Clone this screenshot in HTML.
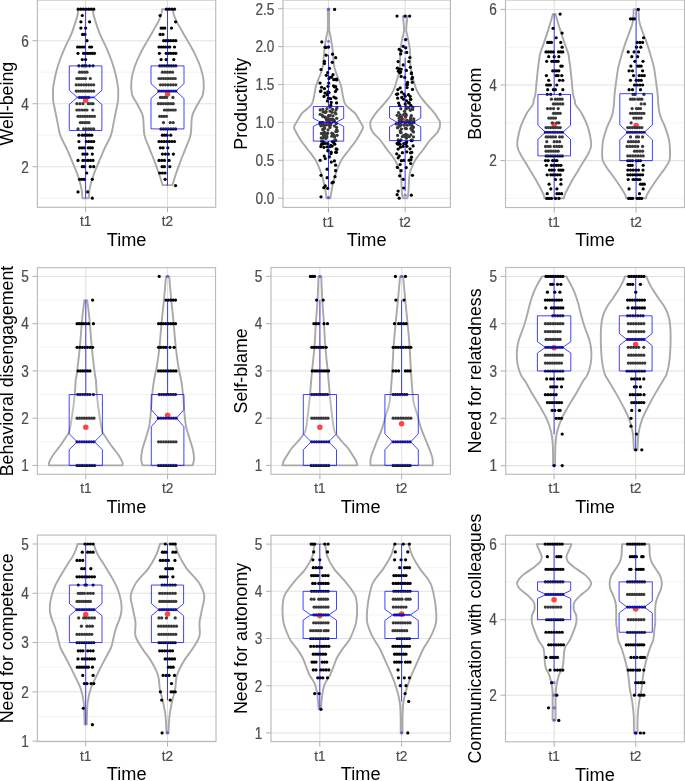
<!DOCTYPE html><html><head><meta charset="utf-8"><style>html,body{margin:0;padding:0;background:#fff;}svg{display:block;will-change:transform;}text{font-family:"Liberation Sans", sans-serif;}</style></head><body>
<svg width="685" height="781" viewBox="0 0 685 781">
<line x1="37.4" x2="215.7" y1="198.2" y2="198.2" stroke="#EBEBEB" stroke-width="0.6"/>
<line x1="37.4" x2="215.7" y1="135.2" y2="135.2" stroke="#EBEBEB" stroke-width="0.6"/>
<line x1="37.4" x2="215.7" y1="72.2" y2="72.2" stroke="#EBEBEB" stroke-width="0.6"/>
<line x1="37.4" x2="215.7" y1="9.2" y2="9.2" stroke="#EBEBEB" stroke-width="0.6"/>
<line x1="37.4" x2="215.7" y1="166.7" y2="166.7" stroke="#E2E2E2" stroke-width="1.05"/>
<line x1="37.4" x2="215.7" y1="103.7" y2="103.7" stroke="#E2E2E2" stroke-width="1.05"/>
<line x1="37.4" x2="215.7" y1="40.7" y2="40.7" stroke="#E2E2E2" stroke-width="1.05"/>
<line x1="85.6" x2="85.6" y1="0" y2="207.3" stroke="#DEDEDE" stroke-width="1.05"/>
<line x1="167.5" x2="167.5" y1="0" y2="207.3" stroke="#DEDEDE" stroke-width="1.05"/>
<path d="M93.30,9.20 C93.30,9.92 93.00,11.67 93.30,13.50 C93.60,15.33 94.03,16.85 95.10,20.20 C96.17,23.55 97.87,29.12 99.70,33.60 C101.53,38.08 104.13,42.62 106.10,47.10 C108.07,51.58 109.93,56.02 111.50,60.50 C113.07,64.98 114.42,69.52 115.50,74.00 C116.58,78.48 117.55,83.90 118.00,87.40 C118.45,90.90 118.20,92.73 118.20,95.00 C118.20,97.27 118.28,98.75 118.00,101.00 C117.72,103.25 117.20,105.02 116.50,108.50 C115.80,111.98 114.73,117.42 113.80,121.90 C112.87,126.38 112.47,130.92 110.90,135.40 C109.33,139.88 106.43,144.32 104.40,148.80 C102.37,153.28 100.55,157.82 98.70,162.30 C96.85,166.78 94.82,171.22 93.30,175.70 C91.78,180.18 90.33,185.45 89.60,189.20 C88.87,192.95 89.02,196.70 88.90,198.20 L82.30,198.20 C82.18,196.70 82.33,192.95 81.60,189.20 C80.87,185.45 79.42,180.18 77.90,175.70 C76.38,171.22 74.35,166.78 72.50,162.30 C70.65,157.82 68.83,153.28 66.80,148.80 C64.77,144.32 61.87,139.88 60.30,135.40 C58.73,130.92 58.33,126.38 57.40,121.90 C56.47,117.42 55.40,111.98 54.70,108.50 C54.00,105.02 53.48,103.25 53.20,101.00 C52.92,98.75 53.00,97.27 53.00,95.00 C53.00,92.73 52.75,90.90 53.20,87.40 C53.65,83.90 54.62,78.48 55.70,74.00 C56.78,69.52 58.13,64.98 59.70,60.50 C61.27,56.02 63.13,51.58 65.10,47.10 C67.07,42.62 69.67,38.08 71.50,33.60 C73.33,29.12 75.03,23.55 76.10,20.20 C77.17,16.85 77.60,15.33 77.90,13.50 C78.20,11.67 77.90,9.92 77.90,9.20 Z" fill="none" stroke="#A9A9A9" stroke-width="1.9" stroke-linejoin="round"/>
<path d="M172.90,9.20 C173.00,9.92 173.00,11.67 173.50,13.50 C174.00,15.33 174.88,17.97 175.90,20.20 C176.92,22.43 177.68,23.53 179.60,26.90 C181.52,30.27 184.87,35.92 187.40,40.40 C189.93,44.88 192.62,49.32 194.80,53.80 C196.98,58.28 199.03,62.82 200.50,67.30 C201.97,71.78 203.18,76.22 203.60,80.70 C204.02,85.18 203.68,90.82 203.00,94.20 C202.32,97.58 200.77,98.62 199.50,101.00 C198.23,103.38 196.58,106.13 195.40,108.50 C194.22,110.87 193.05,112.97 192.40,115.20 C191.75,117.43 191.82,118.53 191.50,121.90 C191.18,125.27 191.52,130.92 190.50,135.40 C189.48,139.88 187.13,144.32 185.40,148.80 C183.67,153.28 181.78,157.82 180.10,162.30 C178.42,166.78 176.57,171.90 175.30,175.70 C174.03,179.50 172.97,183.53 172.50,185.10 L162.50,185.10 C162.03,183.53 160.97,179.50 159.70,175.70 C158.43,171.90 156.58,166.78 154.90,162.30 C153.22,157.82 151.33,153.28 149.60,148.80 C147.87,144.32 145.52,139.88 144.50,135.40 C143.48,130.92 143.82,125.27 143.50,121.90 C143.18,118.53 143.25,117.43 142.60,115.20 C141.95,112.97 140.78,110.87 139.60,108.50 C138.42,106.13 136.77,103.38 135.50,101.00 C134.23,98.62 132.68,97.58 132.00,94.20 C131.32,90.82 130.98,85.18 131.40,80.70 C131.82,76.22 133.03,71.78 134.50,67.30 C135.97,62.82 138.02,58.28 140.20,53.80 C142.38,49.32 145.07,44.88 147.60,40.40 C150.13,35.92 153.48,30.27 155.40,26.90 C157.32,23.53 158.08,22.43 159.10,20.20 C160.12,17.97 161.00,15.33 161.50,13.50 C162.00,11.67 162.00,9.92 162.10,9.20 Z" fill="none" stroke="#A9A9A9" stroke-width="1.9" stroke-linejoin="round"/>
<circle cx="85.60" cy="100.23" r="2.75" fill="#FF1010"/>
<g fill="#000"><circle cx="78.20" cy="9.20" r="1.62"/><circle cx="80.78" cy="9.20" r="1.62"/><circle cx="83.37" cy="9.20" r="1.62"/><circle cx="85.95" cy="9.20" r="1.62"/><circle cx="88.53" cy="9.20" r="1.62"/><circle cx="91.12" cy="9.20" r="1.62"/><circle cx="93.70" cy="9.20" r="1.62"/><circle cx="82.30" cy="15.50" r="1.62"/><circle cx="80.90" cy="21.80" r="1.62"/><circle cx="89.60" cy="21.80" r="1.62"/><circle cx="80.90" cy="28.10" r="1.62"/><circle cx="85.60" cy="28.10" r="1.62"/><circle cx="82.60" cy="34.40" r="1.62"/><circle cx="84.90" cy="34.40" r="1.62"/><circle cx="87.00" cy="40.70" r="1.62"/><circle cx="77.60" cy="47.00" r="1.62"/><circle cx="79.83" cy="47.00" r="1.62"/><circle cx="82.07" cy="47.00" r="1.62"/><circle cx="84.30" cy="47.00" r="1.62"/><circle cx="89.60" cy="47.00" r="1.62"/><circle cx="91.60" cy="47.00" r="1.62"/><circle cx="78.00" cy="53.30" r="1.62"/><circle cx="83.60" cy="53.30" r="1.62"/><circle cx="85.76" cy="53.30" r="1.62"/><circle cx="87.92" cy="53.30" r="1.62"/><circle cx="90.08" cy="53.30" r="1.62"/><circle cx="92.24" cy="53.30" r="1.62"/><circle cx="94.40" cy="53.30" r="1.62"/><circle cx="82.30" cy="59.60" r="1.62"/><circle cx="85.60" cy="59.60" r="1.62"/><circle cx="78.90" cy="65.90" r="1.62"/><circle cx="82.30" cy="65.90" r="1.62"/><circle cx="84.30" cy="65.90" r="1.62"/><circle cx="86.30" cy="65.90" r="1.62"/><circle cx="89.60" cy="65.90" r="1.62"/><circle cx="93.00" cy="65.90" r="1.62"/><circle cx="79.60" cy="72.20" r="1.62"/><circle cx="82.07" cy="72.20" r="1.62"/><circle cx="84.53" cy="72.20" r="1.62"/><circle cx="87.00" cy="72.20" r="1.62"/><circle cx="76.90" cy="78.50" r="1.62"/><circle cx="79.07" cy="78.50" r="1.62"/><circle cx="81.25" cy="78.50" r="1.62"/><circle cx="83.42" cy="78.50" r="1.62"/><circle cx="85.60" cy="78.50" r="1.62"/><circle cx="90.30" cy="78.50" r="1.62"/><circle cx="76.20" cy="84.80" r="1.62"/><circle cx="78.70" cy="84.80" r="1.62"/><circle cx="81.20" cy="84.80" r="1.62"/><circle cx="83.70" cy="84.80" r="1.62"/><circle cx="86.20" cy="84.80" r="1.62"/><circle cx="88.70" cy="84.80" r="1.62"/><circle cx="91.20" cy="84.80" r="1.62"/><circle cx="93.70" cy="84.80" r="1.62"/><circle cx="76.20" cy="91.10" r="1.62"/><circle cx="78.36" cy="91.10" r="1.62"/><circle cx="80.52" cy="91.10" r="1.62"/><circle cx="82.68" cy="91.10" r="1.62"/><circle cx="84.84" cy="91.10" r="1.62"/><circle cx="87.00" cy="91.10" r="1.62"/><circle cx="89.00" cy="91.10" r="1.62"/><circle cx="91.35" cy="91.10" r="1.62"/><circle cx="93.70" cy="91.10" r="1.62"/><circle cx="79.60" cy="97.40" r="1.62"/><circle cx="81.85" cy="97.40" r="1.62"/><circle cx="84.10" cy="97.40" r="1.62"/><circle cx="86.35" cy="97.40" r="1.62"/><circle cx="88.60" cy="97.40" r="1.62"/><circle cx="76.90" cy="103.70" r="1.62"/><circle cx="79.90" cy="103.70" r="1.62"/><circle cx="82.90" cy="103.70" r="1.62"/><circle cx="88.30" cy="103.70" r="1.62"/><circle cx="90.65" cy="103.70" r="1.62"/><circle cx="93.00" cy="103.70" r="1.62"/><circle cx="76.90" cy="110.00" r="1.62"/><circle cx="79.42" cy="110.00" r="1.62"/><circle cx="81.95" cy="110.00" r="1.62"/><circle cx="84.47" cy="110.00" r="1.62"/><circle cx="87.00" cy="110.00" r="1.62"/><circle cx="92.80" cy="110.00" r="1.62"/><circle cx="78.00" cy="116.30" r="1.62"/><circle cx="80.34" cy="116.30" r="1.62"/><circle cx="82.69" cy="116.30" r="1.62"/><circle cx="85.03" cy="116.30" r="1.62"/><circle cx="87.37" cy="116.30" r="1.62"/><circle cx="89.71" cy="116.30" r="1.62"/><circle cx="92.06" cy="116.30" r="1.62"/><circle cx="94.40" cy="116.30" r="1.62"/><circle cx="80.30" cy="122.60" r="1.62"/><circle cx="82.47" cy="122.60" r="1.62"/><circle cx="84.65" cy="122.60" r="1.62"/><circle cx="86.82" cy="122.60" r="1.62"/><circle cx="89.00" cy="122.60" r="1.62"/><circle cx="78.00" cy="128.90" r="1.62"/><circle cx="83.60" cy="128.90" r="1.62"/><circle cx="86.12" cy="128.90" r="1.62"/><circle cx="88.65" cy="128.90" r="1.62"/><circle cx="91.17" cy="128.90" r="1.62"/><circle cx="93.70" cy="128.90" r="1.62"/><circle cx="78.90" cy="135.20" r="1.62"/><circle cx="82.30" cy="135.20" r="1.62"/><circle cx="84.65" cy="135.20" r="1.62"/><circle cx="87.00" cy="135.20" r="1.62"/><circle cx="89.35" cy="135.20" r="1.62"/><circle cx="91.70" cy="135.20" r="1.62"/><circle cx="78.90" cy="141.50" r="1.62"/><circle cx="86.30" cy="141.50" r="1.62"/><circle cx="88.77" cy="141.50" r="1.62"/><circle cx="91.23" cy="141.50" r="1.62"/><circle cx="93.70" cy="141.50" r="1.62"/><circle cx="79.60" cy="147.80" r="1.62"/><circle cx="81.95" cy="147.80" r="1.62"/><circle cx="84.30" cy="147.80" r="1.62"/><circle cx="88.30" cy="147.80" r="1.62"/><circle cx="90.30" cy="147.80" r="1.62"/><circle cx="92.30" cy="147.80" r="1.62"/><circle cx="82.90" cy="154.10" r="1.62"/><circle cx="84.95" cy="154.10" r="1.62"/><circle cx="87.00" cy="154.10" r="1.62"/><circle cx="92.30" cy="154.10" r="1.62"/><circle cx="78.00" cy="160.40" r="1.62"/><circle cx="82.90" cy="160.40" r="1.62"/><circle cx="85.42" cy="160.40" r="1.62"/><circle cx="87.95" cy="160.40" r="1.62"/><circle cx="90.47" cy="160.40" r="1.62"/><circle cx="93.00" cy="160.40" r="1.62"/><circle cx="82.30" cy="166.70" r="1.62"/><circle cx="84.30" cy="166.70" r="1.62"/><circle cx="90.30" cy="166.70" r="1.62"/><circle cx="93.70" cy="166.70" r="1.62"/><circle cx="86.70" cy="173.00" r="1.62"/><circle cx="79.60" cy="179.30" r="1.62"/><circle cx="81.95" cy="179.30" r="1.62"/><circle cx="84.30" cy="179.30" r="1.62"/><circle cx="92.30" cy="179.30" r="1.62"/><circle cx="78.00" cy="191.90" r="1.62"/><circle cx="87.60" cy="191.90" r="1.62"/><circle cx="92.30" cy="198.20" r="1.62"/></g>
<circle cx="167.50" cy="94.25" r="2.75" fill="#FF1010"/>
<g fill="#000"><circle cx="166.50" cy="9.20" r="1.62"/><circle cx="169.17" cy="9.20" r="1.62"/><circle cx="171.83" cy="9.20" r="1.62"/><circle cx="174.50" cy="9.20" r="1.62"/><circle cx="160.10" cy="15.50" r="1.62"/><circle cx="175.60" cy="21.80" r="1.62"/><circle cx="161.10" cy="28.10" r="1.62"/><circle cx="162.95" cy="28.10" r="1.62"/><circle cx="164.80" cy="28.10" r="1.62"/><circle cx="171.50" cy="28.10" r="1.62"/><circle cx="160.10" cy="34.40" r="1.62"/><circle cx="162.90" cy="34.40" r="1.62"/><circle cx="163.70" cy="40.70" r="1.62"/><circle cx="166.12" cy="40.70" r="1.62"/><circle cx="168.54" cy="40.70" r="1.62"/><circle cx="170.96" cy="40.70" r="1.62"/><circle cx="173.38" cy="40.70" r="1.62"/><circle cx="175.80" cy="40.70" r="1.62"/><circle cx="159.00" cy="47.00" r="1.62"/><circle cx="161.16" cy="47.00" r="1.62"/><circle cx="163.32" cy="47.00" r="1.62"/><circle cx="165.48" cy="47.00" r="1.62"/><circle cx="167.64" cy="47.00" r="1.62"/><circle cx="169.80" cy="47.00" r="1.62"/><circle cx="174.50" cy="47.00" r="1.62"/><circle cx="159.40" cy="53.30" r="1.62"/><circle cx="166.20" cy="53.30" r="1.62"/><circle cx="168.60" cy="53.30" r="1.62"/><circle cx="171.00" cy="53.30" r="1.62"/><circle cx="173.40" cy="53.30" r="1.62"/><circle cx="175.80" cy="53.30" r="1.62"/><circle cx="161.10" cy="59.60" r="1.62"/><circle cx="166.20" cy="59.60" r="1.62"/><circle cx="173.80" cy="59.60" r="1.62"/><circle cx="159.70" cy="65.90" r="1.62"/><circle cx="162.00" cy="65.90" r="1.62"/><circle cx="164.30" cy="65.90" r="1.62"/><circle cx="166.60" cy="65.90" r="1.62"/><circle cx="168.90" cy="65.90" r="1.62"/><circle cx="171.20" cy="65.90" r="1.62"/><circle cx="173.50" cy="65.90" r="1.62"/><circle cx="175.80" cy="65.90" r="1.62"/><circle cx="162.40" cy="72.20" r="1.62"/><circle cx="164.93" cy="72.20" r="1.62"/><circle cx="167.45" cy="72.20" r="1.62"/><circle cx="169.97" cy="72.20" r="1.62"/><circle cx="172.50" cy="72.20" r="1.62"/><circle cx="159.00" cy="78.50" r="1.62"/><circle cx="161.31" cy="78.50" r="1.62"/><circle cx="163.63" cy="78.50" r="1.62"/><circle cx="165.94" cy="78.50" r="1.62"/><circle cx="168.26" cy="78.50" r="1.62"/><circle cx="170.57" cy="78.50" r="1.62"/><circle cx="172.89" cy="78.50" r="1.62"/><circle cx="175.20" cy="78.50" r="1.62"/><circle cx="160.40" cy="84.80" r="1.62"/><circle cx="162.97" cy="84.80" r="1.62"/><circle cx="165.53" cy="84.80" r="1.62"/><circle cx="168.10" cy="84.80" r="1.62"/><circle cx="170.67" cy="84.80" r="1.62"/><circle cx="173.23" cy="84.80" r="1.62"/><circle cx="175.80" cy="84.80" r="1.62"/><circle cx="159.00" cy="91.10" r="1.62"/><circle cx="161.40" cy="91.10" r="1.62"/><circle cx="163.80" cy="91.10" r="1.62"/><circle cx="166.20" cy="91.10" r="1.62"/><circle cx="168.60" cy="91.10" r="1.62"/><circle cx="171.00" cy="91.10" r="1.62"/><circle cx="173.40" cy="91.10" r="1.62"/><circle cx="175.80" cy="91.10" r="1.62"/><circle cx="160.40" cy="97.40" r="1.62"/><circle cx="162.43" cy="97.40" r="1.62"/><circle cx="164.47" cy="97.40" r="1.62"/><circle cx="166.50" cy="97.40" r="1.62"/><circle cx="172.90" cy="97.40" r="1.62"/><circle cx="158.40" cy="103.70" r="1.62"/><circle cx="160.87" cy="103.70" r="1.62"/><circle cx="163.33" cy="103.70" r="1.62"/><circle cx="165.80" cy="103.70" r="1.62"/><circle cx="168.27" cy="103.70" r="1.62"/><circle cx="170.73" cy="103.70" r="1.62"/><circle cx="173.20" cy="103.70" r="1.62"/><circle cx="164.40" cy="110.00" r="1.62"/><circle cx="166.56" cy="110.00" r="1.62"/><circle cx="168.72" cy="110.00" r="1.62"/><circle cx="170.88" cy="110.00" r="1.62"/><circle cx="173.04" cy="110.00" r="1.62"/><circle cx="175.20" cy="110.00" r="1.62"/><circle cx="159.70" cy="116.30" r="1.62"/><circle cx="161.93" cy="116.30" r="1.62"/><circle cx="164.17" cy="116.30" r="1.62"/><circle cx="166.40" cy="116.30" r="1.62"/><circle cx="163.50" cy="122.60" r="1.62"/><circle cx="170.20" cy="122.60" r="1.62"/><circle cx="173.20" cy="122.60" r="1.62"/><circle cx="161.00" cy="128.90" r="1.62"/><circle cx="163.43" cy="128.90" r="1.62"/><circle cx="165.87" cy="128.90" r="1.62"/><circle cx="168.30" cy="128.90" r="1.62"/><circle cx="170.73" cy="128.90" r="1.62"/><circle cx="173.17" cy="128.90" r="1.62"/><circle cx="175.60" cy="128.90" r="1.62"/><circle cx="162.40" cy="135.20" r="1.62"/><circle cx="164.75" cy="135.20" r="1.62"/><circle cx="167.10" cy="135.20" r="1.62"/><circle cx="170.70" cy="135.20" r="1.62"/><circle cx="159.00" cy="141.50" r="1.62"/><circle cx="161.58" cy="141.50" r="1.62"/><circle cx="164.17" cy="141.50" r="1.62"/><circle cx="166.75" cy="141.50" r="1.62"/><circle cx="169.33" cy="141.50" r="1.62"/><circle cx="171.92" cy="141.50" r="1.62"/><circle cx="174.50" cy="141.50" r="1.62"/><circle cx="160.40" cy="147.80" r="1.62"/><circle cx="163.10" cy="147.80" r="1.62"/><circle cx="167.80" cy="147.80" r="1.62"/><circle cx="162.40" cy="154.10" r="1.62"/><circle cx="165.40" cy="154.10" r="1.62"/><circle cx="168.40" cy="154.10" r="1.62"/><circle cx="173.40" cy="154.10" r="1.62"/><circle cx="159.00" cy="160.40" r="1.62"/><circle cx="161.70" cy="160.40" r="1.62"/><circle cx="164.40" cy="160.40" r="1.62"/><circle cx="169.10" cy="160.40" r="1.62"/><circle cx="162.10" cy="166.70" r="1.62"/><circle cx="164.40" cy="166.70" r="1.62"/><circle cx="169.80" cy="166.70" r="1.62"/><circle cx="159.70" cy="173.00" r="1.62"/><circle cx="162.40" cy="173.00" r="1.62"/><circle cx="165.10" cy="173.00" r="1.62"/><circle cx="165.10" cy="179.30" r="1.62"/><circle cx="175.60" cy="185.60" r="1.62"/></g>
<line x1="85.60" x2="85.60" y1="9.20" y2="65.90" stroke="#0000FF" stroke-opacity="0.78" stroke-width="0.95"/>
<line x1="85.60" x2="85.60" y1="130.47" y2="198.20" stroke="#0000FF" stroke-opacity="0.78" stroke-width="0.95"/>
<path d="M69.30,65.90 L101.90,65.90 L101.90,90.25 L94.00,97.40 L101.90,104.55 L101.90,130.47 L69.30,130.47 L69.30,104.55 L77.20,97.40 L69.30,90.25 Z" fill="#fff" fill-opacity="0.22" stroke="#0000FF" stroke-opacity="0.78" stroke-width="0.95" stroke-linejoin="miter"/>
<line x1="77.20" x2="94.00" y1="97.40" y2="97.40" stroke="#0000FF" stroke-opacity="0.85" stroke-width="1.7"/>
<line x1="167.50" x2="167.50" y1="9.20" y2="65.90" stroke="#0000FF" stroke-opacity="0.78" stroke-width="0.95"/>
<line x1="167.50" x2="167.50" y1="128.90" y2="185.60" stroke="#0000FF" stroke-opacity="0.78" stroke-width="0.95"/>
<path d="M151.00,65.90 L184.00,65.90 L184.00,83.70 L175.90,91.10 L184.00,98.50 L184.00,128.90 L151.00,128.90 L151.00,98.50 L159.10,91.10 L151.00,83.70 Z" fill="#fff" fill-opacity="0.22" stroke="#0000FF" stroke-opacity="0.78" stroke-width="0.95" stroke-linejoin="miter"/>
<line x1="159.10" x2="175.90" y1="91.10" y2="91.10" stroke="#0000FF" stroke-opacity="0.85" stroke-width="1.7"/>
<rect x="37.4" y="0" width="178.3" height="207.3" fill="none" stroke="#BBBBBB" stroke-width="1.15"/>
<line x1="32.4" x2="37.4" y1="166.7" y2="166.7" stroke="#B3B3B3" stroke-width="1.05"/>
<text transform="translate(28.8 172.5) scale(1 1.17)" font-size="13.6" fill="#4D4D4D" stroke="#4D4D4D" stroke-width="0.2" text-anchor="end">2</text>
<line x1="32.4" x2="37.4" y1="103.7" y2="103.7" stroke="#B3B3B3" stroke-width="1.05"/>
<text transform="translate(28.8 109.5) scale(1 1.17)" font-size="13.6" fill="#4D4D4D" stroke="#4D4D4D" stroke-width="0.2" text-anchor="end">4</text>
<line x1="32.4" x2="37.4" y1="40.7" y2="40.7" stroke="#B3B3B3" stroke-width="1.05"/>
<text transform="translate(28.8 46.5) scale(1 1.17)" font-size="13.6" fill="#4D4D4D" stroke="#4D4D4D" stroke-width="0.2" text-anchor="end">6</text>
<line x1="85.6" x2="85.6" y1="207.3" y2="212.3" stroke="#B3B3B3" stroke-width="1.05"/>
<text transform="translate(85.6 226.4) scale(1 1.12)" font-size="13.6" fill="#4D4D4D" stroke="#4D4D4D" stroke-width="0.2" text-anchor="middle">t1</text>
<line x1="167.5" x2="167.5" y1="207.3" y2="212.3" stroke="#B3B3B3" stroke-width="1.05"/>
<text transform="translate(167.5 226.4) scale(1 1.12)" font-size="13.6" fill="#4D4D4D" stroke="#4D4D4D" stroke-width="0.2" text-anchor="middle">t2</text>
<text transform="translate(126.55 246) scale(1.02 1.08)" font-size="17.8" fill="#000" text-anchor="middle">Time</text>
<text x="13" y="103.65" font-size="17.8" fill="#000" text-anchor="middle" transform="rotate(-90 13 103.65)">Well-being</text>
<line x1="283" x2="450.4" y1="179.25" y2="179.25" stroke="#EBEBEB" stroke-width="0.6"/>
<line x1="283" x2="450.4" y1="141.35" y2="141.35" stroke="#EBEBEB" stroke-width="0.6"/>
<line x1="283" x2="450.4" y1="103.45" y2="103.45" stroke="#EBEBEB" stroke-width="0.6"/>
<line x1="283" x2="450.4" y1="65.55" y2="65.55" stroke="#EBEBEB" stroke-width="0.6"/>
<line x1="283" x2="450.4" y1="27.65" y2="27.65" stroke="#EBEBEB" stroke-width="0.6"/>
<line x1="283" x2="450.4" y1="198.2" y2="198.2" stroke="#E2E2E2" stroke-width="1.05"/>
<line x1="283" x2="450.4" y1="160.3" y2="160.3" stroke="#E2E2E2" stroke-width="1.05"/>
<line x1="283" x2="450.4" y1="122.4" y2="122.4" stroke="#E2E2E2" stroke-width="1.05"/>
<line x1="283" x2="450.4" y1="84.5" y2="84.5" stroke="#E2E2E2" stroke-width="1.05"/>
<line x1="283" x2="450.4" y1="46.6" y2="46.6" stroke="#E2E2E2" stroke-width="1.05"/>
<line x1="283" x2="450.4" y1="8.7" y2="8.7" stroke="#E2E2E2" stroke-width="1.05"/>
<line x1="328.5" x2="328.5" y1="0" y2="207.4" stroke="#DEDEDE" stroke-width="1.05"/>
<line x1="405.15" x2="405.15" y1="0" y2="207.4" stroke="#DEDEDE" stroke-width="1.05"/>
<path d="M329.20,8.70 C329.18,9.75 329.12,12.28 329.10,15.00 C329.08,17.72 329.07,22.38 329.10,25.00 C329.13,27.62 329.08,28.90 329.30,30.70 C329.52,32.50 330.07,34.10 330.40,35.80 C330.73,37.50 331.02,39.20 331.30,40.90 C331.58,42.60 331.87,44.30 332.10,46.00 C332.33,47.70 332.52,49.40 332.70,51.10 C332.88,52.80 333.05,54.50 333.20,56.20 C333.35,57.90 333.43,59.60 333.60,61.30 C333.77,63.00 333.91,64.83 334.20,66.40 C334.49,67.97 334.85,69.13 335.35,70.70 C335.85,72.27 336.56,74.10 337.20,75.80 C337.84,77.50 338.56,79.20 339.20,80.90 C339.84,82.60 340.57,84.30 341.05,86.00 C341.53,87.70 341.73,89.40 342.05,91.10 C342.37,92.80 342.61,94.50 342.95,96.20 C343.29,97.90 343.62,99.83 344.10,101.30 C344.58,102.77 344.82,103.72 345.80,105.00 C346.78,106.28 348.38,107.53 350.00,109.00 C351.62,110.47 353.70,111.50 355.50,113.80 C357.30,116.10 359.55,120.55 360.80,122.80 C362.05,125.05 362.93,125.82 363.00,127.30 C363.07,128.78 362.38,129.47 361.20,131.70 C360.02,133.93 357.92,137.70 355.90,140.70 C353.88,143.70 351.35,146.72 349.10,149.70 C346.85,152.68 344.27,155.62 342.40,158.60 C340.53,161.58 339.17,164.60 337.90,167.60 C336.63,170.60 335.70,173.62 334.80,176.60 C333.90,179.58 333.18,182.22 332.50,185.50 C331.82,188.78 331.03,194.18 330.70,196.30 C330.37,198.42 330.53,197.88 330.50,198.20 L326.50,198.20 C326.47,197.88 326.63,198.42 326.30,196.30 C325.97,194.18 325.18,188.78 324.50,185.50 C323.82,182.22 323.10,179.58 322.20,176.60 C321.30,173.62 320.37,170.60 319.10,167.60 C317.83,164.60 316.47,161.58 314.60,158.60 C312.73,155.62 310.15,152.68 307.90,149.70 C305.65,146.72 303.12,143.70 301.10,140.70 C299.08,137.70 296.98,133.93 295.80,131.70 C294.62,129.47 293.93,128.78 294.00,127.30 C294.07,125.82 294.95,125.05 296.20,122.80 C297.45,120.55 299.70,116.10 301.50,113.80 C303.30,111.50 305.38,110.47 307.00,109.00 C308.62,107.53 310.22,106.28 311.20,105.00 C312.18,103.72 312.42,102.77 312.90,101.30 C313.38,99.83 313.71,97.90 314.05,96.20 C314.39,94.50 314.63,92.80 314.95,91.10 C315.27,89.40 315.47,87.70 315.95,86.00 C316.43,84.30 317.16,82.60 317.80,80.90 C318.44,79.20 319.16,77.50 319.80,75.80 C320.44,74.10 321.15,72.27 321.65,70.70 C322.15,69.13 322.51,67.97 322.80,66.40 C323.09,64.83 323.23,63.00 323.40,61.30 C323.57,59.60 323.65,57.90 323.80,56.20 C323.95,54.50 324.12,52.80 324.30,51.10 C324.48,49.40 324.67,47.70 324.90,46.00 C325.13,44.30 325.42,42.60 325.70,40.90 C325.98,39.20 326.27,37.50 326.60,35.80 C326.93,34.10 327.48,32.50 327.70,30.70 C327.92,28.90 327.87,27.62 327.90,25.00 C327.93,22.38 327.92,17.72 327.90,15.00 C327.88,12.28 327.82,9.75 327.80,8.70 Z" fill="none" stroke="#A9A9A9" stroke-width="1.9" stroke-linejoin="round"/>
<path d="M407.45,16.10 C407.37,16.83 407.11,18.97 406.95,20.50 C406.79,22.03 406.62,23.65 406.50,25.30 C406.38,26.95 406.12,28.70 406.25,30.40 C406.38,32.10 406.94,33.80 407.30,35.50 C407.66,37.20 408.06,38.88 408.40,40.60 C408.74,42.32 409.07,44.08 409.35,45.80 C409.62,47.52 409.90,49.20 410.05,50.90 C410.20,52.60 410.22,54.30 410.25,56.00 C410.28,57.70 410.21,59.40 410.25,61.10 C410.29,62.80 410.33,64.50 410.50,66.20 C410.67,67.90 410.95,69.60 411.25,71.30 C411.55,73.00 411.95,74.95 412.30,76.40 C412.65,77.85 412.79,78.15 413.35,80.00 C413.91,81.85 414.82,85.27 415.65,87.50 C416.48,89.73 417.23,91.45 418.35,93.40 C419.47,95.35 420.85,97.27 422.35,99.20 C423.85,101.13 425.63,103.05 427.35,105.00 C429.07,106.95 431.05,108.95 432.65,110.90 C434.25,112.85 435.70,114.68 436.95,116.70 C438.20,118.72 440.00,120.50 440.15,123.00 C440.30,125.50 439.52,128.87 437.85,131.70 C436.18,134.53 432.67,136.92 430.15,140.00 C427.63,143.08 424.67,147.65 422.75,150.20 C420.83,152.75 419.92,153.60 418.65,155.30 C417.38,157.00 416.17,158.70 415.15,160.40 C414.13,162.10 413.33,163.78 412.55,165.50 C411.77,167.22 410.97,168.98 410.45,170.70 C409.93,172.42 409.70,174.10 409.45,175.80 C409.20,177.50 409.07,179.20 408.95,180.90 C408.83,182.60 408.83,184.30 408.75,186.00 C408.67,187.70 408.57,189.52 408.45,191.10 C408.33,192.68 408.23,194.32 408.05,195.50 C407.87,196.68 407.47,197.75 407.35,198.20 L402.95,198.20 C402.83,197.75 402.43,196.68 402.25,195.50 C402.07,194.32 401.97,192.68 401.85,191.10 C401.73,189.52 401.63,187.70 401.55,186.00 C401.47,184.30 401.47,182.60 401.35,180.90 C401.23,179.20 401.10,177.50 400.85,175.80 C400.60,174.10 400.37,172.42 399.85,170.70 C399.33,168.98 398.53,167.22 397.75,165.50 C396.97,163.78 396.17,162.10 395.15,160.40 C394.13,158.70 392.92,157.00 391.65,155.30 C390.38,153.60 389.47,152.75 387.55,150.20 C385.63,147.65 382.67,143.08 380.15,140.00 C377.63,136.92 374.12,134.53 372.45,131.70 C370.78,128.87 370.00,125.50 370.15,123.00 C370.30,120.50 372.10,118.72 373.35,116.70 C374.60,114.68 376.05,112.85 377.65,110.90 C379.25,108.95 381.23,106.95 382.95,105.00 C384.67,103.05 386.45,101.13 387.95,99.20 C389.45,97.27 390.83,95.35 391.95,93.40 C393.07,91.45 393.82,89.73 394.65,87.50 C395.48,85.27 396.39,81.85 396.95,80.00 C397.51,78.15 397.65,77.85 398.00,76.40 C398.35,74.95 398.75,73.00 399.05,71.30 C399.35,69.60 399.63,67.90 399.80,66.20 C399.97,64.50 400.01,62.80 400.05,61.10 C400.09,59.40 400.02,57.70 400.05,56.00 C400.08,54.30 400.10,52.60 400.25,50.90 C400.40,49.20 400.68,47.52 400.95,45.80 C401.22,44.08 401.56,42.32 401.90,40.60 C402.24,38.88 402.64,37.20 403.00,35.50 C403.36,33.80 403.92,32.10 404.05,30.40 C404.18,28.70 403.92,26.95 403.80,25.30 C403.68,23.65 403.51,22.03 403.35,20.50 C403.19,18.97 402.93,16.83 402.85,16.10 Z" fill="none" stroke="#A9A9A9" stroke-width="1.9" stroke-linejoin="round"/>
<circle cx="328.50" cy="122.40" r="2.75" fill="#FF1010"/>
<g fill="#000"><circle cx="335.97" cy="109.90" r="1.62"/><circle cx="330.04" cy="111.05" r="1.62"/><circle cx="321.36" cy="125.17" r="1.62"/><circle cx="333.95" cy="97.09" r="1.62"/><circle cx="336.99" cy="130.64" r="1.62"/><circle cx="319.96" cy="123.94" r="1.62"/><circle cx="323.05" cy="116.44" r="1.62"/><circle cx="327.87" cy="91.81" r="1.62"/><circle cx="328.50" cy="115.64" r="1.62"/><circle cx="324.60" cy="127.97" r="1.62"/><circle cx="325.25" cy="143.26" r="1.62"/><circle cx="320.94" cy="90.75" r="1.62"/><circle cx="334.60" cy="136.90" r="1.62"/><circle cx="323.39" cy="143.87" r="1.62"/><circle cx="336.95" cy="149.28" r="1.62"/><circle cx="330.78" cy="105.18" r="1.62"/><circle cx="321.23" cy="137.95" r="1.62"/><circle cx="324.04" cy="136.19" r="1.62"/><circle cx="333.73" cy="79.69" r="1.62"/><circle cx="332.58" cy="109.48" r="1.62"/><circle cx="336.79" cy="89.31" r="1.62"/><circle cx="335.27" cy="140.09" r="1.62"/><circle cx="321.47" cy="144.48" r="1.62"/><circle cx="324.25" cy="156.08" r="1.62"/><circle cx="324.92" cy="137.45" r="1.62"/><circle cx="329.96" cy="77.31" r="1.62"/><circle cx="336.58" cy="102.97" r="1.62"/><circle cx="334.95" cy="112.60" r="1.62"/><circle cx="335.69" cy="86.72" r="1.62"/><circle cx="323.04" cy="141.33" r="1.62"/><circle cx="327.12" cy="146.87" r="1.62"/><circle cx="336.64" cy="79.93" r="1.62"/><circle cx="322.79" cy="122.30" r="1.62"/><circle cx="323.72" cy="132.95" r="1.62"/><circle cx="330.51" cy="119.11" r="1.62"/><circle cx="324.44" cy="88.54" r="1.62"/><circle cx="322.80" cy="109.33" r="1.62"/><circle cx="329.99" cy="127.50" r="1.62"/><circle cx="320.01" cy="83.07" r="1.62"/><circle cx="330.90" cy="153.80" r="1.62"/><circle cx="325.31" cy="112.47" r="1.62"/><circle cx="329.31" cy="156.94" r="1.62"/><circle cx="332.67" cy="134.38" r="1.62"/><circle cx="335.80" cy="131.52" r="1.62"/><circle cx="330.70" cy="145.26" r="1.62"/><circle cx="330.95" cy="123.36" r="1.62"/><circle cx="332.64" cy="133.63" r="1.62"/><circle cx="334.46" cy="120.96" r="1.62"/><circle cx="331.99" cy="112.36" r="1.62"/><circle cx="335.90" cy="113.76" r="1.62"/><circle cx="325.00" cy="93.00" r="1.62"/><circle cx="322.69" cy="129.32" r="1.62"/><circle cx="329.96" cy="146.70" r="1.62"/><circle cx="328.44" cy="98.22" r="1.62"/><circle cx="327.63" cy="94.80" r="1.62"/><circle cx="326.99" cy="94.66" r="1.62"/><circle cx="325.25" cy="124.81" r="1.62"/><circle cx="320.25" cy="109.91" r="1.62"/><circle cx="332.17" cy="146.06" r="1.62"/><circle cx="333.63" cy="120.07" r="1.62"/><circle cx="327.71" cy="72.64" r="1.62"/><circle cx="320.53" cy="91.42" r="1.62"/><circle cx="330.79" cy="125.11" r="1.62"/><circle cx="336.57" cy="127.33" r="1.62"/><circle cx="328.06" cy="129.87" r="1.62"/><circle cx="328.01" cy="86.37" r="1.62"/><circle cx="324.49" cy="132.42" r="1.62"/><circle cx="333.01" cy="115.76" r="1.62"/><circle cx="336.11" cy="148.94" r="1.62"/><circle cx="327.68" cy="133.12" r="1.62"/><circle cx="326.33" cy="124.80" r="1.62"/><circle cx="333.72" cy="119.92" r="1.62"/><circle cx="331.16" cy="152.21" r="1.62"/><circle cx="332.33" cy="141.38" r="1.62"/><circle cx="325.34" cy="117.18" r="1.62"/><circle cx="327.46" cy="100.97" r="1.62"/><circle cx="328.28" cy="118.33" r="1.62"/><circle cx="333.57" cy="85.87" r="1.62"/><circle cx="328.79" cy="83.08" r="1.62"/><circle cx="331.83" cy="133.23" r="1.62"/><circle cx="336.41" cy="152.33" r="1.62"/><circle cx="328.97" cy="78.40" r="1.62"/><circle cx="334.55" cy="125.94" r="1.62"/><circle cx="326.41" cy="119.16" r="1.62"/><circle cx="329.13" cy="120.28" r="1.62"/><circle cx="320.19" cy="114.27" r="1.62"/><circle cx="331.86" cy="119.41" r="1.62"/><circle cx="328.03" cy="150.41" r="1.62"/><circle cx="323.07" cy="111.98" r="1.62"/><circle cx="321.98" cy="124.14" r="1.62"/><circle cx="323.12" cy="138.02" r="1.62"/><circle cx="330.61" cy="98.70" r="1.62"/><circle cx="329.03" cy="92.55" r="1.62"/><circle cx="326.98" cy="108.56" r="1.62"/><circle cx="323.30" cy="116.52" r="1.62"/><circle cx="329.02" cy="125.29" r="1.62"/><circle cx="334.78" cy="144.21" r="1.62"/><circle cx="335.94" cy="98.17" r="1.62"/><circle cx="323.91" cy="147.33" r="1.62"/><circle cx="321.41" cy="133.49" r="1.62"/><circle cx="333.60" cy="142.57" r="1.62"/><circle cx="323.24" cy="129.93" r="1.62"/><circle cx="336.74" cy="129.68" r="1.62"/><circle cx="331.77" cy="136.20" r="1.62"/><circle cx="321.57" cy="87.25" r="1.62"/><circle cx="322.28" cy="115.27" r="1.62"/><circle cx="334.49" cy="86.87" r="1.62"/><circle cx="336.45" cy="79.19" r="1.62"/><circle cx="330.28" cy="115.31" r="1.62"/><circle cx="327.69" cy="143.61" r="1.62"/><circle cx="323.13" cy="134.58" r="1.62"/><circle cx="334.85" cy="139.95" r="1.62"/><circle cx="330.25" cy="125.13" r="1.62"/><circle cx="335.74" cy="140.21" r="1.62"/><circle cx="334.04" cy="135.02" r="1.62"/><circle cx="326.84" cy="136.99" r="1.62"/><circle cx="325.71" cy="133.15" r="1.62"/><circle cx="325.96" cy="111.32" r="1.62"/><circle cx="323.79" cy="125.93" r="1.62"/><circle cx="326.56" cy="119.98" r="1.62"/><circle cx="336.95" cy="131.31" r="1.62"/><circle cx="326.77" cy="134.54" r="1.62"/><circle cx="326.31" cy="75.34" r="1.62"/><circle cx="335.64" cy="79.47" r="1.62"/><circle cx="336.72" cy="118.30" r="1.62"/><circle cx="321.04" cy="125.87" r="1.62"/><circle cx="320.49" cy="122.39" r="1.62"/><circle cx="328.00" cy="150.99" r="1.62"/><circle cx="336.34" cy="123.56" r="1.62"/><circle cx="330.22" cy="107.18" r="1.62"/><circle cx="331.23" cy="102.44" r="1.62"/><circle cx="332.31" cy="119.22" r="1.62"/><circle cx="324.01" cy="96.46" r="1.62"/><circle cx="332.98" cy="74.68" r="1.62"/><circle cx="337.10" cy="135.36" r="1.62"/><circle cx="335.64" cy="152.22" r="1.62"/><circle cx="336.83" cy="107.94" r="1.62"/><circle cx="321.73" cy="141.24" r="1.62"/><circle cx="323.28" cy="124.69" r="1.62"/><circle cx="324.31" cy="128.44" r="1.62"/><circle cx="333.39" cy="121.07" r="1.62"/><circle cx="335.41" cy="91.50" r="1.62"/><circle cx="326.02" cy="138.45" r="1.62"/><circle cx="330.84" cy="119.58" r="1.62"/><circle cx="324.08" cy="135.79" r="1.62"/><circle cx="320.77" cy="146.57" r="1.62"/><circle cx="329.23" cy="124.61" r="1.62"/><circle cx="331.60" cy="77.23" r="1.62"/><circle cx="326.27" cy="118.35" r="1.62"/><circle cx="325.75" cy="112.16" r="1.62"/><circle cx="321.00" cy="196.80" r="1.62"/><circle cx="323.80" cy="187.70" r="1.62"/><circle cx="325.30" cy="185.90" r="1.62"/><circle cx="327.70" cy="188.30" r="1.62"/><circle cx="332.00" cy="182.80" r="1.62"/><circle cx="333.20" cy="182.20" r="1.62"/><circle cx="335.00" cy="176.70" r="1.62"/><circle cx="335.60" cy="170.70" r="1.62"/><circle cx="321.00" cy="175.30" r="1.62"/><circle cx="327.10" cy="177.70" r="1.62"/><circle cx="327.10" cy="169.20" r="1.62"/><circle cx="320.20" cy="160.30" r="1.62"/><circle cx="325.30" cy="158.50" r="1.62"/><circle cx="331.30" cy="162.10" r="1.62"/><circle cx="335.60" cy="165.20" r="1.62"/><circle cx="334.40" cy="160.90" r="1.62"/><circle cx="334.60" cy="9.40" r="1.62"/><circle cx="321.80" cy="41.90" r="1.62"/><circle cx="325.10" cy="47.20" r="1.62"/><circle cx="325.90" cy="47.40" r="1.62"/><circle cx="328.50" cy="47.10" r="1.62"/><circle cx="326.10" cy="55.20" r="1.62"/><circle cx="332.60" cy="54.20" r="1.62"/><circle cx="335.70" cy="57.70" r="1.62"/><circle cx="324.40" cy="61.30" r="1.62"/><circle cx="324.40" cy="63.60" r="1.62"/><circle cx="332.30" cy="62.30" r="1.62"/><circle cx="321.00" cy="69.50" r="1.62"/><circle cx="329.50" cy="68.30" r="1.62"/></g>
<circle cx="405.15" cy="120.88" r="2.75" fill="#FF1010"/>
<g fill="#000"><circle cx="406.77" cy="151.81" r="1.62"/><circle cx="398.64" cy="103.07" r="1.62"/><circle cx="408.85" cy="61.58" r="1.62"/><circle cx="409.27" cy="102.81" r="1.62"/><circle cx="410.13" cy="96.34" r="1.62"/><circle cx="407.28" cy="120.27" r="1.62"/><circle cx="406.42" cy="138.02" r="1.62"/><circle cx="397.86" cy="127.70" r="1.62"/><circle cx="406.74" cy="108.30" r="1.62"/><circle cx="399.55" cy="105.53" r="1.62"/><circle cx="398.36" cy="143.85" r="1.62"/><circle cx="401.20" cy="69.25" r="1.62"/><circle cx="402.17" cy="118.57" r="1.62"/><circle cx="401.71" cy="97.44" r="1.62"/><circle cx="400.90" cy="139.87" r="1.62"/><circle cx="400.54" cy="132.54" r="1.62"/><circle cx="399.29" cy="120.64" r="1.62"/><circle cx="403.68" cy="160.40" r="1.62"/><circle cx="413.50" cy="136.90" r="1.62"/><circle cx="397.69" cy="98.21" r="1.62"/><circle cx="412.78" cy="107.46" r="1.62"/><circle cx="398.17" cy="157.85" r="1.62"/><circle cx="405.92" cy="114.01" r="1.62"/><circle cx="403.77" cy="143.54" r="1.62"/><circle cx="402.38" cy="152.69" r="1.62"/><circle cx="410.90" cy="116.94" r="1.62"/><circle cx="413.10" cy="145.88" r="1.62"/><circle cx="406.22" cy="115.35" r="1.62"/><circle cx="408.99" cy="107.96" r="1.62"/><circle cx="411.62" cy="140.70" r="1.62"/><circle cx="408.66" cy="102.95" r="1.62"/><circle cx="405.84" cy="108.94" r="1.62"/><circle cx="401.59" cy="116.81" r="1.62"/><circle cx="411.78" cy="152.47" r="1.62"/><circle cx="410.02" cy="148.80" r="1.62"/><circle cx="401.48" cy="129.03" r="1.62"/><circle cx="401.67" cy="92.24" r="1.62"/><circle cx="410.72" cy="99.31" r="1.62"/><circle cx="400.85" cy="108.69" r="1.62"/><circle cx="400.17" cy="87.92" r="1.62"/><circle cx="404.49" cy="111.26" r="1.62"/><circle cx="410.56" cy="124.95" r="1.62"/><circle cx="412.46" cy="89.48" r="1.62"/><circle cx="413.53" cy="127.09" r="1.62"/><circle cx="396.69" cy="153.83" r="1.62"/><circle cx="409.23" cy="122.54" r="1.62"/><circle cx="410.81" cy="118.26" r="1.62"/><circle cx="402.10" cy="121.70" r="1.62"/><circle cx="411.43" cy="72.95" r="1.62"/><circle cx="404.02" cy="114.47" r="1.62"/><circle cx="405.77" cy="134.31" r="1.62"/><circle cx="400.68" cy="120.29" r="1.62"/><circle cx="410.81" cy="105.33" r="1.62"/><circle cx="403.88" cy="114.78" r="1.62"/><circle cx="413.62" cy="122.26" r="1.62"/><circle cx="397.45" cy="127.74" r="1.62"/><circle cx="403.08" cy="146.38" r="1.62"/><circle cx="403.22" cy="64.94" r="1.62"/><circle cx="401.15" cy="132.72" r="1.62"/><circle cx="398.49" cy="112.51" r="1.62"/><circle cx="405.71" cy="137.02" r="1.62"/><circle cx="401.35" cy="160.71" r="1.62"/><circle cx="410.27" cy="110.30" r="1.62"/><circle cx="399.04" cy="118.25" r="1.62"/><circle cx="412.56" cy="128.37" r="1.62"/><circle cx="410.91" cy="159.84" r="1.62"/><circle cx="410.35" cy="67.25" r="1.62"/><circle cx="401.14" cy="124.72" r="1.62"/><circle cx="399.83" cy="126.25" r="1.62"/><circle cx="397.60" cy="135.44" r="1.62"/><circle cx="400.18" cy="144.30" r="1.62"/><circle cx="406.42" cy="137.95" r="1.62"/><circle cx="398.80" cy="141.99" r="1.62"/><circle cx="406.62" cy="141.87" r="1.62"/><circle cx="411.00" cy="128.74" r="1.62"/><circle cx="398.81" cy="141.74" r="1.62"/><circle cx="405.27" cy="122.83" r="1.62"/><circle cx="405.80" cy="143.19" r="1.62"/><circle cx="410.44" cy="120.70" r="1.62"/><circle cx="406.91" cy="146.27" r="1.62"/><circle cx="405.16" cy="96.21" r="1.62"/><circle cx="406.03" cy="106.79" r="1.62"/><circle cx="406.78" cy="84.71" r="1.62"/><circle cx="406.24" cy="135.57" r="1.62"/><circle cx="404.21" cy="125.24" r="1.62"/><circle cx="403.88" cy="94.12" r="1.62"/><circle cx="411.46" cy="157.22" r="1.62"/><circle cx="398.21" cy="139.92" r="1.62"/><circle cx="407.37" cy="135.22" r="1.62"/><circle cx="398.88" cy="124.89" r="1.62"/><circle cx="407.28" cy="125.14" r="1.62"/><circle cx="403.43" cy="135.90" r="1.62"/><circle cx="396.54" cy="94.26" r="1.62"/><circle cx="397.78" cy="93.94" r="1.62"/><circle cx="412.65" cy="109.49" r="1.62"/><circle cx="411.26" cy="140.17" r="1.62"/><circle cx="407.08" cy="87.57" r="1.62"/><circle cx="407.39" cy="84.56" r="1.62"/><circle cx="412.66" cy="131.06" r="1.62"/><circle cx="402.33" cy="136.58" r="1.62"/><circle cx="411.31" cy="115.51" r="1.62"/><circle cx="398.38" cy="71.13" r="1.62"/><circle cx="398.13" cy="149.03" r="1.62"/><circle cx="406.40" cy="128.68" r="1.62"/><circle cx="409.26" cy="136.75" r="1.62"/><circle cx="409.77" cy="123.43" r="1.62"/><circle cx="410.86" cy="134.96" r="1.62"/><circle cx="397.12" cy="115.27" r="1.62"/><circle cx="412.43" cy="108.66" r="1.62"/><circle cx="400.39" cy="147.23" r="1.62"/><circle cx="411.80" cy="78.93" r="1.62"/><circle cx="413.77" cy="118.98" r="1.62"/><circle cx="410.54" cy="120.07" r="1.62"/><circle cx="403.51" cy="99.25" r="1.62"/><circle cx="407.57" cy="82.41" r="1.62"/><circle cx="397.86" cy="89.59" r="1.62"/><circle cx="412.40" cy="77.38" r="1.62"/><circle cx="403.59" cy="135.72" r="1.62"/><circle cx="411.59" cy="124.38" r="1.62"/><circle cx="399.76" cy="72.82" r="1.62"/><circle cx="411.34" cy="73.51" r="1.62"/><circle cx="405.30" cy="113.96" r="1.62"/><circle cx="397.15" cy="143.29" r="1.62"/><circle cx="405.25" cy="128.28" r="1.62"/><circle cx="396.36" cy="123.99" r="1.62"/><circle cx="406.56" cy="100.80" r="1.62"/><circle cx="411.20" cy="128.29" r="1.62"/><circle cx="397.89" cy="144.21" r="1.62"/><circle cx="413.51" cy="131.90" r="1.62"/><circle cx="410.19" cy="123.78" r="1.62"/><circle cx="412.28" cy="82.31" r="1.62"/><circle cx="400.22" cy="130.86" r="1.62"/><circle cx="406.34" cy="70.46" r="1.62"/><circle cx="410.53" cy="99.37" r="1.62"/><circle cx="410.55" cy="152.76" r="1.62"/><circle cx="399.26" cy="155.98" r="1.62"/><circle cx="412.22" cy="140.14" r="1.62"/><circle cx="409.16" cy="160.16" r="1.62"/><circle cx="400.19" cy="114.79" r="1.62"/><circle cx="399.67" cy="116.83" r="1.62"/><circle cx="405.89" cy="143.69" r="1.62"/><circle cx="412.12" cy="125.95" r="1.62"/><circle cx="411.72" cy="129.78" r="1.62"/><circle cx="399.26" cy="123.60" r="1.62"/><circle cx="400.29" cy="140.46" r="1.62"/><circle cx="405.62" cy="116.98" r="1.62"/><circle cx="408.51" cy="94.73" r="1.62"/><circle cx="405.20" cy="103.93" r="1.62"/><circle cx="407.19" cy="121.71" r="1.62"/><circle cx="413.72" cy="120.96" r="1.62"/><circle cx="399.15" cy="198.20" r="1.62"/><circle cx="397.15" cy="194.70" r="1.62"/><circle cx="398.15" cy="191.10" r="1.62"/><circle cx="411.35" cy="195.20" r="1.62"/><circle cx="403.75" cy="188.00" r="1.62"/><circle cx="403.25" cy="179.30" r="1.62"/><circle cx="399.65" cy="175.80" r="1.62"/><circle cx="412.45" cy="175.30" r="1.62"/><circle cx="401.15" cy="170.70" r="1.62"/><circle cx="406.25" cy="167.60" r="1.62"/><circle cx="397.35" cy="167.40" r="1.62"/><circle cx="400.15" cy="164.50" r="1.62"/><circle cx="410.65" cy="163.50" r="1.62"/><circle cx="397.05" cy="16.10" r="1.62"/><circle cx="409.65" cy="16.10" r="1.62"/><circle cx="405.15" cy="16.10" r="1.62"/><circle cx="405.75" cy="39.60" r="1.62"/><circle cx="403.25" cy="46.30" r="1.62"/><circle cx="405.75" cy="47.80" r="1.62"/><circle cx="399.15" cy="49.30" r="1.62"/><circle cx="401.15" cy="50.90" r="1.62"/><circle cx="400.65" cy="53.90" r="1.62"/><circle cx="406.75" cy="52.40" r="1.62"/><circle cx="409.85" cy="57.50" r="1.62"/><circle cx="398.15" cy="61.60" r="1.62"/><circle cx="397.35" cy="68.20" r="1.62"/><circle cx="399.65" cy="69.00" r="1.62"/><circle cx="400.65" cy="72.10" r="1.62"/><circle cx="401.15" cy="76.40" r="1.62"/><circle cx="404.75" cy="77.40" r="1.62"/></g>
<line x1="328.50" x2="328.50" y1="54.71" y2="106.48" stroke="#0000FF" stroke-opacity="0.78" stroke-width="0.95"/>
<line x1="328.50" x2="328.50" y1="141.12" y2="188.35" stroke="#0000FF" stroke-opacity="0.78" stroke-width="0.95"/>
<path d="M313.30,106.48 L343.70,106.48 L343.70,118.40 L335.90,122.40 L343.70,126.40 L343.70,141.12 L313.30,141.12 L313.30,126.40 L321.10,122.40 L313.30,118.40 Z" fill="#fff" fill-opacity="0.22" stroke="#0000FF" stroke-opacity="0.78" stroke-width="0.95" stroke-linejoin="miter"/>
<line x1="321.10" x2="335.90" y1="122.40" y2="122.40" stroke="#0000FF" stroke-opacity="0.85" stroke-width="1.7"/>
<circle cx="328.50" cy="9.46" r="1.62" fill="#0000FF" fill-opacity="0.45"/>
<circle cx="328.50" cy="41.29" r="1.62" fill="#0000FF" fill-opacity="0.45"/>
<circle cx="328.50" cy="46.98" r="1.62" fill="#0000FF" fill-opacity="0.45"/>
<circle cx="328.50" cy="197.44" r="1.62" fill="#0000FF" fill-opacity="0.45"/>
<line x1="405.15" x2="405.15" y1="57.52" y2="106.48" stroke="#0000FF" stroke-opacity="0.78" stroke-width="0.95"/>
<line x1="405.15" x2="405.15" y1="140.59" y2="191.00" stroke="#0000FF" stroke-opacity="0.78" stroke-width="0.95"/>
<path d="M389.55,106.48 L420.75,106.48 L420.75,118.00 L413.05,122.40 L420.75,126.80 L420.75,140.59 L389.55,140.59 L389.55,126.80 L397.25,122.40 L389.55,118.00 Z" fill="#fff" fill-opacity="0.22" stroke="#0000FF" stroke-opacity="0.78" stroke-width="0.95" stroke-linejoin="miter"/>
<line x1="397.25" x2="413.05" y1="122.40" y2="122.40" stroke="#0000FF" stroke-opacity="0.85" stroke-width="1.7"/>
<circle cx="405.15" cy="16.28" r="1.62" fill="#0000FF" fill-opacity="0.45"/>
<circle cx="405.15" cy="39.78" r="1.62" fill="#0000FF" fill-opacity="0.45"/>
<circle cx="405.15" cy="47.36" r="1.62" fill="#0000FF" fill-opacity="0.45"/>
<circle cx="405.15" cy="52.66" r="1.62" fill="#0000FF" fill-opacity="0.45"/>
<circle cx="405.15" cy="195.17" r="1.62" fill="#0000FF" fill-opacity="0.45"/>
<rect x="283" y="0" width="167.4" height="207.4" fill="none" stroke="#BBBBBB" stroke-width="1.15"/>
<line x1="278" x2="283" y1="198.2" y2="198.2" stroke="#B3B3B3" stroke-width="1.05"/>
<text transform="translate(274.4 204) scale(1 1.17)" font-size="13.6" fill="#4D4D4D" stroke="#4D4D4D" stroke-width="0.2" text-anchor="end">0.0</text>
<line x1="278" x2="283" y1="160.3" y2="160.3" stroke="#B3B3B3" stroke-width="1.05"/>
<text transform="translate(274.4 166.1) scale(1 1.17)" font-size="13.6" fill="#4D4D4D" stroke="#4D4D4D" stroke-width="0.2" text-anchor="end">0.5</text>
<line x1="278" x2="283" y1="122.4" y2="122.4" stroke="#B3B3B3" stroke-width="1.05"/>
<text transform="translate(274.4 128.2) scale(1 1.17)" font-size="13.6" fill="#4D4D4D" stroke="#4D4D4D" stroke-width="0.2" text-anchor="end">1.0</text>
<line x1="278" x2="283" y1="84.5" y2="84.5" stroke="#B3B3B3" stroke-width="1.05"/>
<text transform="translate(274.4 90.3) scale(1 1.17)" font-size="13.6" fill="#4D4D4D" stroke="#4D4D4D" stroke-width="0.2" text-anchor="end">1.5</text>
<line x1="278" x2="283" y1="46.6" y2="46.6" stroke="#B3B3B3" stroke-width="1.05"/>
<text transform="translate(274.4 52.4) scale(1 1.17)" font-size="13.6" fill="#4D4D4D" stroke="#4D4D4D" stroke-width="0.2" text-anchor="end">2.0</text>
<line x1="278" x2="283" y1="8.7" y2="8.7" stroke="#B3B3B3" stroke-width="1.05"/>
<text transform="translate(274.4 14.5) scale(1 1.17)" font-size="13.6" fill="#4D4D4D" stroke="#4D4D4D" stroke-width="0.2" text-anchor="end">2.5</text>
<line x1="328.5" x2="328.5" y1="207.4" y2="212.4" stroke="#B3B3B3" stroke-width="1.05"/>
<text transform="translate(328.5 226.5) scale(1 1.12)" font-size="13.6" fill="#4D4D4D" stroke="#4D4D4D" stroke-width="0.2" text-anchor="middle">t1</text>
<line x1="405.15" x2="405.15" y1="207.4" y2="212.4" stroke="#B3B3B3" stroke-width="1.05"/>
<text transform="translate(405.15 226.5) scale(1 1.12)" font-size="13.6" fill="#4D4D4D" stroke="#4D4D4D" stroke-width="0.2" text-anchor="middle">t2</text>
<text transform="translate(366.7 246.1) scale(1.02 1.08)" font-size="17.8" fill="#000" text-anchor="middle">Time</text>
<text x="246.9" y="103.7" font-size="17.8" fill="#000" text-anchor="middle" transform="rotate(-90 246.9 103.7)">Productivity</text>
<line x1="505.5" x2="684.5" y1="198.4" y2="198.4" stroke="#EBEBEB" stroke-width="0.6"/>
<line x1="505.5" x2="684.5" y1="122.8" y2="122.8" stroke="#EBEBEB" stroke-width="0.6"/>
<line x1="505.5" x2="684.5" y1="47.2" y2="47.2" stroke="#EBEBEB" stroke-width="0.6"/>
<line x1="505.5" x2="684.5" y1="160.6" y2="160.6" stroke="#E2E2E2" stroke-width="1.05"/>
<line x1="505.5" x2="684.5" y1="85" y2="85" stroke="#E2E2E2" stroke-width="1.05"/>
<line x1="505.5" x2="684.5" y1="9.4" y2="9.4" stroke="#E2E2E2" stroke-width="1.05"/>
<line x1="554.2" x2="554.2" y1="0" y2="207.5" stroke="#DEDEDE" stroke-width="1.05"/>
<line x1="636.1" x2="636.1" y1="0" y2="207.5" stroke="#DEDEDE" stroke-width="1.05"/>
<path d="M555.50,13.90 C555.78,14.95 556.58,18.03 557.20,20.20 C557.82,22.37 558.13,23.53 559.20,26.90 C560.27,30.27 562.08,35.92 563.60,40.40 C565.12,44.88 567.35,50.45 568.30,53.80 C569.25,57.15 568.97,58.25 569.30,60.50 C569.63,62.75 569.90,63.93 570.30,67.30 C570.70,70.67 571.25,76.22 571.70,80.70 C572.15,85.18 572.50,90.98 573.00,94.20 C573.50,97.42 574.25,98.22 574.70,100.00 C575.15,101.78 574.52,102.65 575.70,104.90 C576.88,107.15 579.78,109.83 581.80,113.50 C583.82,117.17 586.28,122.42 587.80,126.90 C589.32,131.38 590.38,137.03 590.90,140.40 C591.42,143.77 591.35,144.87 590.90,147.10 C590.45,149.33 590.00,150.43 588.20,153.80 C586.40,157.17 582.80,162.82 580.10,167.30 C577.40,171.78 574.52,176.22 572.00,180.70 C569.48,185.18 566.33,191.28 565.00,194.20 C563.67,197.12 564.17,197.53 564.00,198.20 L544.40,198.20 C544.23,197.53 544.73,197.12 543.40,194.20 C542.07,191.28 538.92,185.18 536.40,180.70 C533.88,176.22 531.00,171.78 528.30,167.30 C525.60,162.82 522.00,157.17 520.20,153.80 C518.40,150.43 517.95,149.33 517.50,147.10 C517.05,144.87 516.98,143.77 517.50,140.40 C518.02,137.03 519.08,131.38 520.60,126.90 C522.12,122.42 524.58,117.17 526.60,113.50 C528.62,109.83 531.52,107.15 532.70,104.90 C533.88,102.65 533.25,101.78 533.70,100.00 C534.15,98.22 534.90,97.42 535.40,94.20 C535.90,90.98 536.25,85.18 536.70,80.70 C537.15,76.22 537.70,70.67 538.10,67.30 C538.50,63.93 538.77,62.75 539.10,60.50 C539.43,58.25 539.15,57.15 540.10,53.80 C541.05,50.45 543.28,44.88 544.80,40.40 C546.32,35.92 548.13,30.27 549.20,26.90 C550.27,23.53 550.58,22.37 551.20,20.20 C551.82,18.03 552.62,14.95 552.90,13.90 Z" fill="none" stroke="#A9A9A9" stroke-width="1.9" stroke-linejoin="round"/>
<path d="M638.50,9.10 C638.60,10.95 638.72,17.23 639.10,20.20 C639.48,23.17 639.67,23.53 640.80,26.90 C641.93,30.27 644.33,35.92 645.90,40.40 C647.47,44.88 648.87,49.32 650.20,53.80 C651.53,58.28 652.95,62.82 653.90,67.30 C654.85,71.78 655.28,76.22 655.90,80.70 C656.52,85.18 657.20,90.17 657.60,94.20 C658.00,98.23 657.97,101.68 658.30,104.90 C658.63,108.12 658.98,110.95 659.60,113.50 C660.22,116.05 661.10,117.97 662.00,120.20 C662.90,122.43 663.82,123.53 665.00,126.90 C666.18,130.27 668.25,135.92 669.10,140.40 C669.95,144.88 670.05,150.45 670.10,153.80 C670.15,157.15 670.13,158.25 669.40,160.50 C668.67,162.75 667.95,163.93 665.70,167.30 C663.45,170.67 658.98,176.22 655.90,180.70 C652.82,185.18 648.82,191.28 647.20,194.20 C645.58,197.12 646.37,197.53 646.20,198.20 L626.00,198.20 C625.83,197.53 626.62,197.12 625.00,194.20 C623.38,191.28 619.38,185.18 616.30,180.70 C613.22,176.22 608.75,170.67 606.50,167.30 C604.25,163.93 603.53,162.75 602.80,160.50 C602.07,158.25 602.05,157.15 602.10,153.80 C602.15,150.45 602.25,144.88 603.10,140.40 C603.95,135.92 606.02,130.27 607.20,126.90 C608.38,123.53 609.30,122.43 610.20,120.20 C611.10,117.97 611.98,116.05 612.60,113.50 C613.22,110.95 613.57,108.12 613.90,104.90 C614.23,101.68 614.20,98.23 614.60,94.20 C615.00,90.17 615.68,85.18 616.30,80.70 C616.92,76.22 617.35,71.78 618.30,67.30 C619.25,62.82 620.67,58.28 622.00,53.80 C623.33,49.32 624.73,44.88 626.30,40.40 C627.87,35.92 630.27,30.27 631.40,26.90 C632.53,23.53 632.72,23.17 633.10,20.20 C633.48,17.23 633.60,10.95 633.70,9.10 Z" fill="none" stroke="#A9A9A9" stroke-width="1.9" stroke-linejoin="round"/>
<circle cx="554.20" cy="124.69" r="2.75" fill="#FF1010"/>
<g fill="#000"><circle cx="560.10" cy="14.12" r="1.62"/><circle cx="553.10" cy="28.30" r="1.62"/><circle cx="562.10" cy="33.02" r="1.62"/><circle cx="556.10" cy="37.75" r="1.62"/><circle cx="547.70" cy="42.47" r="1.62"/><circle cx="549.55" cy="42.47" r="1.62"/><circle cx="551.40" cy="42.47" r="1.62"/><circle cx="560.80" cy="42.47" r="1.62"/><circle cx="562.10" cy="47.20" r="1.62"/><circle cx="546.00" cy="51.92" r="1.62"/><circle cx="548.47" cy="51.92" r="1.62"/><circle cx="550.93" cy="51.92" r="1.62"/><circle cx="553.40" cy="51.92" r="1.62"/><circle cx="558.50" cy="51.92" r="1.62"/><circle cx="560.65" cy="51.92" r="1.62"/><circle cx="562.80" cy="51.92" r="1.62"/><circle cx="548.70" cy="56.65" r="1.62"/><circle cx="554.20" cy="56.65" r="1.62"/><circle cx="558.80" cy="56.65" r="1.62"/><circle cx="546.70" cy="61.37" r="1.62"/><circle cx="551.80" cy="61.37" r="1.62"/><circle cx="553.90" cy="61.37" r="1.62"/><circle cx="556.00" cy="61.37" r="1.62"/><circle cx="558.10" cy="61.37" r="1.62"/><circle cx="560.80" cy="66.10" r="1.62"/><circle cx="562.20" cy="66.10" r="1.62"/><circle cx="552.70" cy="70.83" r="1.62"/><circle cx="554.73" cy="70.83" r="1.62"/><circle cx="556.77" cy="70.83" r="1.62"/><circle cx="558.80" cy="70.83" r="1.62"/><circle cx="546.40" cy="75.55" r="1.62"/><circle cx="556.10" cy="75.55" r="1.62"/><circle cx="558.10" cy="75.55" r="1.62"/><circle cx="561.80" cy="75.55" r="1.62"/><circle cx="548.70" cy="80.28" r="1.62"/><circle cx="559.50" cy="80.28" r="1.62"/><circle cx="562.80" cy="80.28" r="1.62"/><circle cx="546.70" cy="85.00" r="1.62"/><circle cx="548.55" cy="85.00" r="1.62"/><circle cx="550.40" cy="85.00" r="1.62"/><circle cx="556.80" cy="85.00" r="1.62"/><circle cx="547.70" cy="89.72" r="1.62"/><circle cx="553.40" cy="89.72" r="1.62"/><circle cx="555.40" cy="89.72" r="1.62"/><circle cx="562.80" cy="89.72" r="1.62"/><circle cx="547.30" cy="94.45" r="1.62"/><circle cx="550.70" cy="94.45" r="1.62"/><circle cx="560.10" cy="94.45" r="1.62"/><circle cx="551.40" cy="99.17" r="1.62"/><circle cx="555.40" cy="99.17" r="1.62"/><circle cx="557.63" cy="99.17" r="1.62"/><circle cx="559.87" cy="99.17" r="1.62"/><circle cx="562.10" cy="99.17" r="1.62"/><circle cx="553.40" cy="103.90" r="1.62"/><circle cx="555.75" cy="103.90" r="1.62"/><circle cx="558.10" cy="103.90" r="1.62"/><circle cx="560.45" cy="103.90" r="1.62"/><circle cx="562.80" cy="103.90" r="1.62"/><circle cx="547.50" cy="108.62" r="1.62"/><circle cx="550.50" cy="108.62" r="1.62"/><circle cx="553.50" cy="108.62" r="1.62"/><circle cx="558.20" cy="108.62" r="1.62"/><circle cx="553.50" cy="113.35" r="1.62"/><circle cx="555.73" cy="113.35" r="1.62"/><circle cx="557.97" cy="113.35" r="1.62"/><circle cx="560.20" cy="113.35" r="1.62"/><circle cx="548.80" cy="118.08" r="1.62"/><circle cx="551.03" cy="118.08" r="1.62"/><circle cx="553.27" cy="118.08" r="1.62"/><circle cx="555.50" cy="118.08" r="1.62"/><circle cx="552.20" cy="122.80" r="1.62"/><circle cx="556.90" cy="122.80" r="1.62"/><circle cx="558.90" cy="122.80" r="1.62"/><circle cx="546.10" cy="127.52" r="1.62"/><circle cx="548.45" cy="127.52" r="1.62"/><circle cx="550.80" cy="127.52" r="1.62"/><circle cx="553.15" cy="127.52" r="1.62"/><circle cx="555.50" cy="127.52" r="1.62"/><circle cx="557.85" cy="127.52" r="1.62"/><circle cx="560.20" cy="127.52" r="1.62"/><circle cx="545.50" cy="132.25" r="1.62"/><circle cx="547.90" cy="132.25" r="1.62"/><circle cx="550.30" cy="132.25" r="1.62"/><circle cx="552.70" cy="132.25" r="1.62"/><circle cx="555.10" cy="132.25" r="1.62"/><circle cx="557.50" cy="132.25" r="1.62"/><circle cx="559.90" cy="132.25" r="1.62"/><circle cx="562.30" cy="132.25" r="1.62"/><circle cx="546.10" cy="136.97" r="1.62"/><circle cx="548.37" cy="136.97" r="1.62"/><circle cx="550.63" cy="136.97" r="1.62"/><circle cx="552.90" cy="136.97" r="1.62"/><circle cx="555.50" cy="136.97" r="1.62"/><circle cx="559.60" cy="136.97" r="1.62"/><circle cx="562.30" cy="136.97" r="1.62"/><circle cx="546.80" cy="141.70" r="1.62"/><circle cx="554.20" cy="141.70" r="1.62"/><circle cx="556.90" cy="141.70" r="1.62"/><circle cx="559.60" cy="141.70" r="1.62"/><circle cx="545.50" cy="146.42" r="1.62"/><circle cx="547.85" cy="146.42" r="1.62"/><circle cx="550.20" cy="146.42" r="1.62"/><circle cx="554.20" cy="146.42" r="1.62"/><circle cx="556.67" cy="146.42" r="1.62"/><circle cx="559.13" cy="146.42" r="1.62"/><circle cx="561.60" cy="146.42" r="1.62"/><circle cx="546.10" cy="151.15" r="1.62"/><circle cx="548.52" cy="151.15" r="1.62"/><circle cx="550.94" cy="151.15" r="1.62"/><circle cx="553.36" cy="151.15" r="1.62"/><circle cx="555.78" cy="151.15" r="1.62"/><circle cx="558.20" cy="151.15" r="1.62"/><circle cx="546.10" cy="155.88" r="1.62"/><circle cx="548.41" cy="155.88" r="1.62"/><circle cx="550.73" cy="155.88" r="1.62"/><circle cx="553.04" cy="155.88" r="1.62"/><circle cx="555.36" cy="155.88" r="1.62"/><circle cx="557.67" cy="155.88" r="1.62"/><circle cx="559.99" cy="155.88" r="1.62"/><circle cx="562.30" cy="155.88" r="1.62"/><circle cx="545.50" cy="160.60" r="1.62"/><circle cx="548.20" cy="160.60" r="1.62"/><circle cx="552.60" cy="160.60" r="1.62"/><circle cx="554.75" cy="160.60" r="1.62"/><circle cx="556.90" cy="160.60" r="1.62"/><circle cx="546.40" cy="165.32" r="1.62"/><circle cx="551.50" cy="165.32" r="1.62"/><circle cx="553.85" cy="165.32" r="1.62"/><circle cx="556.20" cy="165.32" r="1.62"/><circle cx="558.55" cy="165.32" r="1.62"/><circle cx="560.90" cy="165.32" r="1.62"/><circle cx="549.50" cy="170.05" r="1.62"/><circle cx="551.85" cy="170.05" r="1.62"/><circle cx="554.20" cy="170.05" r="1.62"/><circle cx="558.90" cy="170.05" r="1.62"/><circle cx="560.90" cy="170.05" r="1.62"/><circle cx="562.90" cy="170.05" r="1.62"/><circle cx="547.20" cy="174.78" r="1.62"/><circle cx="550.80" cy="174.78" r="1.62"/><circle cx="553.07" cy="174.78" r="1.62"/><circle cx="555.33" cy="174.78" r="1.62"/><circle cx="557.60" cy="174.78" r="1.62"/><circle cx="560.20" cy="174.78" r="1.62"/><circle cx="555.50" cy="179.50" r="1.62"/><circle cx="560.90" cy="179.50" r="1.62"/><circle cx="549.10" cy="184.22" r="1.62"/><circle cx="560.90" cy="184.22" r="1.62"/><circle cx="550.80" cy="188.95" r="1.62"/><circle cx="556.90" cy="188.95" r="1.62"/><circle cx="547.20" cy="193.67" r="1.62"/><circle cx="556.90" cy="193.67" r="1.62"/><circle cx="559.25" cy="193.67" r="1.62"/><circle cx="561.60" cy="193.67" r="1.62"/><circle cx="546.80" cy="198.40" r="1.62"/><circle cx="549.15" cy="198.40" r="1.62"/><circle cx="551.50" cy="198.40" r="1.62"/><circle cx="555.50" cy="198.40" r="1.62"/><circle cx="558.90" cy="198.40" r="1.62"/></g>
<circle cx="636.10" cy="125.45" r="2.75" fill="#FF1010"/>
<g fill="#000"><circle cx="638.30" cy="9.40" r="1.62"/><circle cx="630.50" cy="18.85" r="1.62"/><circle cx="632.50" cy="18.85" r="1.62"/><circle cx="634.50" cy="18.85" r="1.62"/><circle cx="643.60" cy="37.75" r="1.62"/><circle cx="637.20" cy="42.47" r="1.62"/><circle cx="639.90" cy="42.47" r="1.62"/><circle cx="642.60" cy="42.47" r="1.62"/><circle cx="636.50" cy="47.20" r="1.62"/><circle cx="640.80" cy="47.20" r="1.62"/><circle cx="628.20" cy="51.92" r="1.62"/><circle cx="634.10" cy="51.92" r="1.62"/><circle cx="638.50" cy="51.92" r="1.62"/><circle cx="631.80" cy="56.65" r="1.62"/><circle cx="637.60" cy="56.65" r="1.62"/><circle cx="634.90" cy="61.37" r="1.62"/><circle cx="643.00" cy="61.37" r="1.62"/><circle cx="630.90" cy="66.10" r="1.62"/><circle cx="637.60" cy="66.10" r="1.62"/><circle cx="639.40" cy="66.10" r="1.62"/><circle cx="641.20" cy="66.10" r="1.62"/><circle cx="629.10" cy="70.83" r="1.62"/><circle cx="632.50" cy="70.83" r="1.62"/><circle cx="642.60" cy="70.83" r="1.62"/><circle cx="633.50" cy="75.55" r="1.62"/><circle cx="639.20" cy="75.55" r="1.62"/><circle cx="641.75" cy="75.55" r="1.62"/><circle cx="644.30" cy="75.55" r="1.62"/><circle cx="630.50" cy="80.28" r="1.62"/><circle cx="636.20" cy="80.28" r="1.62"/><circle cx="638.70" cy="80.28" r="1.62"/><circle cx="641.20" cy="80.28" r="1.62"/><circle cx="634.50" cy="85.00" r="1.62"/><circle cx="637.20" cy="85.00" r="1.62"/><circle cx="639.90" cy="85.00" r="1.62"/><circle cx="642.60" cy="85.00" r="1.62"/><circle cx="629.10" cy="89.72" r="1.62"/><circle cx="632.50" cy="89.72" r="1.62"/><circle cx="640.50" cy="89.72" r="1.62"/><circle cx="633.10" cy="94.45" r="1.62"/><circle cx="635.10" cy="94.45" r="1.62"/><circle cx="643.90" cy="94.45" r="1.62"/><circle cx="630.50" cy="99.17" r="1.62"/><circle cx="632.50" cy="99.17" r="1.62"/><circle cx="634.50" cy="99.17" r="1.62"/><circle cx="637.80" cy="99.17" r="1.62"/><circle cx="639.85" cy="99.17" r="1.62"/><circle cx="641.90" cy="99.17" r="1.62"/><circle cx="641.20" cy="103.90" r="1.62"/><circle cx="644.60" cy="103.90" r="1.62"/><circle cx="632.10" cy="108.62" r="1.62"/><circle cx="636.50" cy="108.62" r="1.62"/><circle cx="638.50" cy="108.62" r="1.62"/><circle cx="640.50" cy="108.62" r="1.62"/><circle cx="630.50" cy="113.35" r="1.62"/><circle cx="632.73" cy="113.35" r="1.62"/><circle cx="634.97" cy="113.35" r="1.62"/><circle cx="637.20" cy="113.35" r="1.62"/><circle cx="639.43" cy="113.35" r="1.62"/><circle cx="641.67" cy="113.35" r="1.62"/><circle cx="643.90" cy="113.35" r="1.62"/><circle cx="633.80" cy="118.08" r="1.62"/><circle cx="636.27" cy="118.08" r="1.62"/><circle cx="638.73" cy="118.08" r="1.62"/><circle cx="641.20" cy="118.08" r="1.62"/><circle cx="631.10" cy="122.80" r="1.62"/><circle cx="627.80" cy="127.52" r="1.62"/><circle cx="630.15" cy="127.52" r="1.62"/><circle cx="632.50" cy="127.52" r="1.62"/><circle cx="634.85" cy="127.52" r="1.62"/><circle cx="637.20" cy="127.52" r="1.62"/><circle cx="639.55" cy="127.52" r="1.62"/><circle cx="641.90" cy="127.52" r="1.62"/><circle cx="627.80" cy="132.25" r="1.62"/><circle cx="630.10" cy="132.25" r="1.62"/><circle cx="632.40" cy="132.25" r="1.62"/><circle cx="634.70" cy="132.25" r="1.62"/><circle cx="637.00" cy="132.25" r="1.62"/><circle cx="639.30" cy="132.25" r="1.62"/><circle cx="641.60" cy="132.25" r="1.62"/><circle cx="643.90" cy="132.25" r="1.62"/><circle cx="630.50" cy="136.97" r="1.62"/><circle cx="636.50" cy="136.97" r="1.62"/><circle cx="638.50" cy="136.97" r="1.62"/><circle cx="642.60" cy="136.97" r="1.62"/><circle cx="628.40" cy="141.70" r="1.62"/><circle cx="630.93" cy="141.70" r="1.62"/><circle cx="633.45" cy="141.70" r="1.62"/><circle cx="635.98" cy="141.70" r="1.62"/><circle cx="638.50" cy="141.70" r="1.62"/><circle cx="627.10" cy="146.42" r="1.62"/><circle cx="629.77" cy="146.42" r="1.62"/><circle cx="632.45" cy="146.42" r="1.62"/><circle cx="635.12" cy="146.42" r="1.62"/><circle cx="637.80" cy="146.42" r="1.62"/><circle cx="642.60" cy="146.42" r="1.62"/><circle cx="634.50" cy="151.15" r="1.62"/><circle cx="637.20" cy="151.15" r="1.62"/><circle cx="639.90" cy="151.15" r="1.62"/><circle cx="642.60" cy="151.15" r="1.62"/><circle cx="627.80" cy="155.88" r="1.62"/><circle cx="630.37" cy="155.88" r="1.62"/><circle cx="632.93" cy="155.88" r="1.62"/><circle cx="635.50" cy="155.88" r="1.62"/><circle cx="638.07" cy="155.88" r="1.62"/><circle cx="640.63" cy="155.88" r="1.62"/><circle cx="643.20" cy="155.88" r="1.62"/><circle cx="627.80" cy="160.60" r="1.62"/><circle cx="630.15" cy="160.60" r="1.62"/><circle cx="632.50" cy="160.60" r="1.62"/><circle cx="636.10" cy="160.60" r="1.62"/><circle cx="638.30" cy="160.60" r="1.62"/><circle cx="640.50" cy="160.60" r="1.62"/><circle cx="628.40" cy="165.32" r="1.62"/><circle cx="630.30" cy="165.32" r="1.62"/><circle cx="632.20" cy="165.32" r="1.62"/><circle cx="643.20" cy="165.32" r="1.62"/><circle cx="627.80" cy="170.05" r="1.62"/><circle cx="630.48" cy="170.05" r="1.62"/><circle cx="633.15" cy="170.05" r="1.62"/><circle cx="635.83" cy="170.05" r="1.62"/><circle cx="638.50" cy="170.05" r="1.62"/><circle cx="643.00" cy="170.05" r="1.62"/><circle cx="627.80" cy="174.78" r="1.62"/><circle cx="630.27" cy="174.78" r="1.62"/><circle cx="632.73" cy="174.78" r="1.62"/><circle cx="635.20" cy="174.78" r="1.62"/><circle cx="637.67" cy="174.78" r="1.62"/><circle cx="640.13" cy="174.78" r="1.62"/><circle cx="642.60" cy="174.78" r="1.62"/><circle cx="628.20" cy="179.50" r="1.62"/><circle cx="633.10" cy="179.50" r="1.62"/><circle cx="635.37" cy="179.50" r="1.62"/><circle cx="637.63" cy="179.50" r="1.62"/><circle cx="639.90" cy="179.50" r="1.62"/><circle cx="640.50" cy="184.22" r="1.62"/><circle cx="642.40" cy="184.22" r="1.62"/><circle cx="644.30" cy="184.22" r="1.62"/><circle cx="629.10" cy="188.95" r="1.62"/><circle cx="643.20" cy="188.95" r="1.62"/><circle cx="639.50" cy="193.67" r="1.62"/><circle cx="628.70" cy="198.40" r="1.62"/><circle cx="630.60" cy="198.40" r="1.62"/><circle cx="632.50" cy="198.40" r="1.62"/><circle cx="637.20" cy="198.40" r="1.62"/><circle cx="639.40" cy="198.40" r="1.62"/><circle cx="641.60" cy="198.40" r="1.62"/></g>
<line x1="554.20" x2="554.20" y1="14.12" y2="94.45" stroke="#0000FF" stroke-opacity="0.78" stroke-width="0.95"/>
<line x1="554.20" x2="554.20" y1="155.88" y2="198.40" stroke="#0000FF" stroke-opacity="0.78" stroke-width="0.95"/>
<path d="M537.90,94.45 L570.50,94.45 L570.50,125.25 L562.90,132.25 L570.50,139.25 L570.50,155.88 L537.90,155.88 L537.90,139.25 L545.50,132.25 L537.90,125.25 Z" fill="#fff" fill-opacity="0.22" stroke="#0000FF" stroke-opacity="0.78" stroke-width="0.95" stroke-linejoin="miter"/>
<line x1="545.50" x2="562.90" y1="132.25" y2="132.25" stroke="#0000FF" stroke-opacity="0.85" stroke-width="1.7"/>
<line x1="636.10" x2="636.10" y1="9.40" y2="93.69" stroke="#0000FF" stroke-opacity="0.78" stroke-width="0.95"/>
<line x1="636.10" x2="636.10" y1="160.60" y2="198.40" stroke="#0000FF" stroke-opacity="0.78" stroke-width="0.95"/>
<path d="M619.80,93.69 L652.40,93.69 L652.40,124.75 L644.40,132.25 L652.40,139.75 L652.40,160.60 L619.80,160.60 L619.80,139.75 L627.80,132.25 L619.80,124.75 Z" fill="#fff" fill-opacity="0.22" stroke="#0000FF" stroke-opacity="0.78" stroke-width="0.95" stroke-linejoin="miter"/>
<line x1="627.80" x2="644.40" y1="132.25" y2="132.25" stroke="#0000FF" stroke-opacity="0.85" stroke-width="1.7"/>
<rect x="505.5" y="0" width="179" height="207.5" fill="none" stroke="#BBBBBB" stroke-width="1.15"/>
<line x1="500.5" x2="505.5" y1="160.6" y2="160.6" stroke="#B3B3B3" stroke-width="1.05"/>
<text transform="translate(496.9 166.4) scale(1 1.17)" font-size="13.6" fill="#4D4D4D" stroke="#4D4D4D" stroke-width="0.2" text-anchor="end">2</text>
<line x1="500.5" x2="505.5" y1="85" y2="85" stroke="#B3B3B3" stroke-width="1.05"/>
<text transform="translate(496.9 90.8) scale(1 1.17)" font-size="13.6" fill="#4D4D4D" stroke="#4D4D4D" stroke-width="0.2" text-anchor="end">4</text>
<line x1="500.5" x2="505.5" y1="9.4" y2="9.4" stroke="#B3B3B3" stroke-width="1.05"/>
<text transform="translate(496.9 15.2) scale(1 1.17)" font-size="13.6" fill="#4D4D4D" stroke="#4D4D4D" stroke-width="0.2" text-anchor="end">6</text>
<line x1="554.2" x2="554.2" y1="207.5" y2="212.5" stroke="#B3B3B3" stroke-width="1.05"/>
<text transform="translate(554.2 226.6) scale(1 1.12)" font-size="13.6" fill="#4D4D4D" stroke="#4D4D4D" stroke-width="0.2" text-anchor="middle">t1</text>
<line x1="636.1" x2="636.1" y1="207.5" y2="212.5" stroke="#B3B3B3" stroke-width="1.05"/>
<text transform="translate(636.1 226.6) scale(1 1.12)" font-size="13.6" fill="#4D4D4D" stroke="#4D4D4D" stroke-width="0.2" text-anchor="middle">t2</text>
<text transform="translate(595 246.2) scale(1.02 1.08)" font-size="17.8" fill="#000" text-anchor="middle">Time</text>
<text x="481.1" y="103.75" font-size="17.8" fill="#000" text-anchor="middle" transform="rotate(-90 481.1 103.75)">Boredom</text>
<line x1="37.4" x2="215.5" y1="441.77" y2="441.77" stroke="#EBEBEB" stroke-width="0.6"/>
<line x1="37.4" x2="215.5" y1="394.52" y2="394.52" stroke="#EBEBEB" stroke-width="0.6"/>
<line x1="37.4" x2="215.5" y1="347.27" y2="347.27" stroke="#EBEBEB" stroke-width="0.6"/>
<line x1="37.4" x2="215.5" y1="300.02" y2="300.02" stroke="#EBEBEB" stroke-width="0.6"/>
<line x1="37.4" x2="215.5" y1="465.4" y2="465.4" stroke="#E2E2E2" stroke-width="1.05"/>
<line x1="37.4" x2="215.5" y1="418.15" y2="418.15" stroke="#E2E2E2" stroke-width="1.05"/>
<line x1="37.4" x2="215.5" y1="370.9" y2="370.9" stroke="#E2E2E2" stroke-width="1.05"/>
<line x1="37.4" x2="215.5" y1="323.65" y2="323.65" stroke="#E2E2E2" stroke-width="1.05"/>
<line x1="37.4" x2="215.5" y1="276.4" y2="276.4" stroke="#E2E2E2" stroke-width="1.05"/>
<line x1="85.8" x2="85.8" y1="267.7" y2="474.3" stroke="#DEDEDE" stroke-width="1.05"/>
<line x1="167.6" x2="167.6" y1="267.7" y2="474.3" stroke="#DEDEDE" stroke-width="1.05"/>
<path d="M87.20,300.30 C87.58,303.47 88.75,311.60 89.50,319.30 C90.25,327.00 90.82,337.45 91.70,346.50 C92.58,355.55 94.10,368.02 94.80,373.60 C95.50,379.18 95.60,376.98 95.90,380.00 C96.20,383.02 96.28,387.80 96.60,391.70 C96.92,395.60 97.33,399.52 97.80,403.40 C98.27,407.28 98.82,411.12 99.40,415.00 C99.98,418.88 100.75,423.77 101.30,426.70 C101.85,429.63 101.83,430.65 102.70,432.60 C103.57,434.55 105.23,436.47 106.50,438.40 C107.77,440.33 108.93,442.27 110.30,444.20 C111.67,446.13 113.23,448.05 114.70,450.00 C116.17,451.95 117.83,453.93 119.10,455.90 C120.37,457.87 121.72,460.22 122.30,461.80 C122.88,463.38 122.55,464.80 122.60,465.40 L49.00,465.40 C49.05,464.80 48.72,463.38 49.30,461.80 C49.88,460.22 51.23,457.87 52.50,455.90 C53.77,453.93 55.43,451.95 56.90,450.00 C58.37,448.05 59.93,446.13 61.30,444.20 C62.67,442.27 63.83,440.33 65.10,438.40 C66.37,436.47 68.03,434.55 68.90,432.60 C69.77,430.65 69.75,429.63 70.30,426.70 C70.85,423.77 71.62,418.88 72.20,415.00 C72.78,411.12 73.33,407.28 73.80,403.40 C74.27,399.52 74.68,395.60 75.00,391.70 C75.32,387.80 75.40,383.02 75.70,380.00 C76.00,376.98 76.10,379.18 76.80,373.60 C77.50,368.02 79.02,355.55 79.90,346.50 C80.78,337.45 81.35,327.00 82.10,319.30 C82.85,311.60 84.02,303.47 84.40,300.30 Z" fill="none" stroke="#A9A9A9" stroke-width="1.9" stroke-linejoin="round"/>
<path d="M169.20,276.40 C169.55,280.38 170.62,293.15 171.30,300.30 C171.98,307.45 172.57,311.60 173.30,319.30 C174.03,327.00 174.90,338.88 175.70,346.50 C176.50,354.12 177.20,359.42 178.10,365.00 C179.00,370.58 180.33,375.55 181.10,380.00 C181.87,384.45 182.27,387.80 182.70,391.70 C183.13,395.60 183.38,399.52 183.70,403.40 C184.02,407.28 184.20,411.12 184.60,415.00 C185.00,418.88 185.28,422.80 186.10,426.70 C186.92,430.60 188.35,434.52 189.50,438.40 C190.65,442.28 192.25,446.50 193.00,450.00 C193.75,453.50 194.07,456.83 194.00,459.40 C193.93,461.97 192.83,464.40 192.60,465.40 L142.60,465.40 C142.37,464.40 141.27,461.97 141.20,459.40 C141.13,456.83 141.45,453.50 142.20,450.00 C142.95,446.50 144.55,442.28 145.70,438.40 C146.85,434.52 148.28,430.60 149.10,426.70 C149.92,422.80 150.20,418.88 150.60,415.00 C151.00,411.12 151.18,407.28 151.50,403.40 C151.82,399.52 152.07,395.60 152.50,391.70 C152.93,387.80 153.33,384.45 154.10,380.00 C154.87,375.55 156.20,370.58 157.10,365.00 C158.00,359.42 158.70,354.12 159.50,346.50 C160.30,338.88 161.17,327.00 161.90,319.30 C162.63,311.60 163.22,307.45 163.90,300.30 C164.58,293.15 165.65,280.38 166.00,276.40 Z" fill="none" stroke="#A9A9A9" stroke-width="1.9" stroke-linejoin="round"/>
<circle cx="85.80" cy="427.13" r="2.75" fill="#FF1010"/>
<g fill="#000"><circle cx="92.60" cy="300.02" r="1.62"/><circle cx="77.10" cy="323.65" r="1.62"/><circle cx="79.27" cy="323.65" r="1.62"/><circle cx="81.45" cy="323.65" r="1.62"/><circle cx="83.62" cy="323.65" r="1.62"/><circle cx="85.80" cy="323.65" r="1.62"/><circle cx="88.50" cy="323.65" r="1.62"/><circle cx="93.40" cy="323.65" r="1.62"/><circle cx="77.10" cy="347.27" r="1.62"/><circle cx="79.68" cy="347.27" r="1.62"/><circle cx="82.27" cy="347.27" r="1.62"/><circle cx="84.85" cy="347.27" r="1.62"/><circle cx="87.43" cy="347.27" r="1.62"/><circle cx="90.02" cy="347.27" r="1.62"/><circle cx="92.60" cy="347.27" r="1.62"/><circle cx="78.20" cy="370.90" r="1.62"/><circle cx="80.54" cy="370.90" r="1.62"/><circle cx="82.88" cy="370.90" r="1.62"/><circle cx="85.22" cy="370.90" r="1.62"/><circle cx="87.56" cy="370.90" r="1.62"/><circle cx="89.90" cy="370.90" r="1.62"/><circle cx="77.70" cy="394.52" r="1.62"/><circle cx="80.14" cy="394.52" r="1.62"/><circle cx="82.58" cy="394.52" r="1.62"/><circle cx="85.02" cy="394.52" r="1.62"/><circle cx="87.46" cy="394.52" r="1.62"/><circle cx="89.90" cy="394.52" r="1.62"/><circle cx="93.40" cy="394.52" r="1.62"/><circle cx="77.10" cy="418.15" r="1.62"/><circle cx="79.50" cy="418.15" r="1.62"/><circle cx="81.90" cy="418.15" r="1.62"/><circle cx="84.30" cy="418.15" r="1.62"/><circle cx="86.70" cy="418.15" r="1.62"/><circle cx="89.10" cy="418.15" r="1.62"/><circle cx="91.50" cy="418.15" r="1.62"/><circle cx="93.90" cy="418.15" r="1.62"/><circle cx="77.10" cy="441.77" r="1.62"/><circle cx="79.50" cy="441.77" r="1.62"/><circle cx="81.90" cy="441.77" r="1.62"/><circle cx="84.30" cy="441.77" r="1.62"/><circle cx="86.70" cy="441.77" r="1.62"/><circle cx="89.10" cy="441.77" r="1.62"/><circle cx="91.50" cy="441.77" r="1.62"/><circle cx="93.90" cy="441.77" r="1.62"/><circle cx="77.10" cy="465.40" r="1.62"/><circle cx="79.59" cy="465.40" r="1.62"/><circle cx="82.07" cy="465.40" r="1.62"/><circle cx="84.56" cy="465.40" r="1.62"/><circle cx="87.04" cy="465.40" r="1.62"/><circle cx="89.53" cy="465.40" r="1.62"/><circle cx="92.01" cy="465.40" r="1.62"/><circle cx="94.50" cy="465.40" r="1.62"/></g>
<circle cx="167.60" cy="415.31" r="2.75" fill="#FF1010"/>
<g fill="#000"><circle cx="159.20" cy="276.40" r="1.62"/><circle cx="166.00" cy="300.02" r="1.62"/><circle cx="168.38" cy="300.02" r="1.62"/><circle cx="170.75" cy="300.02" r="1.62"/><circle cx="173.12" cy="300.02" r="1.62"/><circle cx="175.50" cy="300.02" r="1.62"/><circle cx="158.60" cy="323.65" r="1.62"/><circle cx="161.01" cy="323.65" r="1.62"/><circle cx="163.43" cy="323.65" r="1.62"/><circle cx="165.84" cy="323.65" r="1.62"/><circle cx="168.26" cy="323.65" r="1.62"/><circle cx="170.67" cy="323.65" r="1.62"/><circle cx="173.09" cy="323.65" r="1.62"/><circle cx="175.50" cy="323.65" r="1.62"/><circle cx="158.60" cy="347.27" r="1.62"/><circle cx="161.07" cy="347.27" r="1.62"/><circle cx="163.53" cy="347.27" r="1.62"/><circle cx="166.00" cy="347.27" r="1.62"/><circle cx="170.00" cy="347.27" r="1.62"/><circle cx="174.10" cy="347.27" r="1.62"/><circle cx="158.60" cy="370.90" r="1.62"/><circle cx="161.09" cy="370.90" r="1.62"/><circle cx="163.57" cy="370.90" r="1.62"/><circle cx="166.06" cy="370.90" r="1.62"/><circle cx="168.54" cy="370.90" r="1.62"/><circle cx="171.03" cy="370.90" r="1.62"/><circle cx="173.51" cy="370.90" r="1.62"/><circle cx="176.00" cy="370.90" r="1.62"/><circle cx="159.20" cy="394.52" r="1.62"/><circle cx="161.53" cy="394.52" r="1.62"/><circle cx="163.86" cy="394.52" r="1.62"/><circle cx="166.19" cy="394.52" r="1.62"/><circle cx="168.51" cy="394.52" r="1.62"/><circle cx="170.84" cy="394.52" r="1.62"/><circle cx="173.17" cy="394.52" r="1.62"/><circle cx="175.50" cy="394.52" r="1.62"/><circle cx="158.60" cy="418.15" r="1.62"/><circle cx="161.09" cy="418.15" r="1.62"/><circle cx="163.57" cy="418.15" r="1.62"/><circle cx="166.06" cy="418.15" r="1.62"/><circle cx="168.54" cy="418.15" r="1.62"/><circle cx="171.03" cy="418.15" r="1.62"/><circle cx="173.51" cy="418.15" r="1.62"/><circle cx="176.00" cy="418.15" r="1.62"/><circle cx="158.60" cy="441.77" r="1.62"/><circle cx="161.09" cy="441.77" r="1.62"/><circle cx="163.57" cy="441.77" r="1.62"/><circle cx="166.06" cy="441.77" r="1.62"/><circle cx="168.54" cy="441.77" r="1.62"/><circle cx="171.03" cy="441.77" r="1.62"/><circle cx="173.51" cy="441.77" r="1.62"/><circle cx="176.00" cy="441.77" r="1.62"/><circle cx="158.60" cy="465.40" r="1.62"/><circle cx="161.09" cy="465.40" r="1.62"/><circle cx="163.57" cy="465.40" r="1.62"/><circle cx="166.06" cy="465.40" r="1.62"/><circle cx="168.54" cy="465.40" r="1.62"/><circle cx="171.03" cy="465.40" r="1.62"/><circle cx="173.51" cy="465.40" r="1.62"/><circle cx="176.00" cy="465.40" r="1.62"/></g>
<line x1="85.80" x2="85.80" y1="300.02" y2="394.52" stroke="#0000FF" stroke-opacity="0.78" stroke-width="0.95"/>
<line x1="85.80" x2="85.80" y1="465.40" y2="465.40" stroke="#0000FF" stroke-opacity="0.78" stroke-width="0.95"/>
<path d="M69.20,394.52 L102.40,394.52 L102.40,433.77 L94.50,441.77 L102.40,449.77 L102.40,465.40 L69.20,465.40 L69.20,449.77 L77.10,441.77 L69.20,433.77 Z" fill="#fff" fill-opacity="0.22" stroke="#0000FF" stroke-opacity="0.78" stroke-width="0.95" stroke-linejoin="miter"/>
<line x1="77.10" x2="94.50" y1="441.77" y2="441.77" stroke="#0000FF" stroke-opacity="0.85" stroke-width="1.7"/>
<line x1="167.60" x2="167.60" y1="300.02" y2="394.52" stroke="#0000FF" stroke-opacity="0.78" stroke-width="0.95"/>
<line x1="167.60" x2="167.60" y1="465.40" y2="465.40" stroke="#0000FF" stroke-opacity="0.78" stroke-width="0.95"/>
<path d="M151.30,394.52 L183.90,394.52 L183.90,409.65 L176.40,418.15 L183.90,426.65 L183.90,465.40 L151.30,465.40 L151.30,426.65 L158.80,418.15 L151.30,409.65 Z" fill="#fff" fill-opacity="0.22" stroke="#0000FF" stroke-opacity="0.78" stroke-width="0.95" stroke-linejoin="miter"/>
<line x1="158.80" x2="176.40" y1="418.15" y2="418.15" stroke="#0000FF" stroke-opacity="0.85" stroke-width="1.7"/>
<circle cx="167.60" cy="276.40" r="1.62" fill="#0000FF" fill-opacity="0.45"/>
<rect x="37.4" y="267.7" width="178.1" height="206.6" fill="none" stroke="#BBBBBB" stroke-width="1.15"/>
<line x1="32.4" x2="37.4" y1="465.4" y2="465.4" stroke="#B3B3B3" stroke-width="1.05"/>
<text transform="translate(28.8 471.2) scale(1 1.17)" font-size="13.6" fill="#4D4D4D" stroke="#4D4D4D" stroke-width="0.2" text-anchor="end">1</text>
<line x1="32.4" x2="37.4" y1="418.15" y2="418.15" stroke="#B3B3B3" stroke-width="1.05"/>
<text transform="translate(28.8 423.95) scale(1 1.17)" font-size="13.6" fill="#4D4D4D" stroke="#4D4D4D" stroke-width="0.2" text-anchor="end">2</text>
<line x1="32.4" x2="37.4" y1="370.9" y2="370.9" stroke="#B3B3B3" stroke-width="1.05"/>
<text transform="translate(28.8 376.7) scale(1 1.17)" font-size="13.6" fill="#4D4D4D" stroke="#4D4D4D" stroke-width="0.2" text-anchor="end">3</text>
<line x1="32.4" x2="37.4" y1="323.65" y2="323.65" stroke="#B3B3B3" stroke-width="1.05"/>
<text transform="translate(28.8 329.45) scale(1 1.17)" font-size="13.6" fill="#4D4D4D" stroke="#4D4D4D" stroke-width="0.2" text-anchor="end">4</text>
<line x1="32.4" x2="37.4" y1="276.4" y2="276.4" stroke="#B3B3B3" stroke-width="1.05"/>
<text transform="translate(28.8 282.2) scale(1 1.17)" font-size="13.6" fill="#4D4D4D" stroke="#4D4D4D" stroke-width="0.2" text-anchor="end">5</text>
<line x1="85.8" x2="85.8" y1="474.3" y2="479.3" stroke="#B3B3B3" stroke-width="1.05"/>
<text transform="translate(85.8 493.4) scale(1 1.12)" font-size="13.6" fill="#4D4D4D" stroke="#4D4D4D" stroke-width="0.2" text-anchor="middle">t1</text>
<line x1="167.6" x2="167.6" y1="474.3" y2="479.3" stroke="#B3B3B3" stroke-width="1.05"/>
<text transform="translate(167.6 493.4) scale(1 1.12)" font-size="13.6" fill="#4D4D4D" stroke="#4D4D4D" stroke-width="0.2" text-anchor="middle">t2</text>
<text transform="translate(126.45 513) scale(1.02 1.08)" font-size="17.8" fill="#000" text-anchor="middle">Time</text>
<text x="13" y="371" font-size="17.8" fill="#000" text-anchor="middle" transform="rotate(-90 13 371)">Behavioral disengagement</text>
<line x1="271" x2="450.4" y1="441.77" y2="441.77" stroke="#EBEBEB" stroke-width="0.6"/>
<line x1="271" x2="450.4" y1="394.52" y2="394.52" stroke="#EBEBEB" stroke-width="0.6"/>
<line x1="271" x2="450.4" y1="347.27" y2="347.27" stroke="#EBEBEB" stroke-width="0.6"/>
<line x1="271" x2="450.4" y1="300.02" y2="300.02" stroke="#EBEBEB" stroke-width="0.6"/>
<line x1="271" x2="450.4" y1="465.4" y2="465.4" stroke="#E2E2E2" stroke-width="1.05"/>
<line x1="271" x2="450.4" y1="418.15" y2="418.15" stroke="#E2E2E2" stroke-width="1.05"/>
<line x1="271" x2="450.4" y1="370.9" y2="370.9" stroke="#E2E2E2" stroke-width="1.05"/>
<line x1="271" x2="450.4" y1="323.65" y2="323.65" stroke="#E2E2E2" stroke-width="1.05"/>
<line x1="271" x2="450.4" y1="276.4" y2="276.4" stroke="#E2E2E2" stroke-width="1.05"/>
<line x1="319.9" x2="319.9" y1="267.5" y2="474.3" stroke="#DEDEDE" stroke-width="1.05"/>
<line x1="401.6" x2="401.6" y1="267.5" y2="474.3" stroke="#DEDEDE" stroke-width="1.05"/>
<path d="M321.30,276.40 C321.47,280.38 321.85,292.43 322.30,300.30 C322.75,308.17 323.50,315.90 324.00,323.60 C324.50,331.30 324.63,338.17 325.30,346.50 C325.97,354.83 327.15,364.55 328.00,373.60 C328.85,382.65 329.45,391.75 330.40,400.80 C331.35,409.85 332.70,422.27 333.70,427.90 C334.70,433.53 335.03,432.33 336.40,434.60 C337.77,436.87 339.98,439.27 341.90,441.50 C343.82,443.73 346.13,445.75 347.90,448.00 C349.67,450.25 351.17,452.92 352.50,455.00 C353.83,457.08 355.08,458.77 355.90,460.50 C356.72,462.23 357.15,464.58 357.40,465.40 L282.40,465.40 C282.65,464.58 283.08,462.23 283.90,460.50 C284.72,458.77 285.97,457.08 287.30,455.00 C288.63,452.92 290.13,450.25 291.90,448.00 C293.67,445.75 295.98,443.73 297.90,441.50 C299.82,439.27 302.03,436.87 303.40,434.60 C304.77,432.33 305.10,433.53 306.10,427.90 C307.10,422.27 308.45,409.85 309.40,400.80 C310.35,391.75 310.95,382.65 311.80,373.60 C312.65,364.55 313.83,354.83 314.50,346.50 C315.17,338.17 315.30,331.30 315.80,323.60 C316.30,315.90 317.05,308.17 317.50,300.30 C317.95,292.43 318.33,280.38 318.50,276.40 Z" fill="none" stroke="#A9A9A9" stroke-width="1.9" stroke-linejoin="round"/>
<path d="M403.10,276.40 C403.47,280.38 404.55,292.43 405.30,300.30 C406.05,308.17 406.88,315.90 407.60,323.60 C408.32,331.30 409.02,338.17 409.60,346.50 C410.18,354.83 410.47,364.55 411.10,373.60 C411.73,382.65 412.40,394.02 413.40,400.80 C414.40,407.58 415.85,409.78 417.10,414.30 C418.35,418.82 419.35,423.37 420.90,427.90 C422.45,432.43 424.62,436.98 426.40,441.50 C428.18,446.02 430.53,451.75 431.60,455.00 C432.67,458.25 432.63,459.27 432.80,461.00 C432.97,462.73 432.63,464.67 432.60,465.40 L370.60,465.40 C370.57,464.67 370.23,462.73 370.40,461.00 C370.57,459.27 370.53,458.25 371.60,455.00 C372.67,451.75 375.02,446.02 376.80,441.50 C378.58,436.98 380.75,432.43 382.30,427.90 C383.85,423.37 384.85,418.82 386.10,414.30 C387.35,409.78 388.80,407.58 389.80,400.80 C390.80,394.02 391.47,382.65 392.10,373.60 C392.73,364.55 393.02,354.83 393.60,346.50 C394.18,338.17 394.88,331.30 395.60,323.60 C396.32,315.90 397.15,308.17 397.90,300.30 C398.65,292.43 399.73,280.38 400.10,276.40 Z" fill="none" stroke="#A9A9A9" stroke-width="1.9" stroke-linejoin="round"/>
<circle cx="319.90" cy="427.13" r="2.75" fill="#FF1010"/>
<g fill="#000"><circle cx="310.40" cy="276.40" r="1.62"/><circle cx="312.45" cy="276.40" r="1.62"/><circle cx="314.50" cy="276.40" r="1.62"/><circle cx="316.60" cy="300.02" r="1.62"/><circle cx="323.20" cy="300.02" r="1.62"/><circle cx="313.90" cy="323.65" r="1.62"/><circle cx="316.20" cy="323.65" r="1.62"/><circle cx="318.50" cy="323.65" r="1.62"/><circle cx="324.00" cy="323.65" r="1.62"/><circle cx="327.50" cy="323.65" r="1.62"/><circle cx="311.80" cy="347.27" r="1.62"/><circle cx="314.08" cy="347.27" r="1.62"/><circle cx="316.36" cy="347.27" r="1.62"/><circle cx="318.64" cy="347.27" r="1.62"/><circle cx="320.92" cy="347.27" r="1.62"/><circle cx="323.20" cy="347.27" r="1.62"/><circle cx="326.10" cy="347.27" r="1.62"/><circle cx="312.30" cy="370.90" r="1.62"/><circle cx="314.63" cy="370.90" r="1.62"/><circle cx="316.96" cy="370.90" r="1.62"/><circle cx="319.29" cy="370.90" r="1.62"/><circle cx="321.61" cy="370.90" r="1.62"/><circle cx="323.94" cy="370.90" r="1.62"/><circle cx="326.27" cy="370.90" r="1.62"/><circle cx="328.60" cy="370.90" r="1.62"/><circle cx="311.80" cy="394.52" r="1.62"/><circle cx="314.04" cy="394.52" r="1.62"/><circle cx="316.29" cy="394.52" r="1.62"/><circle cx="318.53" cy="394.52" r="1.62"/><circle cx="320.77" cy="394.52" r="1.62"/><circle cx="323.01" cy="394.52" r="1.62"/><circle cx="325.26" cy="394.52" r="1.62"/><circle cx="327.50" cy="394.52" r="1.62"/><circle cx="311.80" cy="418.15" r="1.62"/><circle cx="314.11" cy="418.15" r="1.62"/><circle cx="316.43" cy="418.15" r="1.62"/><circle cx="318.74" cy="418.15" r="1.62"/><circle cx="321.06" cy="418.15" r="1.62"/><circle cx="323.37" cy="418.15" r="1.62"/><circle cx="325.69" cy="418.15" r="1.62"/><circle cx="328.00" cy="418.15" r="1.62"/><circle cx="311.80" cy="441.77" r="1.62"/><circle cx="314.20" cy="441.77" r="1.62"/><circle cx="316.60" cy="441.77" r="1.62"/><circle cx="319.00" cy="441.77" r="1.62"/><circle cx="321.40" cy="441.77" r="1.62"/><circle cx="323.80" cy="441.77" r="1.62"/><circle cx="326.20" cy="441.77" r="1.62"/><circle cx="328.60" cy="441.77" r="1.62"/><circle cx="311.20" cy="465.40" r="1.62"/><circle cx="313.69" cy="465.40" r="1.62"/><circle cx="316.17" cy="465.40" r="1.62"/><circle cx="318.66" cy="465.40" r="1.62"/><circle cx="321.14" cy="465.40" r="1.62"/><circle cx="323.63" cy="465.40" r="1.62"/><circle cx="326.11" cy="465.40" r="1.62"/><circle cx="328.60" cy="465.40" r="1.62"/></g>
<circle cx="401.60" cy="423.82" r="2.75" fill="#FF1010"/>
<g fill="#000"><circle cx="395.40" cy="276.40" r="1.62"/><circle cx="405.40" cy="276.40" r="1.62"/><circle cx="395.90" cy="300.02" r="1.62"/><circle cx="404.00" cy="300.02" r="1.62"/><circle cx="394.50" cy="323.65" r="1.62"/><circle cx="398.60" cy="323.65" r="1.62"/><circle cx="401.13" cy="323.65" r="1.62"/><circle cx="403.67" cy="323.65" r="1.62"/><circle cx="406.20" cy="323.65" r="1.62"/><circle cx="393.20" cy="347.27" r="1.62"/><circle cx="395.71" cy="347.27" r="1.62"/><circle cx="398.23" cy="347.27" r="1.62"/><circle cx="400.74" cy="347.27" r="1.62"/><circle cx="403.26" cy="347.27" r="1.62"/><circle cx="405.77" cy="347.27" r="1.62"/><circle cx="408.29" cy="347.27" r="1.62"/><circle cx="410.80" cy="347.27" r="1.62"/><circle cx="393.20" cy="370.90" r="1.62"/><circle cx="395.90" cy="370.90" r="1.62"/><circle cx="398.60" cy="370.90" r="1.62"/><circle cx="405.40" cy="370.90" r="1.62"/><circle cx="407.70" cy="370.90" r="1.62"/><circle cx="410.00" cy="370.90" r="1.62"/><circle cx="393.20" cy="394.52" r="1.62"/><circle cx="395.47" cy="394.52" r="1.62"/><circle cx="397.73" cy="394.52" r="1.62"/><circle cx="400.00" cy="394.52" r="1.62"/><circle cx="402.27" cy="394.52" r="1.62"/><circle cx="404.53" cy="394.52" r="1.62"/><circle cx="406.80" cy="394.52" r="1.62"/><circle cx="393.20" cy="418.15" r="1.62"/><circle cx="395.71" cy="418.15" r="1.62"/><circle cx="398.23" cy="418.15" r="1.62"/><circle cx="400.74" cy="418.15" r="1.62"/><circle cx="403.26" cy="418.15" r="1.62"/><circle cx="405.77" cy="418.15" r="1.62"/><circle cx="408.29" cy="418.15" r="1.62"/><circle cx="410.80" cy="418.15" r="1.62"/><circle cx="393.20" cy="441.77" r="1.62"/><circle cx="395.60" cy="441.77" r="1.62"/><circle cx="398.00" cy="441.77" r="1.62"/><circle cx="400.40" cy="441.77" r="1.62"/><circle cx="402.80" cy="441.77" r="1.62"/><circle cx="405.20" cy="441.77" r="1.62"/><circle cx="407.60" cy="441.77" r="1.62"/><circle cx="410.00" cy="441.77" r="1.62"/><circle cx="393.20" cy="465.40" r="1.62"/><circle cx="395.60" cy="465.40" r="1.62"/><circle cx="398.00" cy="465.40" r="1.62"/><circle cx="400.40" cy="465.40" r="1.62"/><circle cx="402.80" cy="465.40" r="1.62"/><circle cx="405.20" cy="465.40" r="1.62"/><circle cx="407.60" cy="465.40" r="1.62"/><circle cx="410.00" cy="465.40" r="1.62"/></g>
<line x1="319.90" x2="319.90" y1="300.02" y2="394.52" stroke="#0000FF" stroke-opacity="0.78" stroke-width="0.95"/>
<line x1="319.90" x2="319.90" y1="465.40" y2="465.40" stroke="#0000FF" stroke-opacity="0.78" stroke-width="0.95"/>
<path d="M303.30,394.52 L336.50,394.52 L336.50,433.77 L328.60,441.77 L336.50,449.77 L336.50,465.40 L303.30,465.40 L303.30,449.77 L311.20,441.77 L303.30,433.77 Z" fill="#fff" fill-opacity="0.22" stroke="#0000FF" stroke-opacity="0.78" stroke-width="0.95" stroke-linejoin="miter"/>
<line x1="311.20" x2="328.60" y1="441.77" y2="441.77" stroke="#0000FF" stroke-opacity="0.85" stroke-width="1.7"/>
<circle cx="319.90" cy="276.40" r="1.62" fill="#0000FF" fill-opacity="0.45"/>
<line x1="401.60" x2="401.60" y1="300.02" y2="394.52" stroke="#0000FF" stroke-opacity="0.78" stroke-width="0.95"/>
<line x1="401.60" x2="401.60" y1="465.40" y2="465.40" stroke="#0000FF" stroke-opacity="0.78" stroke-width="0.95"/>
<path d="M384.90,394.52 L418.30,394.52 L418.30,433.77 L410.70,441.77 L418.30,449.77 L418.30,465.40 L384.90,465.40 L384.90,449.77 L392.50,441.77 L384.90,433.77 Z" fill="#fff" fill-opacity="0.22" stroke="#0000FF" stroke-opacity="0.78" stroke-width="0.95" stroke-linejoin="miter"/>
<line x1="392.50" x2="410.70" y1="441.77" y2="441.77" stroke="#0000FF" stroke-opacity="0.85" stroke-width="1.7"/>
<circle cx="401.60" cy="276.40" r="1.62" fill="#0000FF" fill-opacity="0.45"/>
<rect x="271" y="267.5" width="179.4" height="206.8" fill="none" stroke="#BBBBBB" stroke-width="1.15"/>
<line x1="266" x2="271" y1="465.4" y2="465.4" stroke="#B3B3B3" stroke-width="1.05"/>
<text transform="translate(262.4 471.2) scale(1 1.17)" font-size="13.6" fill="#4D4D4D" stroke="#4D4D4D" stroke-width="0.2" text-anchor="end">1</text>
<line x1="266" x2="271" y1="418.15" y2="418.15" stroke="#B3B3B3" stroke-width="1.05"/>
<text transform="translate(262.4 423.95) scale(1 1.17)" font-size="13.6" fill="#4D4D4D" stroke="#4D4D4D" stroke-width="0.2" text-anchor="end">2</text>
<line x1="266" x2="271" y1="370.9" y2="370.9" stroke="#B3B3B3" stroke-width="1.05"/>
<text transform="translate(262.4 376.7) scale(1 1.17)" font-size="13.6" fill="#4D4D4D" stroke="#4D4D4D" stroke-width="0.2" text-anchor="end">3</text>
<line x1="266" x2="271" y1="323.65" y2="323.65" stroke="#B3B3B3" stroke-width="1.05"/>
<text transform="translate(262.4 329.45) scale(1 1.17)" font-size="13.6" fill="#4D4D4D" stroke="#4D4D4D" stroke-width="0.2" text-anchor="end">4</text>
<line x1="266" x2="271" y1="276.4" y2="276.4" stroke="#B3B3B3" stroke-width="1.05"/>
<text transform="translate(262.4 282.2) scale(1 1.17)" font-size="13.6" fill="#4D4D4D" stroke="#4D4D4D" stroke-width="0.2" text-anchor="end">5</text>
<line x1="319.9" x2="319.9" y1="474.3" y2="479.3" stroke="#B3B3B3" stroke-width="1.05"/>
<text transform="translate(319.9 493.4) scale(1 1.12)" font-size="13.6" fill="#4D4D4D" stroke="#4D4D4D" stroke-width="0.2" text-anchor="middle">t1</text>
<line x1="401.6" x2="401.6" y1="474.3" y2="479.3" stroke="#B3B3B3" stroke-width="1.05"/>
<text transform="translate(401.6 493.4) scale(1 1.12)" font-size="13.6" fill="#4D4D4D" stroke="#4D4D4D" stroke-width="0.2" text-anchor="middle">t2</text>
<text transform="translate(360.7 513) scale(1.02 1.08)" font-size="17.8" fill="#000" text-anchor="middle">Time</text>
<text x="246.6" y="370.9" font-size="17.8" fill="#000" text-anchor="middle" transform="rotate(-90 246.6 370.9)">Self-blame</text>
<line x1="505.7" x2="684.5" y1="441.95" y2="441.95" stroke="#EBEBEB" stroke-width="0.6"/>
<line x1="505.7" x2="684.5" y1="394.65" y2="394.65" stroke="#EBEBEB" stroke-width="0.6"/>
<line x1="505.7" x2="684.5" y1="347.35" y2="347.35" stroke="#EBEBEB" stroke-width="0.6"/>
<line x1="505.7" x2="684.5" y1="300.05" y2="300.05" stroke="#EBEBEB" stroke-width="0.6"/>
<line x1="505.7" x2="684.5" y1="465.6" y2="465.6" stroke="#E2E2E2" stroke-width="1.05"/>
<line x1="505.7" x2="684.5" y1="418.3" y2="418.3" stroke="#E2E2E2" stroke-width="1.05"/>
<line x1="505.7" x2="684.5" y1="371" y2="371" stroke="#E2E2E2" stroke-width="1.05"/>
<line x1="505.7" x2="684.5" y1="323.7" y2="323.7" stroke="#E2E2E2" stroke-width="1.05"/>
<line x1="505.7" x2="684.5" y1="276.4" y2="276.4" stroke="#E2E2E2" stroke-width="1.05"/>
<line x1="554.1" x2="554.1" y1="267.5" y2="474.3" stroke="#DEDEDE" stroke-width="1.05"/>
<line x1="635.7" x2="635.7" y1="267.5" y2="474.3" stroke="#DEDEDE" stroke-width="1.05"/>
<path d="M566.20,276.40 C566.93,277.68 569.30,281.65 570.60,284.10 C571.90,286.55 573.00,288.75 574.00,291.10 C575.00,293.45 575.82,295.85 576.60,298.20 C577.38,300.55 578.07,302.85 578.70,305.20 C579.33,307.55 579.80,309.95 580.40,312.30 C581.00,314.65 581.63,316.97 582.30,319.30 C582.97,321.63 583.62,323.95 584.40,326.30 C585.18,328.65 586.15,331.05 587.00,333.40 C587.85,335.75 588.85,338.05 589.50,340.40 C590.15,342.75 590.58,345.15 590.90,347.50 C591.22,349.85 591.38,352.17 591.40,354.50 C591.42,356.83 591.30,359.15 591.00,361.50 C590.70,363.85 590.27,366.25 589.60,368.60 C588.93,370.95 588.08,373.53 587.00,375.60 C585.92,377.67 584.77,378.28 583.10,381.00 C581.43,383.72 579.37,387.83 577.00,391.90 C574.63,395.97 571.48,400.92 568.90,405.40 C566.32,409.88 563.48,414.32 561.50,418.80 C559.52,423.28 558.02,427.82 557.00,432.30 C555.98,436.78 555.72,440.15 555.40,445.70 C555.08,451.25 555.15,462.28 555.10,465.60 L553.10,465.60 C553.05,462.28 553.12,451.25 552.80,445.70 C552.48,440.15 552.22,436.78 551.20,432.30 C550.18,427.82 548.68,423.28 546.70,418.80 C544.72,414.32 541.88,409.88 539.30,405.40 C536.72,400.92 533.57,395.97 531.20,391.90 C528.83,387.83 526.77,383.72 525.10,381.00 C523.43,378.28 522.28,377.67 521.20,375.60 C520.12,373.53 519.27,370.95 518.60,368.60 C517.93,366.25 517.50,363.85 517.20,361.50 C516.90,359.15 516.78,356.83 516.80,354.50 C516.82,352.17 516.98,349.85 517.30,347.50 C517.62,345.15 518.05,342.75 518.70,340.40 C519.35,338.05 520.35,335.75 521.20,333.40 C522.05,331.05 523.02,328.65 523.80,326.30 C524.58,323.95 525.23,321.63 525.90,319.30 C526.57,316.97 527.20,314.65 527.80,312.30 C528.40,309.95 528.87,307.55 529.50,305.20 C530.13,302.85 530.82,300.55 531.60,298.20 C532.38,295.85 533.20,293.45 534.20,291.10 C535.20,288.75 536.30,286.55 537.60,284.10 C538.90,281.65 541.27,277.68 542.00,276.40 Z" fill="none" stroke="#A9A9A9" stroke-width="1.9" stroke-linejoin="round"/>
<path d="M646.30,276.40 C646.87,277.68 648.47,281.65 649.70,284.10 C650.93,286.55 652.23,288.75 653.70,291.10 C655.17,293.45 656.87,295.85 658.50,298.20 C660.13,300.55 662.05,302.85 663.50,305.20 C664.95,307.55 666.23,309.95 667.20,312.30 C668.17,314.65 668.80,316.97 669.30,319.30 C669.80,321.63 669.98,323.95 670.20,326.30 C670.42,328.65 670.53,331.05 670.60,333.40 C670.67,335.75 670.63,338.05 670.60,340.40 C670.57,342.75 670.50,345.15 670.40,347.50 C670.30,349.85 670.18,352.17 670.00,354.50 C669.82,356.83 669.62,359.15 669.30,361.50 C668.98,363.85 668.65,366.25 668.10,368.60 C667.55,370.95 666.65,373.95 666.00,375.60 C665.35,377.25 665.83,375.78 664.20,378.50 C662.57,381.22 658.77,387.42 656.20,391.90 C653.63,396.38 651.12,400.92 648.80,405.40 C646.48,409.88 643.98,414.32 642.30,418.80 C640.62,423.28 639.47,427.82 638.70,432.30 C637.93,436.78 637.90,442.78 637.70,445.70 C637.50,448.62 637.53,449.12 637.50,449.80 L633.90,449.80 C633.87,449.12 633.90,448.62 633.70,445.70 C633.50,442.78 633.47,436.78 632.70,432.30 C631.93,427.82 630.78,423.28 629.10,418.80 C627.42,414.32 624.92,409.88 622.60,405.40 C620.28,400.92 617.77,396.38 615.20,391.90 C612.63,387.42 608.83,381.22 607.20,378.50 C605.57,375.78 606.05,377.25 605.40,375.60 C604.75,373.95 603.85,370.95 603.30,368.60 C602.75,366.25 602.42,363.85 602.10,361.50 C601.78,359.15 601.58,356.83 601.40,354.50 C601.22,352.17 601.10,349.85 601.00,347.50 C600.90,345.15 600.83,342.75 600.80,340.40 C600.77,338.05 600.73,335.75 600.80,333.40 C600.87,331.05 600.98,328.65 601.20,326.30 C601.42,323.95 601.60,321.63 602.10,319.30 C602.60,316.97 603.23,314.65 604.20,312.30 C605.17,309.95 606.45,307.55 607.90,305.20 C609.35,302.85 611.27,300.55 612.90,298.20 C614.53,295.85 616.23,293.45 617.70,291.10 C619.17,288.75 620.47,286.55 621.70,284.10 C622.93,281.65 624.53,277.68 625.10,276.40 Z" fill="none" stroke="#A9A9A9" stroke-width="1.9" stroke-linejoin="round"/>
<circle cx="554.10" cy="347.82" r="2.75" fill="#FF1010"/>
<g fill="#000"><circle cx="546.00" cy="276.40" r="1.62"/><circle cx="548.40" cy="276.40" r="1.62"/><circle cx="550.80" cy="276.40" r="1.62"/><circle cx="553.20" cy="276.40" r="1.62"/><circle cx="555.60" cy="276.40" r="1.62"/><circle cx="558.00" cy="276.40" r="1.62"/><circle cx="560.40" cy="276.40" r="1.62"/><circle cx="562.80" cy="276.40" r="1.62"/><circle cx="550.70" cy="284.28" r="1.62"/><circle cx="552.80" cy="284.28" r="1.62"/><circle cx="557.50" cy="284.28" r="1.62"/><circle cx="560.80" cy="284.28" r="1.62"/><circle cx="547.40" cy="292.17" r="1.62"/><circle cx="554.80" cy="292.17" r="1.62"/><circle cx="559.90" cy="292.17" r="1.62"/><circle cx="545.40" cy="300.05" r="1.62"/><circle cx="547.70" cy="300.05" r="1.62"/><circle cx="550.00" cy="300.05" r="1.62"/><circle cx="552.30" cy="300.05" r="1.62"/><circle cx="554.60" cy="300.05" r="1.62"/><circle cx="556.90" cy="300.05" r="1.62"/><circle cx="559.20" cy="300.05" r="1.62"/><circle cx="561.50" cy="300.05" r="1.62"/><circle cx="545.80" cy="307.93" r="1.62"/><circle cx="551.40" cy="307.93" r="1.62"/><circle cx="553.68" cy="307.93" r="1.62"/><circle cx="555.96" cy="307.93" r="1.62"/><circle cx="558.24" cy="307.93" r="1.62"/><circle cx="560.52" cy="307.93" r="1.62"/><circle cx="562.80" cy="307.93" r="1.62"/><circle cx="552.80" cy="315.82" r="1.62"/><circle cx="555.30" cy="315.82" r="1.62"/><circle cx="557.80" cy="315.82" r="1.62"/><circle cx="560.30" cy="315.82" r="1.62"/><circle cx="562.80" cy="315.82" r="1.62"/><circle cx="545.40" cy="323.70" r="1.62"/><circle cx="547.89" cy="323.70" r="1.62"/><circle cx="550.37" cy="323.70" r="1.62"/><circle cx="552.86" cy="323.70" r="1.62"/><circle cx="555.34" cy="323.70" r="1.62"/><circle cx="557.83" cy="323.70" r="1.62"/><circle cx="560.31" cy="323.70" r="1.62"/><circle cx="562.80" cy="323.70" r="1.62"/><circle cx="545.40" cy="331.58" r="1.62"/><circle cx="547.85" cy="331.58" r="1.62"/><circle cx="550.30" cy="331.58" r="1.62"/><circle cx="552.75" cy="331.58" r="1.62"/><circle cx="555.20" cy="331.58" r="1.62"/><circle cx="557.65" cy="331.58" r="1.62"/><circle cx="560.10" cy="331.58" r="1.62"/><circle cx="546.00" cy="339.47" r="1.62"/><circle cx="548.35" cy="339.47" r="1.62"/><circle cx="550.70" cy="339.47" r="1.62"/><circle cx="553.05" cy="339.47" r="1.62"/><circle cx="555.40" cy="339.47" r="1.62"/><circle cx="557.75" cy="339.47" r="1.62"/><circle cx="560.10" cy="339.47" r="1.62"/><circle cx="546.00" cy="347.35" r="1.62"/><circle cx="548.31" cy="347.35" r="1.62"/><circle cx="550.63" cy="347.35" r="1.62"/><circle cx="552.94" cy="347.35" r="1.62"/><circle cx="555.26" cy="347.35" r="1.62"/><circle cx="557.57" cy="347.35" r="1.62"/><circle cx="559.89" cy="347.35" r="1.62"/><circle cx="562.20" cy="347.35" r="1.62"/><circle cx="545.40" cy="355.23" r="1.62"/><circle cx="547.80" cy="355.23" r="1.62"/><circle cx="550.20" cy="355.23" r="1.62"/><circle cx="552.60" cy="355.23" r="1.62"/><circle cx="555.00" cy="355.23" r="1.62"/><circle cx="557.40" cy="355.23" r="1.62"/><circle cx="559.80" cy="355.23" r="1.62"/><circle cx="562.20" cy="355.23" r="1.62"/><circle cx="545.40" cy="363.12" r="1.62"/><circle cx="547.70" cy="363.12" r="1.62"/><circle cx="550.00" cy="363.12" r="1.62"/><circle cx="552.30" cy="363.12" r="1.62"/><circle cx="554.60" cy="363.12" r="1.62"/><circle cx="556.90" cy="363.12" r="1.62"/><circle cx="559.20" cy="363.12" r="1.62"/><circle cx="561.50" cy="363.12" r="1.62"/><circle cx="545.40" cy="371.00" r="1.62"/><circle cx="547.89" cy="371.00" r="1.62"/><circle cx="550.37" cy="371.00" r="1.62"/><circle cx="552.86" cy="371.00" r="1.62"/><circle cx="555.34" cy="371.00" r="1.62"/><circle cx="557.83" cy="371.00" r="1.62"/><circle cx="560.31" cy="371.00" r="1.62"/><circle cx="562.80" cy="371.00" r="1.62"/><circle cx="546.70" cy="378.88" r="1.62"/><circle cx="550.70" cy="378.88" r="1.62"/><circle cx="553.40" cy="378.88" r="1.62"/><circle cx="557.50" cy="378.88" r="1.62"/><circle cx="560.15" cy="378.88" r="1.62"/><circle cx="562.80" cy="378.88" r="1.62"/><circle cx="550.70" cy="386.77" r="1.62"/><circle cx="552.73" cy="386.77" r="1.62"/><circle cx="554.77" cy="386.77" r="1.62"/><circle cx="556.80" cy="386.77" r="1.62"/><circle cx="561.50" cy="386.77" r="1.62"/><circle cx="545.40" cy="394.65" r="1.62"/><circle cx="548.08" cy="394.65" r="1.62"/><circle cx="550.75" cy="394.65" r="1.62"/><circle cx="553.43" cy="394.65" r="1.62"/><circle cx="556.10" cy="394.65" r="1.62"/><circle cx="547.40" cy="402.53" r="1.62"/><circle cx="549.75" cy="402.53" r="1.62"/><circle cx="552.10" cy="402.53" r="1.62"/><circle cx="554.45" cy="402.53" r="1.62"/><circle cx="556.80" cy="402.53" r="1.62"/><circle cx="559.15" cy="402.53" r="1.62"/><circle cx="561.50" cy="402.53" r="1.62"/><circle cx="552.10" cy="410.42" r="1.62"/><circle cx="554.80" cy="410.42" r="1.62"/><circle cx="558.80" cy="410.42" r="1.62"/><circle cx="560.10" cy="410.42" r="1.62"/><circle cx="556.10" cy="418.30" r="1.62"/><circle cx="558.80" cy="418.30" r="1.62"/><circle cx="561.50" cy="418.30" r="1.62"/><circle cx="562.20" cy="434.07" r="1.62"/><circle cx="554.10" cy="465.60" r="1.62"/><circle cx="562.20" cy="465.60" r="1.62"/></g>
<circle cx="635.70" cy="344.51" r="2.75" fill="#FF1010"/>
<g fill="#000"><circle cx="629.00" cy="276.40" r="1.62"/><circle cx="631.47" cy="276.40" r="1.62"/><circle cx="633.93" cy="276.40" r="1.62"/><circle cx="636.40" cy="276.40" r="1.62"/><circle cx="638.87" cy="276.40" r="1.62"/><circle cx="641.33" cy="276.40" r="1.62"/><circle cx="643.80" cy="276.40" r="1.62"/><circle cx="628.00" cy="284.28" r="1.62"/><circle cx="630.35" cy="284.28" r="1.62"/><circle cx="632.70" cy="284.28" r="1.62"/><circle cx="640.40" cy="284.28" r="1.62"/><circle cx="635.70" cy="292.17" r="1.62"/><circle cx="627.60" cy="300.05" r="1.62"/><circle cx="630.00" cy="300.05" r="1.62"/><circle cx="632.40" cy="300.05" r="1.62"/><circle cx="634.80" cy="300.05" r="1.62"/><circle cx="637.20" cy="300.05" r="1.62"/><circle cx="639.60" cy="300.05" r="1.62"/><circle cx="642.00" cy="300.05" r="1.62"/><circle cx="644.40" cy="300.05" r="1.62"/><circle cx="628.00" cy="307.93" r="1.62"/><circle cx="632.30" cy="307.93" r="1.62"/><circle cx="634.72" cy="307.93" r="1.62"/><circle cx="637.14" cy="307.93" r="1.62"/><circle cx="639.56" cy="307.93" r="1.62"/><circle cx="641.98" cy="307.93" r="1.62"/><circle cx="644.40" cy="307.93" r="1.62"/><circle cx="627.60" cy="315.82" r="1.62"/><circle cx="630.18" cy="315.82" r="1.62"/><circle cx="632.77" cy="315.82" r="1.62"/><circle cx="635.35" cy="315.82" r="1.62"/><circle cx="637.93" cy="315.82" r="1.62"/><circle cx="640.52" cy="315.82" r="1.62"/><circle cx="643.10" cy="315.82" r="1.62"/><circle cx="628.30" cy="323.70" r="1.62"/><circle cx="630.88" cy="323.70" r="1.62"/><circle cx="633.47" cy="323.70" r="1.62"/><circle cx="636.05" cy="323.70" r="1.62"/><circle cx="638.63" cy="323.70" r="1.62"/><circle cx="641.22" cy="323.70" r="1.62"/><circle cx="643.80" cy="323.70" r="1.62"/><circle cx="628.70" cy="331.58" r="1.62"/><circle cx="631.22" cy="331.58" r="1.62"/><circle cx="633.73" cy="331.58" r="1.62"/><circle cx="636.25" cy="331.58" r="1.62"/><circle cx="638.77" cy="331.58" r="1.62"/><circle cx="641.28" cy="331.58" r="1.62"/><circle cx="643.80" cy="331.58" r="1.62"/><circle cx="627.60" cy="339.47" r="1.62"/><circle cx="629.91" cy="339.47" r="1.62"/><circle cx="632.23" cy="339.47" r="1.62"/><circle cx="634.54" cy="339.47" r="1.62"/><circle cx="636.86" cy="339.47" r="1.62"/><circle cx="639.17" cy="339.47" r="1.62"/><circle cx="641.49" cy="339.47" r="1.62"/><circle cx="643.80" cy="339.47" r="1.62"/><circle cx="628.30" cy="347.35" r="1.62"/><circle cx="630.90" cy="347.35" r="1.62"/><circle cx="633.50" cy="347.35" r="1.62"/><circle cx="636.10" cy="347.35" r="1.62"/><circle cx="638.70" cy="347.35" r="1.62"/><circle cx="643.80" cy="347.35" r="1.62"/><circle cx="628.70" cy="355.23" r="1.62"/><circle cx="631.22" cy="355.23" r="1.62"/><circle cx="633.73" cy="355.23" r="1.62"/><circle cx="636.25" cy="355.23" r="1.62"/><circle cx="638.77" cy="355.23" r="1.62"/><circle cx="641.28" cy="355.23" r="1.62"/><circle cx="643.80" cy="355.23" r="1.62"/><circle cx="628.30" cy="363.12" r="1.62"/><circle cx="630.66" cy="363.12" r="1.62"/><circle cx="633.01" cy="363.12" r="1.62"/><circle cx="635.37" cy="363.12" r="1.62"/><circle cx="637.73" cy="363.12" r="1.62"/><circle cx="640.09" cy="363.12" r="1.62"/><circle cx="642.44" cy="363.12" r="1.62"/><circle cx="644.80" cy="363.12" r="1.62"/><circle cx="627.00" cy="371.00" r="1.62"/><circle cx="629.49" cy="371.00" r="1.62"/><circle cx="631.97" cy="371.00" r="1.62"/><circle cx="634.46" cy="371.00" r="1.62"/><circle cx="636.94" cy="371.00" r="1.62"/><circle cx="639.43" cy="371.00" r="1.62"/><circle cx="641.91" cy="371.00" r="1.62"/><circle cx="644.40" cy="371.00" r="1.62"/><circle cx="631.70" cy="378.88" r="1.62"/><circle cx="634.35" cy="378.88" r="1.62"/><circle cx="637.00" cy="378.88" r="1.62"/><circle cx="639.70" cy="378.88" r="1.62"/><circle cx="643.80" cy="378.88" r="1.62"/><circle cx="634.40" cy="386.77" r="1.62"/><circle cx="636.40" cy="386.77" r="1.62"/><circle cx="640.40" cy="386.77" r="1.62"/><circle cx="630.30" cy="394.65" r="1.62"/><circle cx="632.83" cy="394.65" r="1.62"/><circle cx="635.35" cy="394.65" r="1.62"/><circle cx="637.88" cy="394.65" r="1.62"/><circle cx="640.40" cy="394.65" r="1.62"/><circle cx="644.00" cy="394.65" r="1.62"/><circle cx="631.70" cy="402.53" r="1.62"/><circle cx="634.12" cy="402.53" r="1.62"/><circle cx="636.54" cy="402.53" r="1.62"/><circle cx="638.96" cy="402.53" r="1.62"/><circle cx="641.38" cy="402.53" r="1.62"/><circle cx="643.80" cy="402.53" r="1.62"/><circle cx="631.70" cy="410.42" r="1.62"/><circle cx="639.50" cy="410.42" r="1.62"/><circle cx="631.00" cy="418.30" r="1.62"/><circle cx="631.00" cy="426.18" r="1.62"/><circle cx="636.40" cy="434.07" r="1.62"/><circle cx="635.70" cy="449.83" r="1.62"/><circle cx="641.80" cy="449.83" r="1.62"/></g>
<line x1="554.10" x2="554.10" y1="276.40" y2="315.82" stroke="#0000FF" stroke-opacity="0.78" stroke-width="0.95"/>
<line x1="554.10" x2="554.10" y1="371.00" y2="434.07" stroke="#0000FF" stroke-opacity="0.78" stroke-width="0.95"/>
<path d="M537.40,315.82 L570.80,315.82 L570.80,341.65 L562.80,347.35 L570.80,353.05 L570.80,371.00 L537.40,371.00 L537.40,353.05 L545.40,347.35 L537.40,341.65 Z" fill="#fff" fill-opacity="0.22" stroke="#0000FF" stroke-opacity="0.78" stroke-width="0.95" stroke-linejoin="miter"/>
<line x1="545.40" x2="562.80" y1="347.35" y2="347.35" stroke="#0000FF" stroke-opacity="0.85" stroke-width="1.7"/>
<circle cx="554.10" cy="465.60" r="1.62" fill="#0000FF" fill-opacity="0.45"/>
<line x1="635.70" x2="635.70" y1="276.40" y2="315.82" stroke="#0000FF" stroke-opacity="0.78" stroke-width="0.95"/>
<line x1="635.70" x2="635.70" y1="371.00" y2="449.83" stroke="#0000FF" stroke-opacity="0.78" stroke-width="0.95"/>
<path d="M619.30,315.82 L652.10,315.82 L652.10,333.47 L644.60,339.47 L652.10,345.47 L652.10,371.00 L619.30,371.00 L619.30,345.47 L626.80,339.47 L619.30,333.47 Z" fill="#fff" fill-opacity="0.22" stroke="#0000FF" stroke-opacity="0.78" stroke-width="0.95" stroke-linejoin="miter"/>
<line x1="626.80" x2="644.60" y1="339.47" y2="339.47" stroke="#0000FF" stroke-opacity="0.85" stroke-width="1.7"/>
<rect x="505.7" y="267.5" width="178.8" height="206.8" fill="none" stroke="#BBBBBB" stroke-width="1.15"/>
<line x1="500.7" x2="505.7" y1="465.6" y2="465.6" stroke="#B3B3B3" stroke-width="1.05"/>
<text transform="translate(497.1 471.4) scale(1 1.17)" font-size="13.6" fill="#4D4D4D" stroke="#4D4D4D" stroke-width="0.2" text-anchor="end">1</text>
<line x1="500.7" x2="505.7" y1="418.3" y2="418.3" stroke="#B3B3B3" stroke-width="1.05"/>
<text transform="translate(497.1 424.1) scale(1 1.17)" font-size="13.6" fill="#4D4D4D" stroke="#4D4D4D" stroke-width="0.2" text-anchor="end">2</text>
<line x1="500.7" x2="505.7" y1="371" y2="371" stroke="#B3B3B3" stroke-width="1.05"/>
<text transform="translate(497.1 376.8) scale(1 1.17)" font-size="13.6" fill="#4D4D4D" stroke="#4D4D4D" stroke-width="0.2" text-anchor="end">3</text>
<line x1="500.7" x2="505.7" y1="323.7" y2="323.7" stroke="#B3B3B3" stroke-width="1.05"/>
<text transform="translate(497.1 329.5) scale(1 1.17)" font-size="13.6" fill="#4D4D4D" stroke="#4D4D4D" stroke-width="0.2" text-anchor="end">4</text>
<line x1="500.7" x2="505.7" y1="276.4" y2="276.4" stroke="#B3B3B3" stroke-width="1.05"/>
<text transform="translate(497.1 282.2) scale(1 1.17)" font-size="13.6" fill="#4D4D4D" stroke="#4D4D4D" stroke-width="0.2" text-anchor="end">5</text>
<line x1="554.1" x2="554.1" y1="474.3" y2="479.3" stroke="#B3B3B3" stroke-width="1.05"/>
<text transform="translate(554.1 493.4) scale(1 1.12)" font-size="13.6" fill="#4D4D4D" stroke="#4D4D4D" stroke-width="0.2" text-anchor="middle">t1</text>
<line x1="635.7" x2="635.7" y1="474.3" y2="479.3" stroke="#B3B3B3" stroke-width="1.05"/>
<text transform="translate(635.7 493.4) scale(1 1.12)" font-size="13.6" fill="#4D4D4D" stroke="#4D4D4D" stroke-width="0.2" text-anchor="middle">t2</text>
<text transform="translate(595.1 513) scale(1.02 1.08)" font-size="17.8" fill="#000" text-anchor="middle">Time</text>
<text x="481.3" y="370.9" font-size="17.8" fill="#000" text-anchor="middle" transform="rotate(-90 481.3 370.9)">Need for relatedness</text>
<line x1="37.4" x2="216" y1="716.46" y2="716.46" stroke="#EBEBEB" stroke-width="0.6"/>
<line x1="37.4" x2="216" y1="667.19" y2="667.19" stroke="#EBEBEB" stroke-width="0.6"/>
<line x1="37.4" x2="216" y1="617.91" y2="617.91" stroke="#EBEBEB" stroke-width="0.6"/>
<line x1="37.4" x2="216" y1="568.64" y2="568.64" stroke="#EBEBEB" stroke-width="0.6"/>
<line x1="37.4" x2="216" y1="741.1" y2="741.1" stroke="#E2E2E2" stroke-width="1.05"/>
<line x1="37.4" x2="216" y1="691.83" y2="691.83" stroke="#E2E2E2" stroke-width="1.05"/>
<line x1="37.4" x2="216" y1="642.55" y2="642.55" stroke="#E2E2E2" stroke-width="1.05"/>
<line x1="37.4" x2="216" y1="593.27" y2="593.27" stroke="#E2E2E2" stroke-width="1.05"/>
<line x1="37.4" x2="216" y1="544" y2="544" stroke="#E2E2E2" stroke-width="1.05"/>
<line x1="85.7" x2="85.7" y1="535.1" y2="741.6" stroke="#DEDEDE" stroke-width="1.05"/>
<line x1="167.5" x2="167.5" y1="535.1" y2="741.6" stroke="#DEDEDE" stroke-width="1.05"/>
<path d="M93.80,544.00 C94.12,545.00 94.92,547.98 95.70,550.00 C96.48,552.02 97.25,553.90 98.50,556.10 C99.75,558.30 101.70,560.85 103.20,563.20 C104.70,565.55 106.08,567.85 107.50,570.20 C108.92,572.55 110.35,574.95 111.70,577.30 C113.05,579.65 114.48,581.97 115.60,584.30 C116.72,586.63 117.60,588.95 118.40,591.30 C119.20,593.65 119.88,596.05 120.40,598.40 C120.92,600.75 121.35,603.05 121.50,605.40 C121.65,607.75 121.65,610.15 121.30,612.50 C120.95,614.85 120.18,617.17 119.40,619.50 C118.62,621.83 117.42,624.15 116.60,626.50 C115.78,628.85 115.12,631.25 114.50,633.60 C113.88,635.95 113.55,638.12 112.90,640.60 C112.25,643.08 112.17,644.95 110.60,648.50 C109.03,652.05 105.80,657.42 103.50,661.90 C101.20,666.38 98.93,670.92 96.80,675.40 C94.67,679.88 92.22,684.32 90.70,688.80 C89.18,693.28 88.32,697.82 87.70,702.30 C87.08,706.78 87.15,712.00 87.00,715.70 C86.85,719.40 86.83,723.03 86.80,724.50 L84.60,724.50 C84.57,723.03 84.55,719.40 84.40,715.70 C84.25,712.00 84.32,706.78 83.70,702.30 C83.08,697.82 82.22,693.28 80.70,688.80 C79.18,684.32 76.73,679.88 74.60,675.40 C72.47,670.92 70.20,666.38 67.90,661.90 C65.60,657.42 62.37,652.05 60.80,648.50 C59.23,644.95 59.15,643.08 58.50,640.60 C57.85,638.12 57.52,635.95 56.90,633.60 C56.28,631.25 55.62,628.85 54.80,626.50 C53.98,624.15 52.78,621.83 52.00,619.50 C51.22,617.17 50.45,614.85 50.10,612.50 C49.75,610.15 49.75,607.75 49.90,605.40 C50.05,603.05 50.48,600.75 51.00,598.40 C51.52,596.05 52.20,593.65 53.00,591.30 C53.80,588.95 54.68,586.63 55.80,584.30 C56.92,581.97 58.35,579.65 59.70,577.30 C61.05,574.95 62.48,572.55 63.90,570.20 C65.32,567.85 66.70,565.55 68.20,563.20 C69.70,560.85 71.65,558.30 72.90,556.10 C74.15,553.90 74.92,552.02 75.70,550.00 C76.48,547.98 77.28,545.00 77.60,544.00 Z" fill="none" stroke="#A9A9A9" stroke-width="1.9" stroke-linejoin="round"/>
<path d="M174.90,543.70 C175.57,545.62 176.93,551.05 178.90,555.20 C180.87,559.35 183.45,564.12 186.70,568.60 C189.95,573.08 195.48,577.62 198.40,582.10 C201.32,586.58 203.58,591.02 204.20,595.50 C204.82,599.98 202.88,604.52 202.10,609.00 C201.32,613.48 199.93,617.92 199.50,622.40 C199.07,626.88 200.63,631.55 199.50,635.90 C198.37,640.25 195.40,644.17 192.70,648.50 C190.00,652.83 185.93,657.42 183.30,661.90 C180.67,666.38 178.25,670.92 176.90,675.40 C175.55,679.88 176.03,684.32 175.20,688.80 C174.37,693.28 172.85,697.82 171.90,702.30 C170.95,706.78 170.07,710.60 169.50,715.70 C168.93,720.80 168.67,730.03 168.50,732.90 L166.50,732.90 C166.33,730.03 166.07,720.80 165.50,715.70 C164.93,710.60 164.05,706.78 163.10,702.30 C162.15,697.82 160.63,693.28 159.80,688.80 C158.97,684.32 159.45,679.88 158.10,675.40 C156.75,670.92 154.33,666.38 151.70,661.90 C149.07,657.42 145.00,652.83 142.30,648.50 C139.60,644.17 136.63,640.25 135.50,635.90 C134.37,631.55 135.93,626.88 135.50,622.40 C135.07,617.92 133.68,613.48 132.90,609.00 C132.12,604.52 130.18,599.98 130.80,595.50 C131.42,591.02 133.68,586.58 136.60,582.10 C139.52,577.62 145.05,573.08 148.30,568.60 C151.55,564.12 154.13,559.35 156.10,555.20 C158.07,551.05 159.43,545.62 160.10,543.70 Z" fill="none" stroke="#A9A9A9" stroke-width="1.9" stroke-linejoin="round"/>
<circle cx="85.70" cy="614.46" r="2.75" fill="#FF1010"/>
<g fill="#000"><circle cx="85.00" cy="544.00" r="1.62"/><circle cx="87.70" cy="544.00" r="1.62"/><circle cx="90.40" cy="544.00" r="1.62"/><circle cx="93.10" cy="544.00" r="1.62"/><circle cx="82.30" cy="552.21" r="1.62"/><circle cx="87.70" cy="552.21" r="1.62"/><circle cx="90.40" cy="552.21" r="1.62"/><circle cx="93.10" cy="552.21" r="1.62"/><circle cx="77.00" cy="560.42" r="1.62"/><circle cx="79.85" cy="560.42" r="1.62"/><circle cx="82.70" cy="560.42" r="1.62"/><circle cx="81.70" cy="568.64" r="1.62"/><circle cx="84.40" cy="568.64" r="1.62"/><circle cx="90.80" cy="568.64" r="1.62"/><circle cx="77.00" cy="576.85" r="1.62"/><circle cx="79.49" cy="576.85" r="1.62"/><circle cx="81.97" cy="576.85" r="1.62"/><circle cx="84.46" cy="576.85" r="1.62"/><circle cx="86.94" cy="576.85" r="1.62"/><circle cx="89.43" cy="576.85" r="1.62"/><circle cx="91.91" cy="576.85" r="1.62"/><circle cx="94.40" cy="576.85" r="1.62"/><circle cx="78.30" cy="585.06" r="1.62"/><circle cx="85.00" cy="585.06" r="1.62"/><circle cx="86.40" cy="585.06" r="1.62"/><circle cx="93.10" cy="585.06" r="1.62"/><circle cx="78.30" cy="593.27" r="1.62"/><circle cx="80.33" cy="593.27" r="1.62"/><circle cx="82.37" cy="593.27" r="1.62"/><circle cx="84.40" cy="593.27" r="1.62"/><circle cx="87.70" cy="593.27" r="1.62"/><circle cx="90.40" cy="593.27" r="1.62"/><circle cx="93.10" cy="593.27" r="1.62"/><circle cx="77.00" cy="601.49" r="1.62"/><circle cx="79.23" cy="601.49" r="1.62"/><circle cx="81.47" cy="601.49" r="1.62"/><circle cx="83.70" cy="601.49" r="1.62"/><circle cx="85.93" cy="601.49" r="1.62"/><circle cx="88.17" cy="601.49" r="1.62"/><circle cx="90.40" cy="601.49" r="1.62"/><circle cx="77.00" cy="609.70" r="1.62"/><circle cx="79.40" cy="609.70" r="1.62"/><circle cx="81.80" cy="609.70" r="1.62"/><circle cx="84.20" cy="609.70" r="1.62"/><circle cx="86.60" cy="609.70" r="1.62"/><circle cx="89.00" cy="609.70" r="1.62"/><circle cx="91.40" cy="609.70" r="1.62"/><circle cx="93.80" cy="609.70" r="1.62"/><circle cx="78.70" cy="617.91" r="1.62"/><circle cx="83.70" cy="617.91" r="1.62"/><circle cx="86.38" cy="617.91" r="1.62"/><circle cx="89.05" cy="617.91" r="1.62"/><circle cx="91.72" cy="617.91" r="1.62"/><circle cx="94.40" cy="617.91" r="1.62"/><circle cx="81.40" cy="626.13" r="1.62"/><circle cx="87.00" cy="626.13" r="1.62"/><circle cx="89.70" cy="626.13" r="1.62"/><circle cx="92.40" cy="626.13" r="1.62"/><circle cx="77.00" cy="634.34" r="1.62"/><circle cx="79.47" cy="634.34" r="1.62"/><circle cx="81.93" cy="634.34" r="1.62"/><circle cx="84.40" cy="634.34" r="1.62"/><circle cx="86.87" cy="634.34" r="1.62"/><circle cx="89.33" cy="634.34" r="1.62"/><circle cx="91.80" cy="634.34" r="1.62"/><circle cx="77.00" cy="642.55" r="1.62"/><circle cx="79.40" cy="642.55" r="1.62"/><circle cx="81.80" cy="642.55" r="1.62"/><circle cx="84.20" cy="642.55" r="1.62"/><circle cx="86.60" cy="642.55" r="1.62"/><circle cx="89.00" cy="642.55" r="1.62"/><circle cx="91.40" cy="642.55" r="1.62"/><circle cx="93.80" cy="642.55" r="1.62"/><circle cx="78.30" cy="650.76" r="1.62"/><circle cx="80.65" cy="650.76" r="1.62"/><circle cx="83.00" cy="650.76" r="1.62"/><circle cx="87.70" cy="650.76" r="1.62"/><circle cx="90.40" cy="650.76" r="1.62"/><circle cx="93.10" cy="650.76" r="1.62"/><circle cx="78.00" cy="658.97" r="1.62"/><circle cx="82.30" cy="658.97" r="1.62"/><circle cx="84.72" cy="658.97" r="1.62"/><circle cx="87.14" cy="658.97" r="1.62"/><circle cx="89.56" cy="658.97" r="1.62"/><circle cx="91.98" cy="658.97" r="1.62"/><circle cx="94.40" cy="658.97" r="1.62"/><circle cx="77.40" cy="667.19" r="1.62"/><circle cx="79.60" cy="667.19" r="1.62"/><circle cx="81.80" cy="667.19" r="1.62"/><circle cx="84.00" cy="667.19" r="1.62"/><circle cx="86.20" cy="667.19" r="1.62"/><circle cx="88.40" cy="667.19" r="1.62"/><circle cx="92.40" cy="667.19" r="1.62"/><circle cx="82.70" cy="675.40" r="1.62"/><circle cx="93.10" cy="675.40" r="1.62"/><circle cx="84.40" cy="683.61" r="1.62"/><circle cx="87.00" cy="683.61" r="1.62"/><circle cx="91.10" cy="683.61" r="1.62"/><circle cx="93.80" cy="683.61" r="1.62"/><circle cx="83.30" cy="708.25" r="1.62"/><circle cx="92.40" cy="724.68" r="1.62"/></g>
<circle cx="167.50" cy="613.97" r="2.75" fill="#FF1010"/>
<g fill="#000"><circle cx="165.30" cy="544.00" r="1.62"/><circle cx="170.50" cy="544.00" r="1.62"/><circle cx="172.85" cy="544.00" r="1.62"/><circle cx="175.20" cy="544.00" r="1.62"/><circle cx="162.40" cy="552.21" r="1.62"/><circle cx="164.40" cy="552.21" r="1.62"/><circle cx="166.40" cy="552.21" r="1.62"/><circle cx="172.90" cy="552.21" r="1.62"/><circle cx="175.60" cy="552.21" r="1.62"/><circle cx="160.40" cy="560.42" r="1.62"/><circle cx="163.07" cy="560.42" r="1.62"/><circle cx="165.73" cy="560.42" r="1.62"/><circle cx="168.40" cy="560.42" r="1.62"/><circle cx="174.90" cy="560.42" r="1.62"/><circle cx="165.80" cy="568.64" r="1.62"/><circle cx="168.03" cy="568.64" r="1.62"/><circle cx="170.27" cy="568.64" r="1.62"/><circle cx="172.50" cy="568.64" r="1.62"/><circle cx="160.40" cy="576.85" r="1.62"/><circle cx="162.63" cy="576.85" r="1.62"/><circle cx="164.87" cy="576.85" r="1.62"/><circle cx="167.10" cy="576.85" r="1.62"/><circle cx="172.90" cy="576.85" r="1.62"/><circle cx="162.10" cy="585.06" r="1.62"/><circle cx="164.72" cy="585.06" r="1.62"/><circle cx="167.34" cy="585.06" r="1.62"/><circle cx="169.96" cy="585.06" r="1.62"/><circle cx="172.58" cy="585.06" r="1.62"/><circle cx="175.20" cy="585.06" r="1.62"/><circle cx="159.70" cy="593.27" r="1.62"/><circle cx="162.28" cy="593.27" r="1.62"/><circle cx="164.87" cy="593.27" r="1.62"/><circle cx="167.45" cy="593.27" r="1.62"/><circle cx="170.03" cy="593.27" r="1.62"/><circle cx="172.62" cy="593.27" r="1.62"/><circle cx="175.20" cy="593.27" r="1.62"/><circle cx="159.70" cy="601.49" r="1.62"/><circle cx="162.00" cy="601.49" r="1.62"/><circle cx="164.30" cy="601.49" r="1.62"/><circle cx="166.60" cy="601.49" r="1.62"/><circle cx="168.90" cy="601.49" r="1.62"/><circle cx="171.20" cy="601.49" r="1.62"/><circle cx="173.50" cy="601.49" r="1.62"/><circle cx="175.80" cy="601.49" r="1.62"/><circle cx="159.70" cy="609.70" r="1.62"/><circle cx="162.00" cy="609.70" r="1.62"/><circle cx="164.30" cy="609.70" r="1.62"/><circle cx="166.60" cy="609.70" r="1.62"/><circle cx="168.90" cy="609.70" r="1.62"/><circle cx="171.20" cy="609.70" r="1.62"/><circle cx="173.50" cy="609.70" r="1.62"/><circle cx="175.80" cy="609.70" r="1.62"/><circle cx="159.00" cy="617.91" r="1.62"/><circle cx="161.70" cy="617.91" r="1.62"/><circle cx="166.40" cy="617.91" r="1.62"/><circle cx="175.20" cy="617.91" r="1.62"/><circle cx="158.60" cy="626.13" r="1.62"/><circle cx="161.16" cy="626.13" r="1.62"/><circle cx="163.71" cy="626.13" r="1.62"/><circle cx="166.27" cy="626.13" r="1.62"/><circle cx="168.83" cy="626.13" r="1.62"/><circle cx="171.39" cy="626.13" r="1.62"/><circle cx="173.94" cy="626.13" r="1.62"/><circle cx="176.50" cy="626.13" r="1.62"/><circle cx="159.00" cy="634.34" r="1.62"/><circle cx="161.40" cy="634.34" r="1.62"/><circle cx="163.80" cy="634.34" r="1.62"/><circle cx="166.20" cy="634.34" r="1.62"/><circle cx="168.60" cy="634.34" r="1.62"/><circle cx="171.00" cy="634.34" r="1.62"/><circle cx="173.40" cy="634.34" r="1.62"/><circle cx="175.80" cy="634.34" r="1.62"/><circle cx="159.00" cy="642.55" r="1.62"/><circle cx="161.31" cy="642.55" r="1.62"/><circle cx="163.63" cy="642.55" r="1.62"/><circle cx="165.94" cy="642.55" r="1.62"/><circle cx="168.26" cy="642.55" r="1.62"/><circle cx="170.57" cy="642.55" r="1.62"/><circle cx="172.89" cy="642.55" r="1.62"/><circle cx="175.20" cy="642.55" r="1.62"/><circle cx="159.70" cy="650.76" r="1.62"/><circle cx="162.26" cy="650.76" r="1.62"/><circle cx="164.82" cy="650.76" r="1.62"/><circle cx="167.38" cy="650.76" r="1.62"/><circle cx="169.94" cy="650.76" r="1.62"/><circle cx="172.50" cy="650.76" r="1.62"/><circle cx="165.10" cy="658.97" r="1.62"/><circle cx="167.45" cy="658.97" r="1.62"/><circle cx="169.80" cy="658.97" r="1.62"/><circle cx="172.15" cy="658.97" r="1.62"/><circle cx="174.50" cy="658.97" r="1.62"/><circle cx="168.40" cy="667.19" r="1.62"/><circle cx="170.80" cy="667.19" r="1.62"/><circle cx="173.20" cy="667.19" r="1.62"/><circle cx="163.10" cy="675.40" r="1.62"/><circle cx="166.10" cy="675.40" r="1.62"/><circle cx="169.10" cy="675.40" r="1.62"/><circle cx="174.50" cy="675.40" r="1.62"/><circle cx="171.50" cy="683.61" r="1.62"/><circle cx="160.40" cy="691.83" r="1.62"/><circle cx="171.10" cy="691.83" r="1.62"/><circle cx="173.15" cy="691.83" r="1.62"/><circle cx="175.20" cy="691.83" r="1.62"/><circle cx="161.70" cy="700.04" r="1.62"/><circle cx="170.20" cy="700.04" r="1.62"/><circle cx="162.10" cy="732.89" r="1.62"/></g>
<line x1="85.70" x2="85.70" y1="544.00" y2="585.06" stroke="#0000FF" stroke-opacity="0.78" stroke-width="0.95"/>
<line x1="85.70" x2="85.70" y1="642.55" y2="724.68" stroke="#0000FF" stroke-opacity="0.78" stroke-width="0.95"/>
<path d="M69.40,585.06 L102.00,585.06 L102.00,603.60 L94.80,609.70 L102.00,615.80 L102.00,642.55 L69.40,642.55 L69.40,615.80 L76.60,609.70 L69.40,603.60 Z" fill="#fff" fill-opacity="0.22" stroke="#0000FF" stroke-opacity="0.78" stroke-width="0.95" stroke-linejoin="miter"/>
<line x1="76.60" x2="94.80" y1="609.70" y2="609.70" stroke="#0000FF" stroke-opacity="0.85" stroke-width="1.7"/>
<line x1="167.50" x2="167.50" y1="544.00" y2="585.06" stroke="#0000FF" stroke-opacity="0.78" stroke-width="0.95"/>
<line x1="167.50" x2="167.50" y1="642.55" y2="700.04" stroke="#0000FF" stroke-opacity="0.78" stroke-width="0.95"/>
<path d="M151.40,585.06 L183.60,585.06 L183.60,603.70 L176.40,609.70 L183.60,615.70 L183.60,642.55 L151.40,642.55 L151.40,615.70 L158.60,609.70 L151.40,603.70 Z" fill="#fff" fill-opacity="0.22" stroke="#0000FF" stroke-opacity="0.78" stroke-width="0.95" stroke-linejoin="miter"/>
<line x1="158.60" x2="176.40" y1="609.70" y2="609.70" stroke="#0000FF" stroke-opacity="0.85" stroke-width="1.7"/>
<circle cx="167.50" cy="732.89" r="1.62" fill="#0000FF" fill-opacity="0.45"/>
<rect x="37.4" y="535.1" width="178.6" height="206.5" fill="none" stroke="#BBBBBB" stroke-width="1.15"/>
<line x1="32.4" x2="37.4" y1="741.1" y2="741.1" stroke="#B3B3B3" stroke-width="1.05"/>
<text transform="translate(28.8 746.9) scale(1 1.17)" font-size="13.6" fill="#4D4D4D" stroke="#4D4D4D" stroke-width="0.2" text-anchor="end">1</text>
<line x1="32.4" x2="37.4" y1="691.83" y2="691.83" stroke="#B3B3B3" stroke-width="1.05"/>
<text transform="translate(28.8 697.62) scale(1 1.17)" font-size="13.6" fill="#4D4D4D" stroke="#4D4D4D" stroke-width="0.2" text-anchor="end">2</text>
<line x1="32.4" x2="37.4" y1="642.55" y2="642.55" stroke="#B3B3B3" stroke-width="1.05"/>
<text transform="translate(28.8 648.35) scale(1 1.17)" font-size="13.6" fill="#4D4D4D" stroke="#4D4D4D" stroke-width="0.2" text-anchor="end">3</text>
<line x1="32.4" x2="37.4" y1="593.27" y2="593.27" stroke="#B3B3B3" stroke-width="1.05"/>
<text transform="translate(28.8 599.07) scale(1 1.17)" font-size="13.6" fill="#4D4D4D" stroke="#4D4D4D" stroke-width="0.2" text-anchor="end">4</text>
<line x1="32.4" x2="37.4" y1="544" y2="544" stroke="#B3B3B3" stroke-width="1.05"/>
<text transform="translate(28.8 549.8) scale(1 1.17)" font-size="13.6" fill="#4D4D4D" stroke="#4D4D4D" stroke-width="0.2" text-anchor="end">5</text>
<line x1="85.7" x2="85.7" y1="741.6" y2="746.6" stroke="#B3B3B3" stroke-width="1.05"/>
<text transform="translate(85.7 760.7) scale(1 1.12)" font-size="13.6" fill="#4D4D4D" stroke="#4D4D4D" stroke-width="0.2" text-anchor="middle">t1</text>
<line x1="167.5" x2="167.5" y1="741.6" y2="746.6" stroke="#B3B3B3" stroke-width="1.05"/>
<text transform="translate(167.5 760.7) scale(1 1.12)" font-size="13.6" fill="#4D4D4D" stroke="#4D4D4D" stroke-width="0.2" text-anchor="middle">t2</text>
<text transform="translate(126.7 780.3) scale(1.02 1.08)" font-size="17.8" fill="#000" text-anchor="middle">Time</text>
<text x="13" y="638.35" font-size="17.8" fill="#000" text-anchor="middle" transform="rotate(-90 13 638.35)">Need for competence</text>
<line x1="271" x2="450.4" y1="709.3" y2="709.3" stroke="#EBEBEB" stroke-width="0.6"/>
<line x1="271" x2="450.4" y1="662.1" y2="662.1" stroke="#EBEBEB" stroke-width="0.6"/>
<line x1="271" x2="450.4" y1="614.9" y2="614.9" stroke="#EBEBEB" stroke-width="0.6"/>
<line x1="271" x2="450.4" y1="567.7" y2="567.7" stroke="#EBEBEB" stroke-width="0.6"/>
<line x1="271" x2="450.4" y1="732.9" y2="732.9" stroke="#E2E2E2" stroke-width="1.05"/>
<line x1="271" x2="450.4" y1="685.7" y2="685.7" stroke="#E2E2E2" stroke-width="1.05"/>
<line x1="271" x2="450.4" y1="638.5" y2="638.5" stroke="#E2E2E2" stroke-width="1.05"/>
<line x1="271" x2="450.4" y1="591.3" y2="591.3" stroke="#E2E2E2" stroke-width="1.05"/>
<line x1="271" x2="450.4" y1="544.1" y2="544.1" stroke="#E2E2E2" stroke-width="1.05"/>
<line x1="319.8" x2="319.8" y1="535.3" y2="741.6" stroke="#DEDEDE" stroke-width="1.05"/>
<line x1="401.6" x2="401.6" y1="535.3" y2="741.6" stroke="#DEDEDE" stroke-width="1.05"/>
<path d="M325.50,544.10 C325.73,545.95 325.50,551.12 326.90,555.20 C328.30,559.28 330.77,564.12 333.90,568.60 C337.03,573.08 342.17,577.62 345.70,582.10 C349.23,586.58 353.20,591.02 355.10,595.50 C357.00,599.98 356.93,604.52 357.10,609.00 C357.27,613.48 356.73,618.73 356.10,622.40 C355.47,626.07 354.43,628.07 353.30,631.00 C352.17,633.93 351.07,637.03 349.30,640.00 C347.53,642.97 344.73,645.88 342.70,648.80 C340.67,651.72 338.62,654.58 337.10,657.50 C335.58,660.42 334.77,663.38 333.60,666.30 C332.43,669.22 331.57,672.08 330.10,675.00 C328.63,677.92 326.05,680.88 324.80,683.80 C323.55,686.72 323.15,689.42 322.60,692.50 C322.05,695.58 321.80,699.48 321.50,702.30 C321.20,705.12 320.92,708.22 320.80,709.40 L318.80,709.40 C318.68,708.22 318.40,705.12 318.10,702.30 C317.80,699.48 317.55,695.58 317.00,692.50 C316.45,689.42 316.05,686.72 314.80,683.80 C313.55,680.88 310.97,677.92 309.50,675.00 C308.03,672.08 307.17,669.22 306.00,666.30 C304.83,663.38 304.02,660.42 302.50,657.50 C300.98,654.58 298.93,651.72 296.90,648.80 C294.87,645.88 292.07,642.97 290.30,640.00 C288.53,637.03 287.43,633.93 286.30,631.00 C285.17,628.07 284.13,626.07 283.50,622.40 C282.87,618.73 282.33,613.48 282.50,609.00 C282.67,604.52 282.60,599.98 284.50,595.50 C286.40,591.02 290.37,586.58 293.90,582.10 C297.43,577.62 302.57,573.08 305.70,568.60 C308.83,564.12 311.30,559.28 312.70,555.20 C314.10,551.12 313.87,545.95 314.10,544.10 Z" fill="none" stroke="#A9A9A9" stroke-width="1.9" stroke-linejoin="round"/>
<path d="M408.80,544.10 C409.33,545.95 410.17,551.12 412.00,555.20 C413.83,559.28 416.82,564.12 419.80,568.60 C422.78,573.08 427.55,577.62 429.90,582.10 C432.25,586.58 432.90,591.02 433.90,595.50 C434.90,599.98 435.55,604.52 435.90,609.00 C436.25,613.48 436.80,617.92 436.00,622.40 C435.20,626.88 433.18,631.55 431.10,635.90 C429.02,640.25 425.78,644.17 423.50,648.50 C421.22,652.83 419.42,657.42 417.40,661.90 C415.38,666.38 413.20,670.92 411.40,675.40 C409.60,679.88 407.93,684.32 406.60,688.80 C405.27,693.28 404.07,697.82 403.40,702.30 C402.73,706.78 402.75,710.60 402.60,715.70 C402.45,720.80 402.52,730.03 402.50,732.90 L400.70,732.90 C400.68,730.03 400.75,720.80 400.60,715.70 C400.45,710.60 400.47,706.78 399.80,702.30 C399.13,697.82 397.93,693.28 396.60,688.80 C395.27,684.32 393.60,679.88 391.80,675.40 C390.00,670.92 387.82,666.38 385.80,661.90 C383.78,657.42 381.98,652.83 379.70,648.50 C377.42,644.17 374.18,640.25 372.10,635.90 C370.02,631.55 368.00,626.88 367.20,622.40 C366.40,617.92 366.95,613.48 367.30,609.00 C367.65,604.52 368.30,599.98 369.30,595.50 C370.30,591.02 370.95,586.58 373.30,582.10 C375.65,577.62 380.42,573.08 383.40,568.60 C386.38,564.12 389.37,559.28 391.20,555.20 C393.03,551.12 393.87,545.95 394.40,544.10 Z" fill="none" stroke="#A9A9A9" stroke-width="1.9" stroke-linejoin="round"/>
<circle cx="319.80" cy="615.84" r="2.75" fill="#FF1010"/>
<g fill="#000"><circle cx="311.10" cy="544.10" r="1.62"/><circle cx="312.90" cy="544.10" r="1.62"/><circle cx="314.70" cy="544.10" r="1.62"/><circle cx="324.80" cy="544.10" r="1.62"/><circle cx="328.10" cy="544.10" r="1.62"/><circle cx="313.70" cy="551.97" r="1.62"/><circle cx="327.50" cy="551.97" r="1.62"/><circle cx="312.90" cy="559.83" r="1.62"/><circle cx="319.80" cy="559.83" r="1.62"/><circle cx="313.30" cy="567.70" r="1.62"/><circle cx="316.00" cy="567.70" r="1.62"/><circle cx="318.70" cy="567.70" r="1.62"/><circle cx="321.40" cy="567.70" r="1.62"/><circle cx="311.60" cy="575.57" r="1.62"/><circle cx="313.67" cy="575.57" r="1.62"/><circle cx="315.73" cy="575.57" r="1.62"/><circle cx="317.80" cy="575.57" r="1.62"/><circle cx="322.80" cy="575.57" r="1.62"/><circle cx="325.45" cy="575.57" r="1.62"/><circle cx="328.10" cy="575.57" r="1.62"/><circle cx="312.70" cy="583.43" r="1.62"/><circle cx="315.10" cy="583.43" r="1.62"/><circle cx="318.70" cy="583.43" r="1.62"/><circle cx="321.05" cy="583.43" r="1.62"/><circle cx="323.40" cy="583.43" r="1.62"/><circle cx="325.75" cy="583.43" r="1.62"/><circle cx="328.10" cy="583.43" r="1.62"/><circle cx="311.60" cy="591.30" r="1.62"/><circle cx="313.96" cy="591.30" r="1.62"/><circle cx="316.31" cy="591.30" r="1.62"/><circle cx="318.67" cy="591.30" r="1.62"/><circle cx="321.03" cy="591.30" r="1.62"/><circle cx="323.39" cy="591.30" r="1.62"/><circle cx="325.74" cy="591.30" r="1.62"/><circle cx="328.10" cy="591.30" r="1.62"/><circle cx="311.30" cy="599.17" r="1.62"/><circle cx="314.00" cy="599.17" r="1.62"/><circle cx="318.70" cy="599.17" r="1.62"/><circle cx="320.90" cy="599.17" r="1.62"/><circle cx="323.10" cy="599.17" r="1.62"/><circle cx="325.30" cy="599.17" r="1.62"/><circle cx="327.50" cy="599.17" r="1.62"/><circle cx="314.00" cy="607.03" r="1.62"/><circle cx="316.35" cy="607.03" r="1.62"/><circle cx="318.70" cy="607.03" r="1.62"/><circle cx="321.05" cy="607.03" r="1.62"/><circle cx="323.40" cy="607.03" r="1.62"/><circle cx="325.75" cy="607.03" r="1.62"/><circle cx="328.10" cy="607.03" r="1.62"/><circle cx="314.00" cy="614.90" r="1.62"/><circle cx="316.35" cy="614.90" r="1.62"/><circle cx="318.70" cy="614.90" r="1.62"/><circle cx="321.05" cy="614.90" r="1.62"/><circle cx="323.40" cy="614.90" r="1.62"/><circle cx="325.75" cy="614.90" r="1.62"/><circle cx="328.10" cy="614.90" r="1.62"/><circle cx="313.70" cy="622.77" r="1.62"/><circle cx="316.10" cy="622.77" r="1.62"/><circle cx="318.50" cy="622.77" r="1.62"/><circle cx="320.90" cy="622.77" r="1.62"/><circle cx="323.30" cy="622.77" r="1.62"/><circle cx="325.70" cy="622.77" r="1.62"/><circle cx="328.10" cy="622.77" r="1.62"/><circle cx="310.70" cy="630.63" r="1.62"/><circle cx="313.20" cy="630.63" r="1.62"/><circle cx="315.70" cy="630.63" r="1.62"/><circle cx="318.20" cy="630.63" r="1.62"/><circle cx="320.70" cy="630.63" r="1.62"/><circle cx="324.10" cy="630.63" r="1.62"/><circle cx="326.10" cy="630.63" r="1.62"/><circle cx="328.10" cy="630.63" r="1.62"/><circle cx="310.70" cy="638.50" r="1.62"/><circle cx="313.19" cy="638.50" r="1.62"/><circle cx="315.67" cy="638.50" r="1.62"/><circle cx="318.16" cy="638.50" r="1.62"/><circle cx="320.64" cy="638.50" r="1.62"/><circle cx="323.13" cy="638.50" r="1.62"/><circle cx="325.61" cy="638.50" r="1.62"/><circle cx="328.10" cy="638.50" r="1.62"/><circle cx="310.70" cy="646.37" r="1.62"/><circle cx="313.70" cy="646.37" r="1.62"/><circle cx="316.70" cy="646.37" r="1.62"/><circle cx="319.40" cy="646.37" r="1.62"/><circle cx="321.75" cy="646.37" r="1.62"/><circle cx="324.10" cy="646.37" r="1.62"/><circle cx="326.45" cy="646.37" r="1.62"/><circle cx="328.80" cy="646.37" r="1.62"/><circle cx="313.30" cy="654.23" r="1.62"/><circle cx="315.74" cy="654.23" r="1.62"/><circle cx="318.18" cy="654.23" r="1.62"/><circle cx="320.62" cy="654.23" r="1.62"/><circle cx="323.06" cy="654.23" r="1.62"/><circle cx="325.50" cy="654.23" r="1.62"/><circle cx="312.00" cy="662.10" r="1.62"/><circle cx="314.00" cy="662.10" r="1.62"/><circle cx="316.00" cy="662.10" r="1.62"/><circle cx="322.10" cy="662.10" r="1.62"/><circle cx="324.45" cy="662.10" r="1.62"/><circle cx="326.80" cy="662.10" r="1.62"/><circle cx="313.30" cy="669.97" r="1.62"/><circle cx="316.00" cy="669.97" r="1.62"/><circle cx="320.80" cy="669.97" r="1.62"/><circle cx="323.47" cy="669.97" r="1.62"/><circle cx="326.13" cy="669.97" r="1.62"/><circle cx="328.80" cy="669.97" r="1.62"/><circle cx="317.80" cy="677.83" r="1.62"/><circle cx="320.30" cy="677.83" r="1.62"/><circle cx="322.80" cy="677.83" r="1.62"/><circle cx="327.50" cy="677.83" r="1.62"/><circle cx="314.70" cy="693.57" r="1.62"/><circle cx="319.10" cy="693.57" r="1.62"/><circle cx="321.00" cy="709.30" r="1.62"/></g>
<circle cx="401.60" cy="613.96" r="2.75" fill="#FF1010"/>
<g fill="#000"><circle cx="394.90" cy="544.10" r="1.62"/><circle cx="403.30" cy="544.10" r="1.62"/><circle cx="409.40" cy="544.10" r="1.62"/><circle cx="395.30" cy="551.97" r="1.62"/><circle cx="407.80" cy="551.97" r="1.62"/><circle cx="394.60" cy="559.83" r="1.62"/><circle cx="401.10" cy="559.83" r="1.62"/><circle cx="405.60" cy="559.83" r="1.62"/><circle cx="399.70" cy="567.70" r="1.62"/><circle cx="404.60" cy="567.70" r="1.62"/><circle cx="407.00" cy="567.70" r="1.62"/><circle cx="409.40" cy="567.70" r="1.62"/><circle cx="393.90" cy="575.57" r="1.62"/><circle cx="396.32" cy="575.57" r="1.62"/><circle cx="398.74" cy="575.57" r="1.62"/><circle cx="401.16" cy="575.57" r="1.62"/><circle cx="403.58" cy="575.57" r="1.62"/><circle cx="406.00" cy="575.57" r="1.62"/><circle cx="393.30" cy="583.43" r="1.62"/><circle cx="395.70" cy="583.43" r="1.62"/><circle cx="398.10" cy="583.43" r="1.62"/><circle cx="400.50" cy="583.43" r="1.62"/><circle cx="402.90" cy="583.43" r="1.62"/><circle cx="405.30" cy="583.43" r="1.62"/><circle cx="407.70" cy="583.43" r="1.62"/><circle cx="410.10" cy="583.43" r="1.62"/><circle cx="393.90" cy="591.30" r="1.62"/><circle cx="396.21" cy="591.30" r="1.62"/><circle cx="398.53" cy="591.30" r="1.62"/><circle cx="400.84" cy="591.30" r="1.62"/><circle cx="403.16" cy="591.30" r="1.62"/><circle cx="405.47" cy="591.30" r="1.62"/><circle cx="407.79" cy="591.30" r="1.62"/><circle cx="410.10" cy="591.30" r="1.62"/><circle cx="393.30" cy="599.17" r="1.62"/><circle cx="395.48" cy="599.17" r="1.62"/><circle cx="397.65" cy="599.17" r="1.62"/><circle cx="399.83" cy="599.17" r="1.62"/><circle cx="402.00" cy="599.17" r="1.62"/><circle cx="406.00" cy="599.17" r="1.62"/><circle cx="408.05" cy="599.17" r="1.62"/><circle cx="410.10" cy="599.17" r="1.62"/><circle cx="393.30" cy="607.03" r="1.62"/><circle cx="395.84" cy="607.03" r="1.62"/><circle cx="398.38" cy="607.03" r="1.62"/><circle cx="400.92" cy="607.03" r="1.62"/><circle cx="403.46" cy="607.03" r="1.62"/><circle cx="406.00" cy="607.03" r="1.62"/><circle cx="394.60" cy="614.90" r="1.62"/><circle cx="396.78" cy="614.90" r="1.62"/><circle cx="398.95" cy="614.90" r="1.62"/><circle cx="401.12" cy="614.90" r="1.62"/><circle cx="403.30" cy="614.90" r="1.62"/><circle cx="393.30" cy="622.77" r="1.62"/><circle cx="395.70" cy="622.77" r="1.62"/><circle cx="398.10" cy="622.77" r="1.62"/><circle cx="400.50" cy="622.77" r="1.62"/><circle cx="402.90" cy="622.77" r="1.62"/><circle cx="405.30" cy="622.77" r="1.62"/><circle cx="407.70" cy="622.77" r="1.62"/><circle cx="410.10" cy="622.77" r="1.62"/><circle cx="393.00" cy="630.63" r="1.62"/><circle cx="395.28" cy="630.63" r="1.62"/><circle cx="397.57" cy="630.63" r="1.62"/><circle cx="399.85" cy="630.63" r="1.62"/><circle cx="402.13" cy="630.63" r="1.62"/><circle cx="404.42" cy="630.63" r="1.62"/><circle cx="406.70" cy="630.63" r="1.62"/><circle cx="397.30" cy="638.50" r="1.62"/><circle cx="399.72" cy="638.50" r="1.62"/><circle cx="402.14" cy="638.50" r="1.62"/><circle cx="404.56" cy="638.50" r="1.62"/><circle cx="406.98" cy="638.50" r="1.62"/><circle cx="409.40" cy="638.50" r="1.62"/><circle cx="393.00" cy="646.37" r="1.62"/><circle cx="395.34" cy="646.37" r="1.62"/><circle cx="397.69" cy="646.37" r="1.62"/><circle cx="400.03" cy="646.37" r="1.62"/><circle cx="402.37" cy="646.37" r="1.62"/><circle cx="404.71" cy="646.37" r="1.62"/><circle cx="407.06" cy="646.37" r="1.62"/><circle cx="409.40" cy="646.37" r="1.62"/><circle cx="394.60" cy="654.23" r="1.62"/><circle cx="396.88" cy="654.23" r="1.62"/><circle cx="399.16" cy="654.23" r="1.62"/><circle cx="401.44" cy="654.23" r="1.62"/><circle cx="403.72" cy="654.23" r="1.62"/><circle cx="406.00" cy="654.23" r="1.62"/><circle cx="394.60" cy="662.10" r="1.62"/><circle cx="396.83" cy="662.10" r="1.62"/><circle cx="399.07" cy="662.10" r="1.62"/><circle cx="401.30" cy="662.10" r="1.62"/><circle cx="405.40" cy="662.10" r="1.62"/><circle cx="407.75" cy="662.10" r="1.62"/><circle cx="410.10" cy="662.10" r="1.62"/><circle cx="398.00" cy="669.97" r="1.62"/><circle cx="398.40" cy="677.83" r="1.62"/><circle cx="404.30" cy="677.83" r="1.62"/><circle cx="409.40" cy="677.83" r="1.62"/><circle cx="400.30" cy="685.70" r="1.62"/><circle cx="406.00" cy="685.70" r="1.62"/><circle cx="405.10" cy="693.57" r="1.62"/><circle cx="408.70" cy="701.43" r="1.62"/><circle cx="407.80" cy="732.90" r="1.62"/></g>
<line x1="319.80" x2="319.80" y1="544.10" y2="591.30" stroke="#0000FF" stroke-opacity="0.78" stroke-width="0.95"/>
<line x1="319.80" x2="319.80" y1="638.50" y2="709.30" stroke="#0000FF" stroke-opacity="0.78" stroke-width="0.95"/>
<path d="M303.10,591.30 L336.50,591.30 L336.50,609.60 L328.90,614.90 L336.50,620.20 L336.50,638.50 L303.10,638.50 L303.10,620.20 L310.70,614.90 L303.10,609.60 Z" fill="#fff" fill-opacity="0.22" stroke="#0000FF" stroke-opacity="0.78" stroke-width="0.95" stroke-linejoin="miter"/>
<line x1="310.70" x2="328.90" y1="614.90" y2="614.90" stroke="#0000FF" stroke-opacity="0.85" stroke-width="1.7"/>
<line x1="401.60" x2="401.60" y1="544.10" y2="591.30" stroke="#0000FF" stroke-opacity="0.78" stroke-width="0.95"/>
<line x1="401.60" x2="401.60" y1="638.50" y2="701.43" stroke="#0000FF" stroke-opacity="0.78" stroke-width="0.95"/>
<path d="M384.90,591.30 L418.30,591.30 L418.30,609.40 L410.50,614.90 L418.30,620.40 L418.30,638.50 L384.90,638.50 L384.90,620.40 L392.70,614.90 L384.90,609.40 Z" fill="#fff" fill-opacity="0.22" stroke="#0000FF" stroke-opacity="0.78" stroke-width="0.95" stroke-linejoin="miter"/>
<line x1="392.70" x2="410.50" y1="614.90" y2="614.90" stroke="#0000FF" stroke-opacity="0.85" stroke-width="1.7"/>
<circle cx="401.60" cy="732.90" r="1.62" fill="#0000FF" fill-opacity="0.45"/>
<rect x="271" y="535.3" width="179.4" height="206.3" fill="none" stroke="#BBBBBB" stroke-width="1.15"/>
<line x1="266" x2="271" y1="732.9" y2="732.9" stroke="#B3B3B3" stroke-width="1.05"/>
<text transform="translate(262.4 738.7) scale(1 1.17)" font-size="13.6" fill="#4D4D4D" stroke="#4D4D4D" stroke-width="0.2" text-anchor="end">1</text>
<line x1="266" x2="271" y1="685.7" y2="685.7" stroke="#B3B3B3" stroke-width="1.05"/>
<text transform="translate(262.4 691.5) scale(1 1.17)" font-size="13.6" fill="#4D4D4D" stroke="#4D4D4D" stroke-width="0.2" text-anchor="end">2</text>
<line x1="266" x2="271" y1="638.5" y2="638.5" stroke="#B3B3B3" stroke-width="1.05"/>
<text transform="translate(262.4 644.3) scale(1 1.17)" font-size="13.6" fill="#4D4D4D" stroke="#4D4D4D" stroke-width="0.2" text-anchor="end">3</text>
<line x1="266" x2="271" y1="591.3" y2="591.3" stroke="#B3B3B3" stroke-width="1.05"/>
<text transform="translate(262.4 597.1) scale(1 1.17)" font-size="13.6" fill="#4D4D4D" stroke="#4D4D4D" stroke-width="0.2" text-anchor="end">4</text>
<line x1="266" x2="271" y1="544.1" y2="544.1" stroke="#B3B3B3" stroke-width="1.05"/>
<text transform="translate(262.4 549.9) scale(1 1.17)" font-size="13.6" fill="#4D4D4D" stroke="#4D4D4D" stroke-width="0.2" text-anchor="end">5</text>
<line x1="319.8" x2="319.8" y1="741.6" y2="746.6" stroke="#B3B3B3" stroke-width="1.05"/>
<text transform="translate(319.8 760.7) scale(1 1.12)" font-size="13.6" fill="#4D4D4D" stroke="#4D4D4D" stroke-width="0.2" text-anchor="middle">t1</text>
<line x1="401.6" x2="401.6" y1="741.6" y2="746.6" stroke="#B3B3B3" stroke-width="1.05"/>
<text transform="translate(401.6 760.7) scale(1 1.12)" font-size="13.6" fill="#4D4D4D" stroke="#4D4D4D" stroke-width="0.2" text-anchor="middle">t2</text>
<text transform="translate(360.7 780.3) scale(1.02 1.08)" font-size="17.8" fill="#000" text-anchor="middle">Time</text>
<text x="246.6" y="638.45" font-size="17.8" fill="#000" text-anchor="middle" transform="rotate(-90 246.6 638.45)">Need for autonomy</text>
<line x1="505.5" x2="684.4" y1="733" y2="733" stroke="#EBEBEB" stroke-width="0.6"/>
<line x1="505.5" x2="684.4" y1="657.44" y2="657.44" stroke="#EBEBEB" stroke-width="0.6"/>
<line x1="505.5" x2="684.4" y1="581.88" y2="581.88" stroke="#EBEBEB" stroke-width="0.6"/>
<line x1="505.5" x2="684.4" y1="695.22" y2="695.22" stroke="#E2E2E2" stroke-width="1.05"/>
<line x1="505.5" x2="684.4" y1="619.66" y2="619.66" stroke="#E2E2E2" stroke-width="1.05"/>
<line x1="505.5" x2="684.4" y1="544.1" y2="544.1" stroke="#E2E2E2" stroke-width="1.05"/>
<line x1="554.1" x2="554.1" y1="535.3" y2="741.8" stroke="#DEDEDE" stroke-width="1.05"/>
<line x1="635.7" x2="635.7" y1="535.3" y2="741.8" stroke="#DEDEDE" stroke-width="1.05"/>
<path d="M571.50,544.10 C571.22,544.83 570.63,546.43 569.80,548.50 C568.97,550.57 566.80,554.27 566.50,556.50 C566.20,558.73 566.42,559.88 568.00,561.90 C569.58,563.92 573.05,566.35 576.00,568.60 C578.95,570.85 583.18,573.03 585.70,575.40 C588.22,577.77 590.65,580.57 591.10,582.80 C591.55,585.03 590.20,586.68 588.40,588.80 C586.60,590.92 582.65,593.25 580.30,595.50 C577.95,597.75 575.42,600.05 574.30,602.30 C573.18,604.55 573.27,606.77 573.60,609.00 C573.93,611.23 575.85,613.47 576.30,615.70 C576.75,617.93 576.63,620.15 576.30,622.40 C575.97,624.65 575.37,626.27 574.30,629.20 C573.23,632.13 571.50,636.78 569.90,640.00 C568.30,643.22 565.78,644.85 564.70,648.50 C563.62,652.15 563.82,658.55 563.40,661.90 C562.98,665.25 562.97,666.35 562.20,668.60 C561.43,670.85 559.85,672.03 558.80,675.40 C557.75,678.77 556.43,684.32 555.90,688.80 C555.37,693.28 555.65,697.13 555.60,702.30 C555.55,707.47 555.60,716.88 555.60,719.80 L552.60,719.80 C552.60,716.88 552.65,707.47 552.60,702.30 C552.55,697.13 552.83,693.28 552.30,688.80 C551.77,684.32 550.45,678.77 549.40,675.40 C548.35,672.03 546.77,670.85 546.00,668.60 C545.23,666.35 545.22,665.25 544.80,661.90 C544.38,658.55 544.58,652.15 543.50,648.50 C542.42,644.85 539.90,643.22 538.30,640.00 C536.70,636.78 534.97,632.13 533.90,629.20 C532.83,626.27 532.23,624.65 531.90,622.40 C531.57,620.15 531.45,617.93 531.90,615.70 C532.35,613.47 534.27,611.23 534.60,609.00 C534.93,606.77 535.02,604.55 533.90,602.30 C532.78,600.05 530.25,597.75 527.90,595.50 C525.55,593.25 521.60,590.92 519.80,588.80 C518.00,586.68 516.65,585.03 517.10,582.80 C517.55,580.57 519.98,577.77 522.50,575.40 C525.02,573.03 529.25,570.85 532.20,568.60 C535.15,566.35 538.62,563.92 540.20,561.90 C541.78,559.88 542.00,558.73 541.70,556.50 C541.40,554.27 539.23,550.57 538.40,548.50 C537.57,546.43 536.98,544.83 536.70,544.10 Z" fill="none" stroke="#A9A9A9" stroke-width="1.9" stroke-linejoin="round"/>
<path d="M649.20,544.10 C649.27,544.83 649.50,546.65 649.60,548.50 C649.70,550.35 649.48,552.97 649.80,555.20 C650.12,557.43 650.55,559.67 651.50,561.90 C652.45,564.13 654.10,566.35 655.50,568.60 C656.90,570.85 658.87,573.15 659.90,575.40 C660.93,577.65 661.50,579.87 661.70,582.10 C661.90,584.33 661.68,586.57 661.10,588.80 C660.52,591.03 659.07,593.25 658.20,595.50 C657.33,597.75 656.40,600.05 655.90,602.30 C655.40,604.55 655.32,605.65 655.20,609.00 C655.08,612.35 655.33,619.03 655.20,622.40 C655.07,625.77 654.73,626.27 654.40,629.20 C654.07,632.13 653.97,636.78 653.20,640.00 C652.43,643.22 651.03,644.85 649.80,648.50 C648.57,652.15 646.92,657.42 645.80,661.90 C644.68,666.38 643.80,670.92 643.10,675.40 C642.40,679.88 642.27,684.32 641.60,688.80 C640.93,693.28 639.75,697.82 639.10,702.30 C638.45,706.78 637.97,710.60 637.70,715.70 C637.43,720.80 637.53,730.03 637.50,732.90 L633.90,732.90 C633.87,730.03 633.97,720.80 633.70,715.70 C633.43,710.60 632.95,706.78 632.30,702.30 C631.65,697.82 630.47,693.28 629.80,688.80 C629.13,684.32 629.00,679.88 628.30,675.40 C627.60,670.92 626.72,666.38 625.60,661.90 C624.48,657.42 622.83,652.15 621.60,648.50 C620.37,644.85 618.97,643.22 618.20,640.00 C617.43,636.78 617.33,632.13 617.00,629.20 C616.67,626.27 616.33,625.77 616.20,622.40 C616.07,619.03 616.32,612.35 616.20,609.00 C616.08,605.65 616.00,604.55 615.50,602.30 C615.00,600.05 614.07,597.75 613.20,595.50 C612.33,593.25 610.88,591.03 610.30,588.80 C609.72,586.57 609.50,584.33 609.70,582.10 C609.90,579.87 610.47,577.65 611.50,575.40 C612.53,573.15 614.50,570.85 615.90,568.60 C617.30,566.35 618.95,564.13 619.90,561.90 C620.85,559.67 621.28,557.43 621.60,555.20 C621.92,552.97 621.70,550.35 621.80,548.50 C621.90,546.65 622.13,544.83 622.20,544.10 Z" fill="none" stroke="#A9A9A9" stroke-width="1.9" stroke-linejoin="round"/>
<circle cx="554.10" cy="599.64" r="2.75" fill="#FF1010"/>
<g fill="#000"><circle cx="545.20" cy="544.10" r="1.62"/><circle cx="547.63" cy="544.10" r="1.62"/><circle cx="550.06" cy="544.10" r="1.62"/><circle cx="552.49" cy="544.10" r="1.62"/><circle cx="554.91" cy="544.10" r="1.62"/><circle cx="557.34" cy="544.10" r="1.62"/><circle cx="559.77" cy="544.10" r="1.62"/><circle cx="562.20" cy="544.10" r="1.62"/><circle cx="547.40" cy="556.69" r="1.62"/><circle cx="556.80" cy="556.69" r="1.62"/><circle cx="558.80" cy="556.69" r="1.62"/><circle cx="560.80" cy="556.69" r="1.62"/><circle cx="546.00" cy="569.29" r="1.62"/><circle cx="548.40" cy="569.29" r="1.62"/><circle cx="550.80" cy="569.29" r="1.62"/><circle cx="553.20" cy="569.29" r="1.62"/><circle cx="555.60" cy="569.29" r="1.62"/><circle cx="558.00" cy="569.29" r="1.62"/><circle cx="560.40" cy="569.29" r="1.62"/><circle cx="562.80" cy="569.29" r="1.62"/><circle cx="545.40" cy="581.88" r="1.62"/><circle cx="547.89" cy="581.88" r="1.62"/><circle cx="550.37" cy="581.88" r="1.62"/><circle cx="552.86" cy="581.88" r="1.62"/><circle cx="555.34" cy="581.88" r="1.62"/><circle cx="557.83" cy="581.88" r="1.62"/><circle cx="560.31" cy="581.88" r="1.62"/><circle cx="562.80" cy="581.88" r="1.62"/><circle cx="546.00" cy="594.47" r="1.62"/><circle cx="548.40" cy="594.47" r="1.62"/><circle cx="550.80" cy="594.47" r="1.62"/><circle cx="553.20" cy="594.47" r="1.62"/><circle cx="555.60" cy="594.47" r="1.62"/><circle cx="558.00" cy="594.47" r="1.62"/><circle cx="560.40" cy="594.47" r="1.62"/><circle cx="562.80" cy="594.47" r="1.62"/><circle cx="545.40" cy="607.07" r="1.62"/><circle cx="547.97" cy="607.07" r="1.62"/><circle cx="550.53" cy="607.07" r="1.62"/><circle cx="553.10" cy="607.07" r="1.62"/><circle cx="555.67" cy="607.07" r="1.62"/><circle cx="558.23" cy="607.07" r="1.62"/><circle cx="560.80" cy="607.07" r="1.62"/><circle cx="546.70" cy="619.66" r="1.62"/><circle cx="549.00" cy="619.66" r="1.62"/><circle cx="551.30" cy="619.66" r="1.62"/><circle cx="553.60" cy="619.66" r="1.62"/><circle cx="555.90" cy="619.66" r="1.62"/><circle cx="558.20" cy="619.66" r="1.62"/><circle cx="560.50" cy="619.66" r="1.62"/><circle cx="562.80" cy="619.66" r="1.62"/><circle cx="546.00" cy="632.25" r="1.62"/><circle cx="548.70" cy="632.25" r="1.62"/><circle cx="551.40" cy="632.25" r="1.62"/><circle cx="554.10" cy="632.25" r="1.62"/><circle cx="556.80" cy="632.25" r="1.62"/><circle cx="559.50" cy="632.25" r="1.62"/><circle cx="562.20" cy="632.25" r="1.62"/><circle cx="548.70" cy="644.85" r="1.62"/><circle cx="551.17" cy="644.85" r="1.62"/><circle cx="553.63" cy="644.85" r="1.62"/><circle cx="556.10" cy="644.85" r="1.62"/><circle cx="558.57" cy="644.85" r="1.62"/><circle cx="561.03" cy="644.85" r="1.62"/><circle cx="563.50" cy="644.85" r="1.62"/><circle cx="546.00" cy="657.44" r="1.62"/><circle cx="550.70" cy="657.44" r="1.62"/><circle cx="552.97" cy="657.44" r="1.62"/><circle cx="555.23" cy="657.44" r="1.62"/><circle cx="557.50" cy="657.44" r="1.62"/><circle cx="550.10" cy="670.03" r="1.62"/><circle cx="554.80" cy="670.03" r="1.62"/><circle cx="557.47" cy="670.03" r="1.62"/><circle cx="560.13" cy="670.03" r="1.62"/><circle cx="562.80" cy="670.03" r="1.62"/><circle cx="551.70" cy="682.63" r="1.62"/><circle cx="556.80" cy="695.22" r="1.62"/><circle cx="548.50" cy="707.81" r="1.62"/><circle cx="558.80" cy="720.41" r="1.62"/></g>
<circle cx="635.70" cy="609.08" r="2.75" fill="#FF1010"/>
<g fill="#000"><circle cx="627.60" cy="544.10" r="1.62"/><circle cx="630.00" cy="544.10" r="1.62"/><circle cx="632.40" cy="544.10" r="1.62"/><circle cx="634.80" cy="544.10" r="1.62"/><circle cx="637.20" cy="544.10" r="1.62"/><circle cx="639.60" cy="544.10" r="1.62"/><circle cx="642.00" cy="544.10" r="1.62"/><circle cx="644.40" cy="544.10" r="1.62"/><circle cx="630.30" cy="556.69" r="1.62"/><circle cx="632.33" cy="556.69" r="1.62"/><circle cx="634.37" cy="556.69" r="1.62"/><circle cx="636.40" cy="556.69" r="1.62"/><circle cx="641.70" cy="556.69" r="1.62"/><circle cx="643.10" cy="556.69" r="1.62"/><circle cx="629.70" cy="569.29" r="1.62"/><circle cx="631.00" cy="569.29" r="1.62"/><circle cx="636.40" cy="569.29" r="1.62"/><circle cx="638.63" cy="569.29" r="1.62"/><circle cx="640.87" cy="569.29" r="1.62"/><circle cx="643.10" cy="569.29" r="1.62"/><circle cx="627.60" cy="581.88" r="1.62"/><circle cx="630.00" cy="581.88" r="1.62"/><circle cx="632.40" cy="581.88" r="1.62"/><circle cx="634.80" cy="581.88" r="1.62"/><circle cx="637.20" cy="581.88" r="1.62"/><circle cx="639.60" cy="581.88" r="1.62"/><circle cx="642.00" cy="581.88" r="1.62"/><circle cx="644.40" cy="581.88" r="1.62"/><circle cx="627.60" cy="594.47" r="1.62"/><circle cx="629.91" cy="594.47" r="1.62"/><circle cx="632.23" cy="594.47" r="1.62"/><circle cx="634.54" cy="594.47" r="1.62"/><circle cx="636.86" cy="594.47" r="1.62"/><circle cx="639.17" cy="594.47" r="1.62"/><circle cx="641.49" cy="594.47" r="1.62"/><circle cx="643.80" cy="594.47" r="1.62"/><circle cx="627.60" cy="607.07" r="1.62"/><circle cx="630.00" cy="607.07" r="1.62"/><circle cx="632.40" cy="607.07" r="1.62"/><circle cx="634.80" cy="607.07" r="1.62"/><circle cx="637.20" cy="607.07" r="1.62"/><circle cx="639.60" cy="607.07" r="1.62"/><circle cx="642.00" cy="607.07" r="1.62"/><circle cx="644.40" cy="607.07" r="1.62"/><circle cx="628.30" cy="619.66" r="1.62"/><circle cx="630.88" cy="619.66" r="1.62"/><circle cx="633.47" cy="619.66" r="1.62"/><circle cx="636.05" cy="619.66" r="1.62"/><circle cx="638.63" cy="619.66" r="1.62"/><circle cx="641.22" cy="619.66" r="1.62"/><circle cx="643.80" cy="619.66" r="1.62"/><circle cx="627.60" cy="632.25" r="1.62"/><circle cx="630.00" cy="632.25" r="1.62"/><circle cx="632.40" cy="632.25" r="1.62"/><circle cx="634.80" cy="632.25" r="1.62"/><circle cx="637.20" cy="632.25" r="1.62"/><circle cx="639.60" cy="632.25" r="1.62"/><circle cx="642.00" cy="632.25" r="1.62"/><circle cx="644.40" cy="632.25" r="1.62"/><circle cx="626.30" cy="644.85" r="1.62"/><circle cx="628.48" cy="644.85" r="1.62"/><circle cx="630.65" cy="644.85" r="1.62"/><circle cx="632.83" cy="644.85" r="1.62"/><circle cx="635.00" cy="644.85" r="1.62"/><circle cx="637.70" cy="644.85" r="1.62"/><circle cx="639.73" cy="644.85" r="1.62"/><circle cx="641.77" cy="644.85" r="1.62"/><circle cx="643.80" cy="644.85" r="1.62"/><circle cx="631.00" cy="657.44" r="1.62"/><circle cx="634.00" cy="657.44" r="1.62"/><circle cx="637.00" cy="657.44" r="1.62"/><circle cx="640.40" cy="657.44" r="1.62"/><circle cx="642.40" cy="657.44" r="1.62"/><circle cx="644.40" cy="657.44" r="1.62"/><circle cx="628.30" cy="670.03" r="1.62"/><circle cx="630.65" cy="670.03" r="1.62"/><circle cx="633.00" cy="670.03" r="1.62"/><circle cx="635.70" cy="670.03" r="1.62"/><circle cx="637.70" cy="670.03" r="1.62"/><circle cx="639.70" cy="670.03" r="1.62"/><circle cx="643.80" cy="670.03" r="1.62"/><circle cx="635.70" cy="682.63" r="1.62"/><circle cx="638.40" cy="682.63" r="1.62"/><circle cx="641.10" cy="682.63" r="1.62"/><circle cx="643.80" cy="682.63" r="1.62"/><circle cx="634.40" cy="695.22" r="1.62"/><circle cx="639.10" cy="695.22" r="1.62"/><circle cx="641.45" cy="695.22" r="1.62"/><circle cx="643.80" cy="695.22" r="1.62"/><circle cx="635.70" cy="733.00" r="1.62"/><circle cx="640.40" cy="733.00" r="1.62"/><circle cx="643.80" cy="733.00" r="1.62"/></g>
<line x1="554.10" x2="554.10" y1="544.10" y2="581.88" stroke="#0000FF" stroke-opacity="0.78" stroke-width="0.95"/>
<line x1="554.10" x2="554.10" y1="619.66" y2="670.03" stroke="#0000FF" stroke-opacity="0.78" stroke-width="0.95"/>
<path d="M537.50,581.88 L570.70,581.88 L570.70,590.47 L562.20,594.47 L570.70,598.47 L570.70,619.66 L537.50,619.66 L537.50,598.47 L546.00,594.47 L537.50,590.47 Z" fill="#fff" fill-opacity="0.22" stroke="#0000FF" stroke-opacity="0.78" stroke-width="0.95" stroke-linejoin="miter"/>
<line x1="546.00" x2="562.20" y1="594.47" y2="594.47" stroke="#0000FF" stroke-opacity="0.85" stroke-width="1.7"/>
<circle cx="554.10" cy="682.63" r="1.62" fill="#0000FF" fill-opacity="0.45"/>
<circle cx="554.10" cy="695.22" r="1.62" fill="#0000FF" fill-opacity="0.45"/>
<circle cx="554.10" cy="707.81" r="1.62" fill="#0000FF" fill-opacity="0.45"/>
<circle cx="554.10" cy="720.41" r="1.62" fill="#0000FF" fill-opacity="0.45"/>
<line x1="635.70" x2="635.70" y1="544.10" y2="581.88" stroke="#0000FF" stroke-opacity="0.78" stroke-width="0.95"/>
<line x1="635.70" x2="635.70" y1="632.25" y2="695.22" stroke="#0000FF" stroke-opacity="0.78" stroke-width="0.95"/>
<path d="M619.10,581.88 L652.30,581.88 L652.30,601.07 L644.40,607.07 L652.30,613.07 L652.30,632.25 L619.10,632.25 L619.10,613.07 L627.00,607.07 L619.10,601.07 Z" fill="#fff" fill-opacity="0.22" stroke="#0000FF" stroke-opacity="0.78" stroke-width="0.95" stroke-linejoin="miter"/>
<line x1="627.00" x2="644.40" y1="607.07" y2="607.07" stroke="#0000FF" stroke-opacity="0.85" stroke-width="1.7"/>
<circle cx="635.70" cy="733.00" r="1.62" fill="#0000FF" fill-opacity="0.45"/>
<circle cx="635.70" cy="733.00" r="1.62" fill="#0000FF" fill-opacity="0.45"/>
<rect x="505.5" y="535.3" width="178.9" height="206.5" fill="none" stroke="#BBBBBB" stroke-width="1.15"/>
<line x1="500.5" x2="505.5" y1="695.22" y2="695.22" stroke="#B3B3B3" stroke-width="1.05"/>
<text transform="translate(496.9 701.02) scale(1 1.17)" font-size="13.6" fill="#4D4D4D" stroke="#4D4D4D" stroke-width="0.2" text-anchor="end">2</text>
<line x1="500.5" x2="505.5" y1="619.66" y2="619.66" stroke="#B3B3B3" stroke-width="1.05"/>
<text transform="translate(496.9 625.46) scale(1 1.17)" font-size="13.6" fill="#4D4D4D" stroke="#4D4D4D" stroke-width="0.2" text-anchor="end">4</text>
<line x1="500.5" x2="505.5" y1="544.1" y2="544.1" stroke="#B3B3B3" stroke-width="1.05"/>
<text transform="translate(496.9 549.9) scale(1 1.17)" font-size="13.6" fill="#4D4D4D" stroke="#4D4D4D" stroke-width="0.2" text-anchor="end">6</text>
<line x1="554.1" x2="554.1" y1="741.8" y2="746.8" stroke="#B3B3B3" stroke-width="1.05"/>
<text transform="translate(554.1 760.9) scale(1 1.12)" font-size="13.6" fill="#4D4D4D" stroke="#4D4D4D" stroke-width="0.2" text-anchor="middle">t1</text>
<line x1="635.7" x2="635.7" y1="741.8" y2="746.8" stroke="#B3B3B3" stroke-width="1.05"/>
<text transform="translate(635.7 760.9) scale(1 1.12)" font-size="13.6" fill="#4D4D4D" stroke="#4D4D4D" stroke-width="0.2" text-anchor="middle">t2</text>
<text transform="translate(594.95 780.5) scale(1.02 1.08)" font-size="17.8" fill="#000" text-anchor="middle">Time</text>
<text x="481.1" y="638.55" font-size="17.8" fill="#000" text-anchor="middle" transform="rotate(-90 481.1 638.55)">Communication with colleagues</text>
</svg></body></html>
